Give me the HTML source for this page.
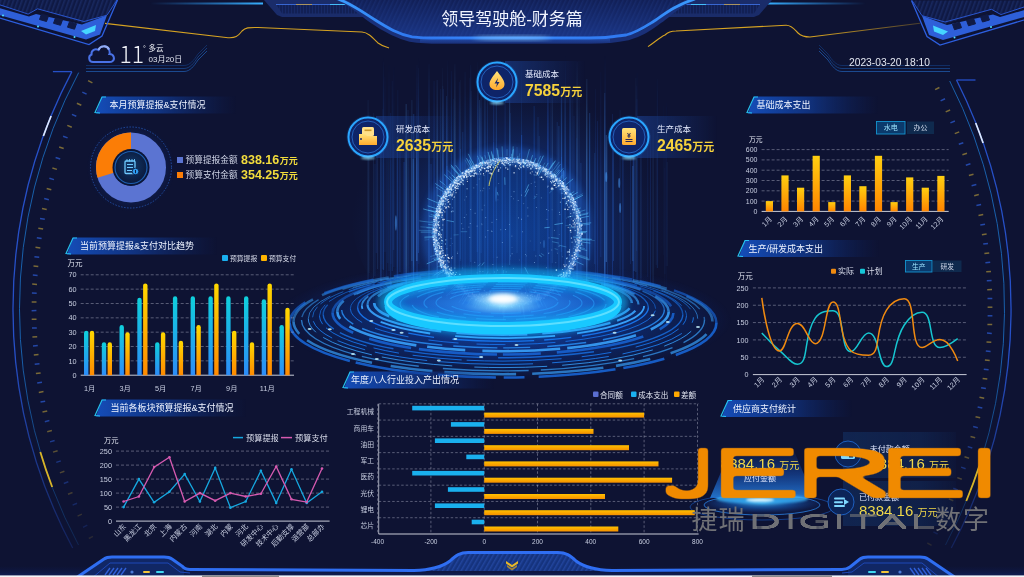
<!DOCTYPE html>
<html lang="zh-CN"><head><meta charset="utf-8"><title>领导驾驶舱-财务篇</title>
<style>
html,body{margin:0;padding:0;background:#0e1333;overflow:hidden;}
#s{position:relative;width:1024px;height:577px;background:#0e1333;overflow:hidden;font-family:'Liberation Sans','Noto Sans CJK SC',sans-serif;}
svg{position:absolute;left:0;top:0;display:block;}
</style></head><body><div id="s">
<svg width="1024" height="577" viewBox="0 0 1024 577">

<defs>
<linearGradient id="tbg" x1="0" x2="1" y1="0" y2="0">
  <stop offset="0" stop-color="#1550c0" stop-opacity="0.95"/>
  <stop offset="0.45" stop-color="#123e9a" stop-opacity="0.75"/>
  <stop offset="1" stop-color="#0e2a70" stop-opacity="0"/>
</linearGradient>
<linearGradient id="tln" x1="0" x2="1" y1="0" y2="0">
  <stop offset="0" stop-color="#2f8cff" stop-opacity="1"/>
  <stop offset="0.6" stop-color="#2a6ee0" stop-opacity="0.6"/>
  <stop offset="1" stop-color="#2a6ee0" stop-opacity="0"/>
</linearGradient>
<linearGradient id="tln2" x1="0" x2="1" y1="0" y2="0">
  <stop offset="0" stop-color="#2a9cff" stop-opacity="1"/>
  <stop offset="0.6" stop-color="#1a6ae0" stop-opacity="0.7"/>
  <stop offset="1" stop-color="#1a6ae0" stop-opacity="0"/>
</linearGradient>
<linearGradient id="gcyan" x1="0" x2="0" y1="0" y2="1">
  <stop offset="0" stop-color="#0fd0dc"/>
  <stop offset="1" stop-color="#2d8cf8"/>
</linearGradient>
<linearGradient id="gorange" x1="0" x2="0" y1="0" y2="1">
  <stop offset="0" stop-color="#ffd800"/>
  <stop offset="1" stop-color="#ff8a00"/>
</linearGradient>
<linearGradient id="gorange2" x1="0" x2="0" y1="0" y2="1">
  <stop offset="0" stop-color="#ffcf10"/>
  <stop offset="1" stop-color="#ff8400"/>
</linearGradient>
<linearGradient id="gorangeh" x1="0" x2="0" y1="0" y2="1">
  <stop offset="0" stop-color="#ffc000"/>
  <stop offset="1" stop-color="#f59000"/>
</linearGradient>
<linearGradient id="goldg" x1="0" x2="0" y1="0" y2="1">
  <stop offset="0" stop-color="#ffe27a"/>
  <stop offset="1" stop-color="#ffab2e"/>
</linearGradient>
<linearGradient id="hdrbg" x1="0" x2="0" y1="0" y2="1">
  <stop offset="0" stop-color="#111f56"/>
  <stop offset="1" stop-color="#1a3585"/>
</linearGradient>
<linearGradient id="hline" x1="0" x2="1" y1="0" y2="0">
  <stop offset="0" stop-color="#3a9cff"/>
  <stop offset="0.2" stop-color="#2f78f0"/>
  <stop offset="0.5" stop-color="#3a8cff"/>
  <stop offset="0.8" stop-color="#2f78f0"/>
  <stop offset="1" stop-color="#3a9cff"/>
</linearGradient>
<linearGradient id="ylR" gradientUnits="userSpaceOnUse" x1="648" x2="920" y1="0" y2="0">
  <stop offset="0" stop-color="#d6a322"/>
  <stop offset="0.6" stop-color="#d6a322"/>
  <stop offset="1" stop-color="#d6a322" stop-opacity="0.3"/>
</linearGradient>
<linearGradient id="hglow" x1="0" x2="0" y1="0" y2="1">
  <stop offset="0" stop-color="#2a6ae0" stop-opacity="0.45"/>
  <stop offset="1" stop-color="#2a6ae0" stop-opacity="0"/>
</linearGradient>
<linearGradient id="cone" x1="0" x2="0" y1="0" y2="1">
  <stop offset="0" stop-color="#1a5ad0" stop-opacity="0"/>
  <stop offset="0.5" stop-color="#1a62d8" stop-opacity="0.4"/>
  <stop offset="1" stop-color="#2a8cf0" stop-opacity="0.8"/>
</linearGradient>
<linearGradient id="arcfade1" gradientUnits="userSpaceOnUse" x1="0" x2="0" y1="60" y2="550">
  <stop offset="0" stop-color="#2650c8"/>
  <stop offset="0.6" stop-color="#2650c8"/>
  <stop offset="1" stop-color="#2650c8" stop-opacity="0.25"/>
</linearGradient>
<linearGradient id="arcfade2" gradientUnits="userSpaceOnUse" x1="0" x2="0" y1="60" y2="550">
  <stop offset="0" stop-color="#1a68b8"/>
  <stop offset="0.6" stop-color="#1a68b8"/>
  <stop offset="1" stop-color="#1a68b8" stop-opacity="0.25"/>
</linearGradient>
<linearGradient id="streakL" x1="0" x2="1">
  <stop offset="0" stop-color="#2a9cff" stop-opacity="0"/>
  <stop offset="1" stop-color="#38b0ff" stop-opacity="1"/>
</linearGradient>
<linearGradient id="streakR" x1="1" x2="0">
  <stop offset="0" stop-color="#2a9cff" stop-opacity="0"/>
  <stop offset="1" stop-color="#38b0ff" stop-opacity="1"/>
</linearGradient>
<linearGradient id="botglow" x1="0" x2="0" y1="0" y2="1">
  <stop offset="0" stop-color="#0e1a4a" stop-opacity="0"/>
  <stop offset="1" stop-color="#10205a" stop-opacity="1"/>
</linearGradient>
<pattern id="stripes" width="4" height="4" patternUnits="userSpaceOnUse" patternTransform="rotate(20)">
  <rect width="4" height="4" fill="#0f1944"/>
  <rect width="1.6" height="4" fill="#18285e"/>
</pattern>
<pattern id="vstripes" width="3" height="4" patternUnits="userSpaceOnUse">
  <rect width="3" height="4" fill="#122055"/>
  <rect width="1" height="4" fill="#172966"/>
</pattern>
<pattern id="vstripes2" width="4" height="4" patternUnits="userSpaceOnUse" patternTransform="rotate(25)">
  <rect width="1.5" height="4" fill="#2a4aa0"/>
</pattern>
<pattern id="dstripes" width="4" height="4" patternUnits="userSpaceOnUse" patternTransform="rotate(30)">
  <rect width="1.5" height="4" fill="#2a50b0"/>
</pattern>
<radialGradient id="streakglow" cx="0.5" cy="0.6" r="0.5">
  <stop offset="0" stop-color="#1652b8" stop-opacity="0.75"/>
  <stop offset="0.55" stop-color="#1442a0" stop-opacity="0.42"/>
  <stop offset="1" stop-color="#10285a" stop-opacity="0"/>
</radialGradient>
<radialGradient id="globefill" cx="0.5" cy="0.5" r="0.5">
  <stop offset="0" stop-color="#0c3c90" stop-opacity="0.45"/>
  <stop offset="0.85" stop-color="#0e3a88" stop-opacity="0.45"/>
  <stop offset="1" stop-color="#2a70d8" stop-opacity="0.6"/>
</radialGradient>
<radialGradient id="globeglow" cx="0.5" cy="0.5" r="0.5">
  <stop offset="0.85" stop-color="#2a70e0" stop-opacity="0"/>
  <stop offset="0.93" stop-color="#3a8af0" stop-opacity="0.5"/>
  <stop offset="1" stop-color="#2a70e0" stop-opacity="0"/>
</radialGradient>
<radialGradient id="ringglow" cx="0.5" cy="0.5" r="0.5">
  <stop offset="0" stop-color="#1450c0" stop-opacity="0.85"/>
  <stop offset="0.55" stop-color="#0f3a98" stop-opacity="0.55"/>
  <stop offset="0.85" stop-color="#0c2a70" stop-opacity="0.35"/>
  <stop offset="1" stop-color="#0e2060" stop-opacity="0"/>
</radialGradient>
<radialGradient id="innerdisc" cx="0.5" cy="0.6" r="0.55">
  <stop offset="0" stop-color="#90e0ff" stop-opacity="0.95"/>
  <stop offset="0.3" stop-color="#2a88f0" stop-opacity="0.85"/>
  <stop offset="1" stop-color="#1050c0" stop-opacity="0.8"/>
</radialGradient>
<radialGradient id="flare" cx="0.5" cy="0.5" r="0.5">
  <stop offset="0" stop-color="#ffffff" stop-opacity="1"/>
  <stop offset="0.3" stop-color="#c8f0ff" stop-opacity="0.8"/>
  <stop offset="1" stop-color="#60c8ff" stop-opacity="0"/>
</radialGradient>
<radialGradient id="kpiglow" cx="0.5" cy="0.5" r="0.5">
  <stop offset="0.8" stop-color="#2a90ff" stop-opacity="0.6"/>
  <stop offset="1" stop-color="#2a90ff" stop-opacity="0"/>
</radialGradient>
<linearGradient id="kpibg" x1="0" x2="1">
  <stop offset="0" stop-color="#1a3c8a" stop-opacity="0.65"/>
  <stop offset="1" stop-color="#1a3c8a" stop-opacity="0"/>
</linearGradient>
<radialGradient id="donutbg" cx="0.5" cy="0.5" r="0.5">
  <stop offset="0.7" stop-color="#0f1f52" stop-opacity="1"/>
  <stop offset="1" stop-color="#0e1a45" stop-opacity="0"/>
</radialGradient>
<radialGradient id="cenbg" cx="0.5" cy="0.45" r="0.5">
  <stop offset="0" stop-color="#123a6a"/>
  <stop offset="1" stop-color="#0b1c40"/>
</radialGradient>
<radialGradient id="pedglow" cx="0.5" cy="0.75" r="0.5">
  <stop offset="0" stop-color="#1a70e0" stop-opacity="0.7"/>
  <stop offset="0.6" stop-color="#1448a8" stop-opacity="0.35"/>
  <stop offset="1" stop-color="#0e2a70" stop-opacity="0"/>
</radialGradient>
<radialGradient id="pedbase" cx="0.5" cy="0.4" r="0.5">
  <stop offset="0" stop-color="#4ac0ff" stop-opacity="0.8"/>
  <stop offset="0.5" stop-color="#1a7ae8" stop-opacity="0.5"/>
  <stop offset="1" stop-color="#1a5ad0" stop-opacity="0.1"/>
</radialGradient>
<linearGradient id="supbox" x1="0" x2="1">
  <stop offset="0" stop-color="#143468" stop-opacity="0.55"/>
  <stop offset="0.7" stop-color="#143468" stop-opacity="0.4"/>
  <stop offset="1" stop-color="#143468" stop-opacity="0.1"/>
</linearGradient>
<filter id="thickJ" x="-10%" y="-30%" width="120%" height="160%" color-interpolation-filters="sRGB"><feMorphology operator="dilate" radius="2.5 3.3"/><feGaussianBlur stdDeviation="1.6"/><feComponentTransfer><feFuncA type="linear" slope="3" intercept="-1"/></feComponentTransfer></filter>
<filter id="thickD" x="-10%" y="-30%" width="120%" height="160%" color-interpolation-filters="sRGB"><feMorphology operator="dilate" radius="1.1 1.3"/><feGaussianBlur stdDeviation="0.5"/><feComponentTransfer><feFuncA type="linear" slope="2" intercept="-0.4"/></feComponentTransfer></filter>
<linearGradient id="bmg" gradientUnits="userSpaceOnUse" x1="260" x2="750" y1="0" y2="0">
  <stop offset="0" stop-color="#fff"/>
  <stop offset="0.3" stop-color="#fff" stop-opacity="0.85"/>
  <stop offset="0.42" stop-color="#fff" stop-opacity="0.25"/>
  <stop offset="0.5" stop-color="#fff" stop-opacity="0.12"/>
  <stop offset="0.58" stop-color="#fff" stop-opacity="0.25"/>
  <stop offset="0.7" stop-color="#fff" stop-opacity="0.85"/>
  <stop offset="1" stop-color="#fff"/>
</linearGradient>
<mask id="backmask" maskUnits="userSpaceOnUse" x="0" y="0" width="1024" height="577">
  <rect x="0" y="0" width="1024" height="577" fill="url(#bmg)"/>
  <rect x="0" y="300" width="1024" height="100" fill="#fff"/>
</mask>
<linearGradient id="smg" gradientUnits="userSpaceOnUse" x1="0" x2="0" y1="55" y2="300">
  <stop offset="0" stop-color="#fff" stop-opacity="0"/>
  <stop offset="0.45" stop-color="#fff" stop-opacity="0.9"/>
  <stop offset="1" stop-color="#fff" stop-opacity="1"/>
</linearGradient>
<mask id="streakmask" maskUnits="userSpaceOnUse" x="0" y="0" width="1024" height="577">
  <rect x="0" y="0" width="1024" height="577" fill="url(#smg)"/>
</mask>
<filter id="blur1" x="-50%" y="-50%" width="200%" height="200%"><feGaussianBlur stdDeviation="1"/></filter>
<filter id="blur2" x="-50%" y="-50%" width="200%" height="200%"><feGaussianBlur stdDeviation="2"/></filter>
<filter id="blur3" x="-50%" y="-50%" width="200%" height="200%"><feGaussianBlur stdDeviation="3"/></filter>
</defs>

<ellipse cx="510" cy="205" rx="160" ry="150" fill="url(#streakglow)"/>
<g mask="url(#streakmask)">
<line x1="465.1" y1="72" x2="465.1" y2="283" stroke="#2f7cf0" stroke-width="1.4" opacity="0.26"/>
<line x1="477.7" y1="62" x2="477.7" y2="275" stroke="#5aa8ff" stroke-width="1.1" opacity="0.26"/>
<line x1="389.0" y1="65" x2="389.0" y2="271" stroke="#3a8cff" stroke-width="0.5" opacity="0.29"/>
<line x1="557.2" y1="122" x2="557.2" y2="253" stroke="#3a8cff" stroke-width="0.5" opacity="0.47"/>
<line x1="382.0" y1="154" x2="382.0" y2="264" stroke="#2a6ae8" stroke-width="0.5" opacity="0.13"/>
<line x1="460.5" y1="149" x2="460.5" y2="259" stroke="#1e5fd0" stroke-width="0.7" opacity="0.47"/>
<line x1="397.2" y1="137" x2="397.2" y2="278" stroke="#2a6ae8" stroke-width="1.1" opacity="0.28"/>
<line x1="496.3" y1="91" x2="496.3" y2="279" stroke="#3a8cff" stroke-width="0.9" opacity="0.45"/>
<line x1="606.3" y1="135" x2="606.3" y2="262" stroke="#5aa8ff" stroke-width="1.4" opacity="0.34"/>
<line x1="630.5" y1="139" x2="630.5" y2="264" stroke="#2a6ae8" stroke-width="0.5" opacity="0.32"/>
<line x1="493.4" y1="142" x2="493.4" y2="258" stroke="#2f7cf0" stroke-width="0.5" opacity="0.47"/>
<line x1="597.4" y1="121" x2="597.4" y2="294" stroke="#2a6ae8" stroke-width="0.9" opacity="0.28"/>
<line x1="517.0" y1="147" x2="517.0" y2="253" stroke="#5aa8ff" stroke-width="0.9" opacity="0.29"/>
<line x1="577.1" y1="62" x2="577.1" y2="287" stroke="#5aa8ff" stroke-width="1.4" opacity="0.32"/>
<line x1="453.4" y1="99" x2="453.4" y2="283" stroke="#1e5fd0" stroke-width="1.1" opacity="0.23"/>
<line x1="418.4" y1="68" x2="418.4" y2="253" stroke="#3a8cff" stroke-width="0.7" opacity="0.41"/>
<line x1="487.4" y1="160" x2="487.4" y2="275" stroke="#2a6ae8" stroke-width="1.1" opacity="0.32"/>
<line x1="451.4" y1="71" x2="451.4" y2="272" stroke="#1e5fd0" stroke-width="1.1" opacity="0.43"/>
<line x1="572.8" y1="99" x2="572.8" y2="262" stroke="#3a8cff" stroke-width="0.7" opacity="0.25"/>
<line x1="565.6" y1="56" x2="565.6" y2="292" stroke="#2f7cf0" stroke-width="0.9" opacity="0.29"/>
<line x1="411.7" y1="116" x2="411.7" y2="280" stroke="#2a6ae8" stroke-width="0.7" opacity="0.25"/>
<line x1="653.1" y1="130" x2="653.1" y2="287" stroke="#5aa8ff" stroke-width="1.4" opacity="0.11"/>
<line x1="487.4" y1="100" x2="487.4" y2="274" stroke="#2f7cf0" stroke-width="0.7" opacity="0.42"/>
<line x1="663.4" y1="106" x2="663.4" y2="255" stroke="#2f7cf0" stroke-width="0.5" opacity="0.08"/>
<line x1="538.0" y1="117" x2="538.0" y2="297" stroke="#3a8cff" stroke-width="0.5" opacity="0.51"/>
<line x1="552.2" y1="72" x2="552.2" y2="263" stroke="#5aa8ff" stroke-width="0.9" opacity="0.38"/>
<line x1="404.9" y1="153" x2="404.9" y2="300" stroke="#1e5fd0" stroke-width="1.1" opacity="0.27"/>
<line x1="393.8" y1="67" x2="393.8" y2="267" stroke="#2a6ae8" stroke-width="0.7" opacity="0.19"/>
<line x1="374.9" y1="164" x2="374.9" y2="276" stroke="#2f7cf0" stroke-width="1.4" opacity="0.10"/>
<line x1="595.4" y1="89" x2="595.4" y2="282" stroke="#2a6ae8" stroke-width="0.9" opacity="0.21"/>
<line x1="478.0" y1="74" x2="478.0" y2="289" stroke="#1e5fd0" stroke-width="1.4" opacity="0.47"/>
<line x1="558.9" y1="126" x2="558.9" y2="289" stroke="#3a8cff" stroke-width="0.7" opacity="0.54"/>
<line x1="613.5" y1="140" x2="613.5" y2="261" stroke="#2f7cf0" stroke-width="0.9" opacity="0.29"/>
<line x1="664.9" y1="146" x2="664.9" y2="274" stroke="#1e5fd0" stroke-width="1.4" opacity="0.05"/>
<line x1="502.2" y1="163" x2="502.2" y2="299" stroke="#2f7cf0" stroke-width="0.9" opacity="0.68"/>
<line x1="434.1" y1="81" x2="434.1" y2="260" stroke="#2a6ae8" stroke-width="1.4" opacity="0.27"/>
<line x1="620.1" y1="110" x2="620.1" y2="283" stroke="#2f7cf0" stroke-width="0.5" opacity="0.34"/>
<line x1="640.9" y1="145" x2="640.9" y2="288" stroke="#5aa8ff" stroke-width="0.7" opacity="0.17"/>
<line x1="604.7" y1="93" x2="604.7" y2="290" stroke="#5aa8ff" stroke-width="1.1" opacity="0.46"/>
<line x1="488.4" y1="164" x2="488.4" y2="286" stroke="#2f7cf0" stroke-width="0.7" opacity="0.32"/>
<line x1="413.3" y1="159" x2="413.3" y2="290" stroke="#5aa8ff" stroke-width="1.4" opacity="0.21"/>
<line x1="565.2" y1="95" x2="565.2" y2="277" stroke="#2f7cf0" stroke-width="0.5" opacity="0.27"/>
<line x1="526.0" y1="162" x2="526.0" y2="272" stroke="#2f7cf0" stroke-width="0.7" opacity="0.64"/>
<line x1="443.6" y1="89" x2="443.6" y2="262" stroke="#2a6ae8" stroke-width="0.9" opacity="0.43"/>
<line x1="493.7" y1="70" x2="493.7" y2="296" stroke="#2a6ae8" stroke-width="1.1" opacity="0.41"/>
<line x1="612.5" y1="114" x2="612.5" y2="291" stroke="#2a6ae8" stroke-width="0.7" opacity="0.40"/>
<line x1="413.6" y1="114" x2="413.6" y2="294" stroke="#2f7cf0" stroke-width="1.4" opacity="0.39"/>
<line x1="600.8" y1="72" x2="600.8" y2="257" stroke="#2a6ae8" stroke-width="0.5" opacity="0.37"/>
<line x1="386.5" y1="133" x2="386.5" y2="277" stroke="#2a6ae8" stroke-width="0.5" opacity="0.21"/>
<line x1="385.0" y1="77" x2="385.0" y2="252" stroke="#2a6ae8" stroke-width="1.1" opacity="0.13"/>
<line x1="376.4" y1="158" x2="376.4" y2="253" stroke="#2a6ae8" stroke-width="1.4" opacity="0.14"/>
<line x1="521.6" y1="135" x2="521.6" y2="273" stroke="#2a6ae8" stroke-width="1.1" opacity="0.49"/>
<line x1="650.5" y1="135" x2="650.5" y2="294" stroke="#2a6ae8" stroke-width="0.9" opacity="0.19"/>
<line x1="635.8" y1="78" x2="635.8" y2="272" stroke="#5aa8ff" stroke-width="1.1" opacity="0.18"/>
<line x1="462.8" y1="132" x2="462.8" y2="271" stroke="#2f7cf0" stroke-width="0.9" opacity="0.32"/>
<line x1="637.1" y1="73" x2="637.1" y2="286" stroke="#1e5fd0" stroke-width="0.7" opacity="0.22"/>
<line x1="632.8" y1="166" x2="632.8" y2="261" stroke="#5aa8ff" stroke-width="1.1" opacity="0.30"/>
<line x1="416.8" y1="132" x2="416.8" y2="261" stroke="#5aa8ff" stroke-width="1.4" opacity="0.39"/>
<line x1="469.7" y1="78" x2="469.7" y2="266" stroke="#1e5fd0" stroke-width="0.5" opacity="0.54"/>
<line x1="534.2" y1="106" x2="534.2" y2="251" stroke="#1e5fd0" stroke-width="1.4" opacity="0.39"/>
<line x1="521.7" y1="62" x2="521.7" y2="299" stroke="#2f7cf0" stroke-width="0.5" opacity="0.60"/>
<line x1="447.7" y1="60" x2="447.7" y2="289" stroke="#5aa8ff" stroke-width="0.7" opacity="0.32"/>
<line x1="622.9" y1="133" x2="622.9" y2="297" stroke="#2a6ae8" stroke-width="1.4" opacity="0.23"/>
<line x1="539.2" y1="136" x2="539.2" y2="254" stroke="#5aa8ff" stroke-width="0.7" opacity="0.27"/>
<line x1="636.6" y1="86" x2="636.6" y2="251" stroke="#2f7cf0" stroke-width="0.9" opacity="0.12"/>
<line x1="550.5" y1="81" x2="550.5" y2="263" stroke="#1e5fd0" stroke-width="0.5" opacity="0.29"/>
<line x1="666.3" y1="103" x2="666.3" y2="296" stroke="#2a6ae8" stroke-width="0.5" opacity="0.08"/>
<line x1="580.9" y1="163" x2="580.9" y2="298" stroke="#3a8cff" stroke-width="0.7" opacity="0.30"/>
<line x1="647.7" y1="127" x2="647.7" y2="277" stroke="#2a6ae8" stroke-width="1.1" opacity="0.10"/>
<line x1="569.6" y1="86" x2="569.6" y2="290" stroke="#2f7cf0" stroke-width="0.5" opacity="0.61"/>
<line x1="373.5" y1="113" x2="373.5" y2="299" stroke="#5aa8ff" stroke-width="0.7" opacity="0.15"/>
<line x1="399.9" y1="149" x2="399.9" y2="272" stroke="#2a6ae8" stroke-width="1.1" opacity="0.26"/>
<line x1="460.3" y1="80" x2="460.3" y2="261" stroke="#5aa8ff" stroke-width="0.7" opacity="0.31"/>
<line x1="664.8" y1="168" x2="664.8" y2="292" stroke="#5aa8ff" stroke-width="0.9" opacity="0.04"/>
<line x1="417.0" y1="65" x2="417.0" y2="292" stroke="#2a6ae8" stroke-width="0.9" opacity="0.44"/>
<line x1="440.7" y1="89" x2="440.7" y2="273" stroke="#2f7cf0" stroke-width="1.1" opacity="0.26"/>
<line x1="447.0" y1="166" x2="447.0" y2="299" stroke="#2f7cf0" stroke-width="0.7" opacity="0.42"/>
<line x1="657.7" y1="91" x2="657.7" y2="268" stroke="#2f7cf0" stroke-width="1.1" opacity="0.05"/>
<line x1="510.4" y1="113" x2="510.4" y2="260" stroke="#2f7cf0" stroke-width="0.5" opacity="0.48"/>
<line x1="447.3" y1="65" x2="447.3" y2="270" stroke="#1e5fd0" stroke-width="0.5" opacity="0.23"/>
<line x1="459.3" y1="82" x2="459.3" y2="279" stroke="#2a6ae8" stroke-width="0.7" opacity="0.44"/>
<line x1="484.9" y1="93" x2="484.9" y2="299" stroke="#3a8cff" stroke-width="1.4" opacity="0.31"/>
<line x1="381.1" y1="151" x2="381.1" y2="295" stroke="#3a8cff" stroke-width="1.4" opacity="0.21"/>
<line x1="641.0" y1="142" x2="641.0" y2="278" stroke="#2a6ae8" stroke-width="0.5" opacity="0.23"/>
<line x1="607.4" y1="137" x2="607.4" y2="298" stroke="#2f7cf0" stroke-width="0.5" opacity="0.35"/>
<line x1="380.6" y1="128" x2="380.6" y2="298" stroke="#2a6ae8" stroke-width="1.1" opacity="0.16"/>
<line x1="383.2" y1="57" x2="383.2" y2="277" stroke="#2f7cf0" stroke-width="0.9" opacity="0.15"/>
<line x1="505.1" y1="63" x2="505.1" y2="297" stroke="#2a6ae8" stroke-width="0.5" opacity="0.65"/>
<line x1="387.8" y1="140" x2="387.8" y2="263" stroke="#3a8cff" stroke-width="0.9" opacity="0.13"/>
<line x1="586.8" y1="79" x2="586.8" y2="287" stroke="#5aa8ff" stroke-width="1.1" opacity="0.54"/>
<line x1="391.0" y1="160" x2="391.0" y2="264" stroke="#2f7cf0" stroke-width="0.7" opacity="0.13"/>
<line x1="547.9" y1="93" x2="547.9" y2="283" stroke="#2a6ae8" stroke-width="1.4" opacity="0.53"/>
<line x1="408.0" y1="110" x2="408.0" y2="274" stroke="#3a8cff" stroke-width="0.5" opacity="0.43"/>
<line x1="570.7" y1="88" x2="570.7" y2="276" stroke="#2f7cf0" stroke-width="1.1" opacity="0.40"/>
<line x1="666.0" y1="118" x2="666.0" y2="266" stroke="#2f7cf0" stroke-width="1.1" opacity="0.04"/>
<line x1="454.9" y1="64" x2="454.9" y2="275" stroke="#5aa8ff" stroke-width="0.9" opacity="0.62"/>
<line x1="431.0" y1="164" x2="431.0" y2="261" stroke="#2a6ae8" stroke-width="0.7" opacity="0.39"/>
<line x1="446.5" y1="96" x2="446.5" y2="280" stroke="#2f7cf0" stroke-width="0.9" opacity="0.46"/>
<line x1="579.0" y1="82" x2="579.0" y2="295" stroke="#3a8cff" stroke-width="0.5" opacity="0.39"/>
<line x1="369.1" y1="112" x2="369.1" y2="273" stroke="#5aa8ff" stroke-width="0.7" opacity="0.10"/>
<line x1="471.2" y1="91" x2="471.2" y2="292" stroke="#5aa8ff" stroke-width="0.9" opacity="0.24"/>
<line x1="404.0" y1="162" x2="404.0" y2="286" stroke="#1e5fd0" stroke-width="0.9" opacity="0.39"/>
<line x1="479.7" y1="100" x2="479.7" y2="300" stroke="#5aa8ff" stroke-width="0.9" opacity="0.50"/>
<line x1="594.7" y1="153" x2="594.7" y2="264" stroke="#3a8cff" stroke-width="0.9" opacity="0.20"/>
<line x1="442.8" y1="86" x2="442.8" y2="276" stroke="#5aa8ff" stroke-width="0.9" opacity="0.28"/>
<line x1="633.3" y1="148" x2="633.3" y2="282" stroke="#2a6ae8" stroke-width="1.4" opacity="0.29"/>
<line x1="429.0" y1="64" x2="429.0" y2="297" stroke="#3a8cff" stroke-width="1.4" opacity="0.33"/>
<line x1="561.3" y1="88" x2="561.3" y2="252" stroke="#3a8cff" stroke-width="0.7" opacity="0.60"/>
<line x1="509.7" y1="95" x2="509.7" y2="265" stroke="#5aa8ff" stroke-width="0.9" opacity="0.58"/>
<line x1="564.8" y1="90" x2="564.8" y2="278" stroke="#3a8cff" stroke-width="0.7" opacity="0.38"/>
<line x1="390.6" y1="113" x2="390.6" y2="291" stroke="#1e5fd0" stroke-width="1.1" opacity="0.24"/>
<line x1="666.9" y1="107" x2="666.9" y2="257" stroke="#3a8cff" stroke-width="0.5" opacity="0.05"/>
<line x1="470.6" y1="65" x2="470.6" y2="262" stroke="#3a8cff" stroke-width="1.4" opacity="0.35"/>
<line x1="634.2" y1="141" x2="634.2" y2="271" stroke="#3a8cff" stroke-width="1.4" opacity="0.19"/>
<line x1="481.1" y1="94" x2="481.1" y2="253" stroke="#3a8cff" stroke-width="0.9" opacity="0.36"/>
<line x1="574.0" y1="116" x2="574.0" y2="290" stroke="#1e5fd0" stroke-width="0.5" opacity="0.54"/>
<line x1="637.0" y1="99" x2="637.0" y2="282" stroke="#2f7cf0" stroke-width="0.9" opacity="0.18"/>
<line x1="406.2" y1="104" x2="406.2" y2="288" stroke="#5aa8ff" stroke-width="1.4" opacity="0.37"/>
<line x1="368.1" y1="100" x2="368.1" y2="296" stroke="#5aa8ff" stroke-width="1.1" opacity="0.16"/>
<line x1="442.5" y1="68" x2="442.5" y2="258" stroke="#5aa8ff" stroke-width="0.5" opacity="0.40"/>
<line x1="393.5" y1="144" x2="393.5" y2="250" stroke="#2f7cf0" stroke-width="1.4" opacity="0.15"/>
<line x1="561.7" y1="90" x2="561.7" y2="256" stroke="#2f7cf0" stroke-width="1.1" opacity="0.33"/>
<line x1="397.8" y1="90" x2="397.8" y2="297" stroke="#3a8cff" stroke-width="0.9" opacity="0.18"/>
<line x1="605.1" y1="55" x2="605.1" y2="277" stroke="#1e5fd0" stroke-width="0.9" opacity="0.47"/>
<line x1="561.4" y1="157" x2="561.4" y2="274" stroke="#2f7cf0" stroke-width="0.7" opacity="0.32"/>
<line x1="656.2" y1="136" x2="656.2" y2="265" stroke="#5aa8ff" stroke-width="1.1" opacity="0.06"/>
<line x1="392.3" y1="81" x2="392.3" y2="271" stroke="#2f7cf0" stroke-width="1.1" opacity="0.20"/>
<line x1="576.7" y1="138" x2="576.7" y2="268" stroke="#1e5fd0" stroke-width="0.5" opacity="0.36"/>
<line x1="589.7" y1="113" x2="589.7" y2="260" stroke="#3a8cff" stroke-width="0.9" opacity="0.53"/>
<line x1="437.2" y1="80" x2="437.2" y2="288" stroke="#5aa8ff" stroke-width="1.4" opacity="0.31"/>
<line x1="551.0" y1="158" x2="551.0" y2="274" stroke="#2a6ae8" stroke-width="0.5" opacity="0.62"/>
<line x1="411.9" y1="100" x2="411.9" y2="261" stroke="#5aa8ff" stroke-width="0.7" opacity="0.45"/>
<line x1="383.6" y1="62" x2="383.6" y2="270" stroke="#2f7cf0" stroke-width="0.9" opacity="0.27"/>
<line x1="667.3" y1="162" x2="667.3" y2="266" stroke="#5aa8ff" stroke-width="1.4" opacity="0.05"/>
<line x1="377.6" y1="131" x2="377.6" y2="269" stroke="#5aa8ff" stroke-width="0.9" opacity="0.15"/>
<line x1="418.8" y1="55" x2="418.8" y2="264" stroke="#2a6ae8" stroke-width="0.5" opacity="0.28"/>
<line x1="657.3" y1="79" x2="657.3" y2="268" stroke="#2f7cf0" stroke-width="1.1" opacity="0.13"/>
<line x1="382.8" y1="109" x2="382.8" y2="269" stroke="#1e5fd0" stroke-width="0.7" opacity="0.27"/>
<line x1="477.3" y1="158" x2="477.3" y2="252" stroke="#2f7cf0" stroke-width="1.1" opacity="0.42"/>
<line x1="480.7" y1="108" x2="480.7" y2="290" stroke="#2f7cf0" stroke-width="0.7" opacity="0.27"/>
</g>
<ellipse cx="606.2" cy="177" rx="1" ry="5.1" fill="#4aa0ff" opacity="0.5"/>
<ellipse cx="620.1" cy="208" rx="1" ry="5.0" fill="#4aa0ff" opacity="0.5"/>
<ellipse cx="563.4" cy="175" rx="1" ry="5.1" fill="#4aa0ff" opacity="0.5"/>
<ellipse cx="395.9" cy="223" rx="1" ry="7.7" fill="#4aa0ff" opacity="0.5"/>
<ellipse cx="544.0" cy="244" rx="1" ry="4.1" fill="#4aa0ff" opacity="0.5"/>
<ellipse cx="450.0" cy="192" rx="1" ry="7.8" fill="#4aa0ff" opacity="0.5"/>
<ellipse cx="619.2" cy="183" rx="1" ry="5.0" fill="#4aa0ff" opacity="0.5"/>
<ellipse cx="496.0" cy="194" rx="1" ry="7.7" fill="#4aa0ff" opacity="0.5"/>
<rect x="150" y="2.5" width="113" height="2" fill="url(#streakL)"/>
<rect x="766" y="2.5" width="100" height="2" fill="url(#streakR)"/>
<polygon points="264.0,0.0 362.0,0.0 372.0,17.0 282.0,17.0 277.0,15.0" fill="#1a2c6a"/>
<polygon points="276.0,4.0 358.0,4.0 364.0,13.5 282.0,13.5" fill="url(#vstripes)"/>
<polyline points="276.0,4.5 358.0,4.5" stroke="#3d6ee0" stroke-width="0.9"/>
<polyline points="296.0,4.5 312.0,4.5" stroke="#b89a52" stroke-width="0.9"/>
<polyline points="330.0,4.5 345.0,4.5" stroke="#45c8ff" stroke-width="0.9"/>
<polygon points="772.0,0.0 674.0,0.0 664.0,17.0 754.0,17.0 759.0,15.0" fill="#1a2c6a"/>
<polygon points="760.0,4.0 678.0,4.0 672.0,13.5 754.0,13.5" fill="url(#vstripes)"/>
<polyline points="760.0,4.5 678.0,4.5" stroke="#3d6ee0" stroke-width="0.9"/>
<polyline points="740.0,4.5 724.0,4.5" stroke="#b89a52" stroke-width="0.9"/>
<polyline points="706.0,4.5 691.0,4.5" stroke="#45c8ff" stroke-width="0.9"/>
<path d="M330,-1 C348,3 362,12 374,20 C387,28.5 397,33.5 411,36 C420,37 428,37 440,37 L590,37 C604,37 614,36 626,34 C639,31 647,25.5 657,19 C669,11 680,3 700,-1 Z" fill="url(#hdrbg)"/>
<path d="M330,-1 C348,3 362,12 374,20 C387,28.5 397,33.5 411,36 C420,37 428,37 440,37 L590,37 C604,37 614,36 626,34 C639,31 647,25.5 657,19 C669,11 680,3 700,-1 Z" fill="url(#vstripes2)" opacity="0.2"/>
<path d="M333,-3 C350,2 359,12 371,20.5 C384,29.5 395,36 410,39.5 C420,41 428,41.5 440,41.5 L590,41.5 C604,41.5 616,40.5 628,38 C642,34.5 650,28 660,21 C672,12.5 682,2 698,-3" fill="none" stroke="#1a3078" stroke-width="4.5"/>
<path d="M338,-1 C352,4 364,13 376,20.5 C388,28 398,34 412,36.8 C420,37.8 428,38 440,38 L590,38 C604,38 614,37 626,35 C638,32 646,26 655,20.5 C666,13 676,5 695,-1" fill="none" stroke="url(#hline)" stroke-width="2.8"/>
<rect x="420" y="38.5" width="190" height="5" fill="url(#hglow)"/>
<ellipse cx="512" cy="38" rx="40" ry="1.6" fill="#8fd0ff" opacity="0.8" filter="url(#blur2)"/>
<path d="M105,23.4 L226,37.5 C236,38.5 238,36 242,31 C246,27 250,27.5 258,27.5 L362,32 C368,32.5 372,37 378,43 C382,46 386,47 389,48" fill="none" stroke="#d6a322" stroke-width="1.1"/>
<path d="M648,46.6 C655,42 660,37 665,35 C668,32 671,31 676,31 L786,25.2 C792,25 795,30 798,33 C801,36 804,37 810,37 L920,23.2" fill="none" stroke="url(#ylR)" stroke-width="1.1"/>
<polygon points="0.0,0.0 117.0,0.0 107.0,15.2 84.0,23.4 37.5,8.8 28.1,14.1 0.0,4.9" fill="url(#stripes)"/>
<polyline points="0.0,4.9 28.1,14.1 37.5,8.8 84.0,21.5 107.0,15.2 117.0,0.0" fill="none" stroke="#2a55cc" stroke-width="1"/>
<polyline points="117.5,0.0 102.0,36.0 89.0,44.5 0.0,18.0" fill="none" stroke="#2d5fe0" stroke-width="1.3"/>
<polygon points="0.0,8.2 29.0,16.4 36.0,14.0 82.0,24.6 107.0,15.2 100.0,34.5 86.0,39.5 0.0,15.2" fill="#2e5fd9"/>
<polygon points="41.5,14.0 48.5,16.0 46.5,21.5 39.5,19.5" fill="#101a45" stroke="#101a45" stroke-width="1" stroke-linejoin="round"/>
<polygon points="55.5,17.8 62.5,19.8 60.5,25.3 53.5,23.3" fill="#101a45" stroke="#101a45" stroke-width="1" stroke-linejoin="round"/>
<polygon points="69.5,21.7 76.5,23.7 74.5,29.2 67.5,27.2" fill="#101a45" stroke="#101a45" stroke-width="1" stroke-linejoin="round"/>
<polygon points="81.0,31.0 96.0,25.0 95.0,31.0 86.0,34.5" fill="#46d6ff"/>
<circle cx="3" cy="15.5" r="1" fill="#4ee0ff"/>
<circle cx="38" cy="26.5" r="1" fill="#4ee0ff"/>
<circle cx="74.5" cy="37" r="1" fill="#4ee0ff"/>
<polygon points="1029.0,0.5 912.0,0.5 922.0,15.7 945.0,23.9 991.5,9.3 1000.9,14.6 1029.0,5.4" fill="url(#stripes)"/>
<polyline points="1029.0,5.4 1000.9,14.6 991.5,9.3 945.0,22.0 922.0,15.7 912.0,0.5" fill="none" stroke="#2a55cc" stroke-width="1"/>
<polyline points="911.5,0.5 927.0,36.5 940.0,45.0 1029.0,18.5" fill="none" stroke="#2d5fe0" stroke-width="1.3"/>
<polygon points="1029.0,8.7 1000.0,16.9 993.0,14.5 947.0,25.1 922.0,15.7 929.0,35.0 943.0,40.0 1029.0,15.7" fill="#2e5fd9"/>
<polygon points="987.5,14.5 980.5,16.5 982.5,22.0 989.5,20.0" fill="#101a45" stroke="#101a45" stroke-width="1" stroke-linejoin="round"/>
<polygon points="973.5,18.3 966.5,20.3 968.5,25.8 975.5,23.8" fill="#101a45" stroke="#101a45" stroke-width="1" stroke-linejoin="round"/>
<polygon points="959.5,22.2 952.5,24.2 954.5,29.7 961.5,27.7" fill="#101a45" stroke="#101a45" stroke-width="1" stroke-linejoin="round"/>
<polygon points="948.0,31.5 933.0,25.5 934.0,31.5 943.0,35.0" fill="#46d6ff"/>
<circle cx="1026" cy="16.0" r="1" fill="#4ee0ff"/>
<circle cx="991" cy="27.0" r="1" fill="#4ee0ff"/>
<circle cx="954.5" cy="37.5" r="1" fill="#4ee0ff"/>
<path d="M86,65.5 L184,65.5 C190,65.5 194,60 198,54 L207,45" fill="none" stroke="#12306a" stroke-width="0.9"/>
<path d="M86,68.5 L184,68.5 C190,68.5 194,63 198,57 L207,48" fill="none" stroke="#173f80" stroke-width="0.9"/>
<path d="M86,71.5 L184,71.5 C190,71.5 194,66 198,60 L207,51" fill="none" stroke="#1d4f9a" stroke-width="0.9"/>
<path d="M950,65.5 L842,65.5 C836,65.5 832,60 828,54 L819,45" fill="none" stroke="#12306a" stroke-width="0.9"/>
<path d="M950,68.5 L842,68.5 C836,68.5 832,63 828,57 L819,48" fill="none" stroke="#173f80" stroke-width="0.9"/>
<path d="M950,71.5 L842,71.5 C836,71.5 832,66 828,60 L819,51" fill="none" stroke="#1d4f9a" stroke-width="0.9"/>
<path d="M71.9,71.6 A508,508 0 0 0 72.7,548" fill="none" stroke="url(#arcfade1)" stroke-width="1.3"/>
<path d="M78.7,72.6 A501.5,501.5 0 0 0 78.5,545" fill="none" stroke="url(#arcfade2)" stroke-width="0.9"/>
<line x1="71.9" y1="71.6" x2="52.9" y2="71.6" stroke="#2650c8" stroke-width="1.3"/>
<path d="M51.1,116 A508,508 0 0 0 43.4,136" fill="none" stroke="#dce8ff" stroke-width="1.7"/>
<line x1="92.4" y1="82.9" x2="88.1" y2="80.7" stroke="#7a6a38" stroke-width="1.5" opacity="1.00"/>
<line x1="86.6" y1="94.2" x2="82.3" y2="92.1" stroke="#2448a8" stroke-width="1.5" opacity="1.00"/>
<line x1="81.3" y1="105.3" x2="76.9" y2="103.3" stroke="#7a6a38" stroke-width="1.5" opacity="1.00"/>
<line x1="76.3" y1="116.3" x2="71.9" y2="114.4" stroke="#2448a8" stroke-width="1.5" opacity="1.00"/>
<line x1="71.8" y1="127.2" x2="67.3" y2="125.4" stroke="#7a6a38" stroke-width="1.5" opacity="1.00"/>
<line x1="67.6" y1="137.9" x2="63.1" y2="136.2" stroke="#2448a8" stroke-width="1.5" opacity="1.00"/>
<line x1="63.7" y1="148.5" x2="59.2" y2="147.0" stroke="#7a6a38" stroke-width="1.5" opacity="1.00"/>
<line x1="60.2" y1="159.0" x2="55.6" y2="157.5" stroke="#2448a8" stroke-width="1.5" opacity="1.00"/>
<line x1="56.9" y1="169.4" x2="52.4" y2="168.0" stroke="#7a6a38" stroke-width="1.5" opacity="1.00"/>
<line x1="54.0" y1="179.6" x2="49.4" y2="178.3" stroke="#2448a8" stroke-width="1.5" opacity="1.00"/>
<line x1="51.3" y1="189.7" x2="46.7" y2="188.5" stroke="#7a6a38" stroke-width="1.5" opacity="1.00"/>
<line x1="48.9" y1="199.7" x2="44.2" y2="198.6" stroke="#2448a8" stroke-width="1.5" opacity="1.00"/>
<line x1="46.7" y1="209.6" x2="42.0" y2="208.6" stroke="#7a6a38" stroke-width="1.5" opacity="1.00"/>
<line x1="44.8" y1="219.3" x2="40.0" y2="218.5" stroke="#2448a8" stroke-width="1.5" opacity="1.00"/>
<line x1="43.1" y1="229.0" x2="38.3" y2="228.2" stroke="#7a6a38" stroke-width="1.5" opacity="1.00"/>
<line x1="41.6" y1="238.5" x2="36.8" y2="237.8" stroke="#2448a8" stroke-width="1.5" opacity="1.00"/>
<line x1="40.3" y1="247.9" x2="35.5" y2="247.3" stroke="#7a6a38" stroke-width="1.5" opacity="1.00"/>
<line x1="39.2" y1="257.2" x2="34.4" y2="256.7" stroke="#2448a8" stroke-width="1.5" opacity="1.00"/>
<line x1="38.3" y1="266.4" x2="33.5" y2="265.9" stroke="#7a6a38" stroke-width="1.5" opacity="1.00"/>
<line x1="37.6" y1="275.4" x2="32.8" y2="275.1" stroke="#2448a8" stroke-width="1.5" opacity="1.00"/>
<line x1="37.0" y1="284.4" x2="32.2" y2="284.1" stroke="#7a6a38" stroke-width="1.5" opacity="1.00"/>
<line x1="36.7" y1="293.2" x2="31.9" y2="293.1" stroke="#2448a8" stroke-width="1.5" opacity="1.00"/>
<line x1="36.5" y1="302.0" x2="31.7" y2="301.9" stroke="#7a6a38" stroke-width="1.5" opacity="1.00"/>
<line x1="36.4" y1="310.6" x2="31.6" y2="310.7" stroke="#2448a8" stroke-width="1.5" opacity="1.00"/>
<line x1="36.5" y1="319.2" x2="31.7" y2="319.3" stroke="#7a6a38" stroke-width="1.5" opacity="1.00"/>
<line x1="36.8" y1="327.9" x2="32.0" y2="328.1" stroke="#2448a8" stroke-width="1.5" opacity="1.00"/>
<line x1="37.2" y1="336.7" x2="32.4" y2="337.0" stroke="#7a6a38" stroke-width="1.5" opacity="1.00"/>
<line x1="37.8" y1="345.6" x2="33.0" y2="345.9" stroke="#2448a8" stroke-width="1.5" opacity="1.00"/>
<line x1="38.5" y1="354.6" x2="33.8" y2="355.0" stroke="#7a6a38" stroke-width="1.5" opacity="1.00"/>
<line x1="39.5" y1="363.7" x2="34.7" y2="364.2" stroke="#2448a8" stroke-width="1.5" opacity="1.00"/>
<line x1="40.6" y1="372.9" x2="35.9" y2="373.5" stroke="#7a6a38" stroke-width="1.5" opacity="1.00"/>
<line x1="42.0" y1="382.2" x2="37.2" y2="382.9" stroke="#2448a8" stroke-width="1.5" opacity="1.00"/>
<line x1="43.5" y1="391.6" x2="38.8" y2="392.5" stroke="#7a6a38" stroke-width="1.5" opacity="1.00"/>
<line x1="45.2" y1="401.2" x2="40.5" y2="402.1" stroke="#2448a8" stroke-width="1.5" opacity="0.99"/>
<line x1="47.2" y1="410.9" x2="42.5" y2="411.9" stroke="#7a6a38" stroke-width="1.5" opacity="0.94"/>
<line x1="49.4" y1="420.6" x2="44.8" y2="421.7" stroke="#2448a8" stroke-width="1.5" opacity="0.88"/>
<line x1="51.9" y1="430.5" x2="47.2" y2="431.7" stroke="#7a6a38" stroke-width="1.5" opacity="0.83"/>
<line x1="54.6" y1="440.5" x2="50.0" y2="441.9" stroke="#2448a8" stroke-width="1.5" opacity="0.77"/>
<line x1="57.6" y1="450.7" x2="53.0" y2="452.1" stroke="#7a6a38" stroke-width="1.5" opacity="0.71"/>
<line x1="60.8" y1="460.9" x2="56.3" y2="462.4" stroke="#2448a8" stroke-width="1.5" opacity="0.66"/>
<line x1="64.4" y1="471.3" x2="59.9" y2="472.9" stroke="#7a6a38" stroke-width="1.5" opacity="0.60"/>
<line x1="68.3" y1="481.8" x2="63.8" y2="483.5" stroke="#2448a8" stroke-width="1.5" opacity="0.54"/>
<line x1="72.5" y1="492.5" x2="68.0" y2="494.3" stroke="#7a6a38" stroke-width="1.5" opacity="0.48"/>
<line x1="77.0" y1="503.2" x2="72.6" y2="505.1" stroke="#2448a8" stroke-width="1.5" opacity="0.42"/>
<line x1="81.9" y1="514.1" x2="77.6" y2="516.1" stroke="#7a6a38" stroke-width="1.5" opacity="0.36"/>
<line x1="87.3" y1="525.1" x2="83.0" y2="527.3" stroke="#2448a8" stroke-width="1.5" opacity="0.30"/>
<line x1="93.0" y1="536.3" x2="88.8" y2="538.5" stroke="#7a6a38" stroke-width="1.5" opacity="0.25"/>
<path d="M40.3,452 A501.5,501.5 0 0 0 52.2,487" fill="none" stroke="#d8b428" stroke-width="1.8"/>
<path d="M956.5,80 A508,508 0 0 1 951.3,548" fill="none" stroke="url(#arcfade1)" stroke-width="1.3"/>
<path d="M949.7,81 A501.5,501.5 0 0 1 945.5,545" fill="none" stroke="url(#arcfade2)" stroke-width="0.9"/>
<line x1="956.5" y1="80" x2="975.5" y2="80" stroke="#2650c8" stroke-width="1.3"/>
<path d="M975.7,123 A508,508 0 0 1 983.1,143" fill="none" stroke="#dce8ff" stroke-width="1.7"/>
<line x1="935.1" y1="89.7" x2="939.4" y2="87.5" stroke="#7a6a38" stroke-width="1.5" opacity="1.00"/>
<line x1="940.6" y1="100.9" x2="945.0" y2="98.8" stroke="#2448a8" stroke-width="1.5" opacity="1.00"/>
<line x1="945.7" y1="111.9" x2="950.1" y2="110.0" stroke="#7a6a38" stroke-width="1.5" opacity="1.00"/>
<line x1="950.4" y1="122.9" x2="954.9" y2="121.0" stroke="#2448a8" stroke-width="1.5" opacity="1.00"/>
<line x1="954.8" y1="133.6" x2="959.2" y2="131.9" stroke="#7a6a38" stroke-width="1.5" opacity="1.00"/>
<line x1="958.8" y1="144.3" x2="963.3" y2="142.7" stroke="#2448a8" stroke-width="1.5" opacity="1.00"/>
<line x1="962.4" y1="154.8" x2="967.0" y2="153.3" stroke="#7a6a38" stroke-width="1.5" opacity="1.00"/>
<line x1="965.8" y1="165.2" x2="970.4" y2="163.8" stroke="#2448a8" stroke-width="1.5" opacity="1.00"/>
<line x1="968.9" y1="175.5" x2="973.5" y2="174.2" stroke="#7a6a38" stroke-width="1.5" opacity="1.00"/>
<line x1="971.6" y1="185.7" x2="976.3" y2="184.5" stroke="#2448a8" stroke-width="1.5" opacity="1.00"/>
<line x1="974.2" y1="195.7" x2="978.8" y2="194.6" stroke="#7a6a38" stroke-width="1.5" opacity="1.00"/>
<line x1="976.4" y1="205.6" x2="981.1" y2="204.6" stroke="#2448a8" stroke-width="1.5" opacity="1.00"/>
<line x1="978.5" y1="215.4" x2="983.2" y2="214.5" stroke="#7a6a38" stroke-width="1.5" opacity="1.00"/>
<line x1="980.3" y1="225.1" x2="985.0" y2="224.3" stroke="#2448a8" stroke-width="1.5" opacity="1.00"/>
<line x1="981.9" y1="234.7" x2="986.6" y2="234.0" stroke="#7a6a38" stroke-width="1.5" opacity="1.00"/>
<line x1="983.2" y1="244.1" x2="988.0" y2="243.5" stroke="#2448a8" stroke-width="1.5" opacity="1.00"/>
<line x1="984.4" y1="253.5" x2="989.2" y2="252.9" stroke="#7a6a38" stroke-width="1.5" opacity="1.00"/>
<line x1="985.4" y1="262.7" x2="990.2" y2="262.2" stroke="#2448a8" stroke-width="1.5" opacity="1.00"/>
<line x1="986.2" y1="271.8" x2="991.0" y2="271.4" stroke="#7a6a38" stroke-width="1.5" opacity="1.00"/>
<line x1="986.8" y1="280.8" x2="991.6" y2="280.5" stroke="#2448a8" stroke-width="1.5" opacity="1.00"/>
<line x1="987.2" y1="289.7" x2="992.0" y2="289.5" stroke="#7a6a38" stroke-width="1.5" opacity="1.00"/>
<line x1="987.5" y1="298.5" x2="992.3" y2="298.4" stroke="#2448a8" stroke-width="1.5" opacity="1.00"/>
<line x1="987.6" y1="307.2" x2="992.4" y2="307.2" stroke="#7a6a38" stroke-width="1.5" opacity="1.00"/>
<line x1="987.6" y1="315.8" x2="992.4" y2="315.8" stroke="#2448a8" stroke-width="1.5" opacity="1.00"/>
<line x1="987.4" y1="324.4" x2="992.2" y2="324.6" stroke="#7a6a38" stroke-width="1.5" opacity="1.00"/>
<line x1="987.0" y1="333.1" x2="991.8" y2="333.4" stroke="#2448a8" stroke-width="1.5" opacity="1.00"/>
<line x1="986.5" y1="342.0" x2="991.3" y2="342.3" stroke="#7a6a38" stroke-width="1.5" opacity="1.00"/>
<line x1="985.8" y1="350.9" x2="990.6" y2="351.4" stroke="#2448a8" stroke-width="1.5" opacity="1.00"/>
<line x1="984.9" y1="360.0" x2="989.7" y2="360.5" stroke="#7a6a38" stroke-width="1.5" opacity="1.00"/>
<line x1="983.8" y1="369.2" x2="988.6" y2="369.8" stroke="#2448a8" stroke-width="1.5" opacity="1.00"/>
<line x1="982.6" y1="378.5" x2="987.3" y2="379.1" stroke="#7a6a38" stroke-width="1.5" opacity="1.00"/>
<line x1="981.1" y1="387.8" x2="985.9" y2="388.6" stroke="#2448a8" stroke-width="1.5" opacity="1.00"/>
<line x1="979.5" y1="397.3" x2="984.2" y2="398.2" stroke="#7a6a38" stroke-width="1.5" opacity="1.00"/>
<line x1="977.6" y1="407.0" x2="982.3" y2="407.9" stroke="#2448a8" stroke-width="1.5" opacity="0.96"/>
<line x1="975.5" y1="416.7" x2="980.2" y2="417.8" stroke="#7a6a38" stroke-width="1.5" opacity="0.90"/>
<line x1="973.1" y1="426.5" x2="977.8" y2="427.7" stroke="#2448a8" stroke-width="1.5" opacity="0.85"/>
<line x1="970.5" y1="436.5" x2="975.2" y2="437.8" stroke="#7a6a38" stroke-width="1.5" opacity="0.79"/>
<line x1="967.7" y1="446.6" x2="972.3" y2="448.0" stroke="#2448a8" stroke-width="1.5" opacity="0.74"/>
<line x1="964.5" y1="456.8" x2="969.1" y2="458.3" stroke="#7a6a38" stroke-width="1.5" opacity="0.68"/>
<line x1="961.1" y1="467.1" x2="965.6" y2="468.7" stroke="#2448a8" stroke-width="1.5" opacity="0.62"/>
<line x1="957.3" y1="477.6" x2="961.8" y2="479.3" stroke="#7a6a38" stroke-width="1.5" opacity="0.56"/>
<line x1="953.3" y1="488.2" x2="957.7" y2="490.0" stroke="#2448a8" stroke-width="1.5" opacity="0.51"/>
<line x1="948.8" y1="498.9" x2="953.3" y2="500.8" stroke="#7a6a38" stroke-width="1.5" opacity="0.45"/>
<line x1="944.1" y1="509.7" x2="948.4" y2="511.7" stroke="#2448a8" stroke-width="1.5" opacity="0.38"/>
<line x1="938.9" y1="520.7" x2="943.2" y2="522.8" stroke="#7a6a38" stroke-width="1.5" opacity="0.32"/>
<line x1="933.4" y1="531.8" x2="937.6" y2="534.0" stroke="#2448a8" stroke-width="1.5" opacity="0.26"/>
<line x1="927.3" y1="543.0" x2="931.6" y2="545.3" stroke="#7a6a38" stroke-width="1.5" opacity="0.25"/>
<path d="M979.3,466 A501.5,501.5 0 0 1 966.3,501" fill="none" stroke="#d8b428" stroke-width="1.8"/>
<ellipse cx="503" cy="320" rx="228" ry="60" fill="url(#ringglow)" mask="url(#backmask)"/>
<g mask="url(#backmask)">
<path d="M374.2,303.0 A128.8,28.5 0 0 1 631.8,303.0" fill="none" stroke="#3aa4ff" stroke-width="2.6" opacity="0.65" stroke-dasharray="88,8,84,14,69,8,56,7,63,24" stroke-dashoffset="186"/>
<path d="M367.5,304.4 A135.5,30.4 0 0 1 638.5,304.4" fill="none" stroke="#3aa4ff" stroke-width="2.2" opacity="0.68" stroke-dasharray="69,7,21,16,25,8,39,5,57,14,87,15,71,15" stroke-dashoffset="204"/>
<path d="M361.9,305.9 A141.1,32.2 0 0 1 644.1,305.9" fill="none" stroke="#3aa4ff" stroke-width="1.8" opacity="0.73" stroke-dasharray="100,22,77,11,38,10,26,21,52,23,51,25" stroke-dashoffset="272"/>
<path d="M357.6,307.3 A145.4,34.1 0 0 1 648.4,307.3" fill="none" stroke="#1a80ff" stroke-width="1.4" opacity="0.62" stroke-dasharray="98,13,26,18,82,10,27,11,97,21" stroke-dashoffset="39"/>
<path d="M350.4,308.7 A152.6,35.9 0 0 1 655.6,308.7" fill="none" stroke="#1a80ff" stroke-width="1.0" opacity="0.54" stroke-dasharray="84,8,65,14,35,20,30,18,29,13,37,10,98,22" stroke-dashoffset="106"/>
<path d="M341.7,310.1 A161.3,37.8 0 0 1 664.3,310.1" fill="none" stroke="#2a94ff" stroke-width="1.4" opacity="0.59" stroke-dasharray="88,18,28,26,37,10,82,11,44,6,27,17,39,17" stroke-dashoffset="137"/>
<path d="M337.3,311.6 A165.7,39.6 0 0 1 668.7,311.6" fill="none" stroke="#3aa4ff" stroke-width="2.6" opacity="0.66" stroke-dasharray="31,12,70,11,38,17,78,7,70,16,75,13,59,6" stroke-dashoffset="18"/>
<path d="M332.6,313.0 A170.4,41.5 0 0 1 673.4,313.0" fill="none" stroke="#1a70ea" stroke-width="2.6" opacity="0.55" stroke-dasharray="76,10,86,17,43,8,78,6,38,16,88,18" stroke-dashoffset="109"/>
<path d="M323.2,314.4 A179.8,43.4 0 0 1 682.8,314.4" fill="none" stroke="#1a80ff" stroke-width="1.4" opacity="0.51" stroke-dasharray="53,9,24,10,62,25,27,7,56,11,79,15,96,17,94,14" stroke-dashoffset="147"/>
<path d="M319.5,315.9 A183.5,45.2 0 0 1 686.5,315.9" fill="none" stroke="#1a80ff" stroke-width="1.0" opacity="0.59" stroke-dasharray="26,5,45,7,26,14,49,5,95,20,30,25,47,6,58,6,89,25" stroke-dashoffset="13"/>
<path d="M312.6,317.3 A190.4,47.1 0 0 1 693.4,317.3" fill="none" stroke="#2088ff" stroke-width="1.0" opacity="0.59" stroke-dasharray="50,4,26,6,29,10,53,11,95,19,57,14,63,15,61,11" stroke-dashoffset="38"/>
<path d="M308.3,318.7 A194.7,48.9 0 0 1 697.7,318.7" fill="none" stroke="#3aa4ff" stroke-width="1.0" opacity="0.60" stroke-dasharray="73,15,92,12,31,17,61,21,47,24,60,9,52,10,71,22" stroke-dashoffset="336"/>
<path d="M301.5,320.1 A201.5,50.8 0 0 1 704.5,320.1" fill="none" stroke="#3aa4ff" stroke-width="1.4" opacity="0.50" stroke-dasharray="94,9,31,12,92,5,25,26,86,6,58,24,86,12" stroke-dashoffset="240"/>
<path d="M293.5,321.6 A209.5,52.6 0 0 1 712.5,321.6" fill="none" stroke="#3aa4ff" stroke-width="2.6" opacity="0.51" stroke-dasharray="86,10,69,19,42,12,72,16,71,13,35,21,41,21,84,26" stroke-dashoffset="55"/>
<path d="M289.6,323.0 A213.4,54.5 0 0 1 716.4,323.0" fill="none" stroke="#1a70ea" stroke-width="2.6" opacity="0.59" stroke-dasharray="75,8,58,8,21,14,77,8,42,12,76,15,69,21,51,21,92,6" stroke-dashoffset="456"/>
</g>
<circle cx="507" cy="232" r="75" fill="url(#globefill)"/>
<circle cx="507" cy="232" r="72" fill="none" stroke="#6ab8ff" stroke-width="6" opacity="0.25" filter="url(#blur2)"/>
<circle cx="507" cy="232" r="72" fill="none" stroke="#d8ecff" stroke-width="3" opacity="0.22"/>
<rect x="455.1" y="179.7" width="1.2" height="1.2" fill="#a8dcff" opacity="0.56"/>
<rect x="438.5" y="209.4" width="1" height="1" fill="#a8dcff" opacity="0.80"/>
<rect x="514.7" y="299.1" width="1" height="1" fill="#a8dcff" opacity="0.97"/>
<rect x="475.1" y="172.8" width="1.2" height="1.2" fill="#ffffff" opacity="0.69"/>
<rect x="436.3" y="244.2" width="1.4" height="1.4" fill="#a8dcff" opacity="0.95"/>
<rect x="498.3" y="169.0" width="1" height="1" fill="#ffffff" opacity="0.71"/>
<rect x="438.0" y="234.2" width="1.4" height="1.4" fill="#cfeaff" opacity="0.85"/>
<rect x="435.6" y="228.7" width="1" height="1" fill="#cfeaff" opacity="0.81"/>
<rect x="473.8" y="170.5" width="1" height="1" fill="#ffffff" opacity="0.96"/>
<rect x="462.4" y="182.7" width="1" height="1" fill="#ffffff" opacity="0.67"/>
<rect x="436.2" y="240.0" width="1" height="1" fill="#e8f4ff" opacity="0.58"/>
<rect x="554.7" y="183.0" width="1.2" height="1.2" fill="#cfeaff" opacity="0.87"/>
<rect x="481.7" y="296.2" width="1.2" height="1.2" fill="#a8dcff" opacity="0.64"/>
<rect x="451.8" y="186.0" width="1.2" height="1.2" fill="#cfeaff" opacity="0.57"/>
<rect x="463.2" y="284.8" width="1" height="1" fill="#a8dcff" opacity="0.94"/>
<rect x="457.9" y="185.8" width="1" height="1" fill="#a8dcff" opacity="0.78"/>
<rect x="572.8" y="204.2" width="1.2" height="1.2" fill="#a8dcff" opacity="0.70"/>
<rect x="460.8" y="181.5" width="1.2" height="1.2" fill="#cfeaff" opacity="0.86"/>
<rect x="501.6" y="159.8" width="1.2" height="1.2" fill="#ffffff" opacity="0.58"/>
<rect x="506.5" y="300.5" width="1.2" height="1.2" fill="#cfeaff" opacity="0.71"/>
<rect x="547.7" y="171.2" width="1" height="1" fill="#ffffff" opacity="0.90"/>
<rect x="579.7" y="218.8" width="1" height="1" fill="#cfeaff" opacity="0.84"/>
<rect x="466.0" y="175.9" width="1.4" height="1.4" fill="#e8f4ff" opacity="0.85"/>
<rect x="441.2" y="198.5" width="1.2" height="1.2" fill="#ffffff" opacity="0.70"/>
<rect x="448.0" y="194.9" width="1.2" height="1.2" fill="#a8dcff" opacity="0.76"/>
<rect x="443.8" y="266.8" width="1" height="1" fill="#e8f4ff" opacity="0.96"/>
<rect x="472.2" y="174.9" width="1" height="1" fill="#cfeaff" opacity="0.68"/>
<rect x="550.0" y="181.1" width="1" height="1" fill="#ffffff" opacity="0.66"/>
<rect x="447.9" y="201.0" width="1.4" height="1.4" fill="#ffffff" opacity="0.68"/>
<rect x="531.7" y="171.3" width="1" height="1" fill="#ffffff" opacity="0.65"/>
<rect x="535.6" y="174.6" width="1" height="1" fill="#a8dcff" opacity="0.83"/>
<rect x="510.1" y="157.1" width="1" height="1" fill="#cfeaff" opacity="0.57"/>
<rect x="573.6" y="251.9" width="1.2" height="1.2" fill="#a8dcff" opacity="0.87"/>
<rect x="547.4" y="293.1" width="1.2" height="1.2" fill="#a8dcff" opacity="0.72"/>
<rect x="459.9" y="288.3" width="1" height="1" fill="#a8dcff" opacity="0.80"/>
<rect x="442.3" y="203.2" width="1" height="1" fill="#a8dcff" opacity="0.76"/>
<rect x="456.4" y="182.7" width="1.4" height="1.4" fill="#a8dcff" opacity="0.87"/>
<rect x="436.2" y="249.8" width="1.4" height="1.4" fill="#ffffff" opacity="0.79"/>
<rect x="518.9" y="305.2" width="1" height="1" fill="#cfeaff" opacity="0.99"/>
<rect x="434.7" y="248.6" width="1" height="1" fill="#a8dcff" opacity="0.92"/>
<rect x="499.6" y="159.5" width="1" height="1" fill="#e8f4ff" opacity="0.55"/>
<rect x="518.3" y="158.8" width="1.4" height="1.4" fill="#ffffff" opacity="0.59"/>
<rect x="535.2" y="291.1" width="1.2" height="1.2" fill="#a8dcff" opacity="0.93"/>
<rect x="442.3" y="196.9" width="1" height="1" fill="#e8f4ff" opacity="0.57"/>
<rect x="441.2" y="208.6" width="1" height="1" fill="#e8f4ff" opacity="0.94"/>
<rect x="510.5" y="303.2" width="1.2" height="1.2" fill="#a8dcff" opacity="0.66"/>
<rect x="459.0" y="284.7" width="1.4" height="1.4" fill="#e8f4ff" opacity="0.59"/>
<rect x="478.5" y="165.6" width="1" height="1" fill="#e8f4ff" opacity="0.73"/>
<rect x="447.2" y="254.4" width="1" height="1" fill="#cfeaff" opacity="0.63"/>
<rect x="435.2" y="214.5" width="1.2" height="1.2" fill="#a8dcff" opacity="0.85"/>
<rect x="511.6" y="296.9" width="1.4" height="1.4" fill="#e8f4ff" opacity="0.86"/>
<rect x="442.3" y="196.2" width="1.4" height="1.4" fill="#ffffff" opacity="0.84"/>
<rect x="558.3" y="184.9" width="1" height="1" fill="#e8f4ff" opacity="0.96"/>
<rect x="577.3" y="213.3" width="1" height="1" fill="#e8f4ff" opacity="0.67"/>
<rect x="565.2" y="189.6" width="1" height="1" fill="#cfeaff" opacity="0.94"/>
<rect x="440.8" y="266.6" width="1" height="1" fill="#cfeaff" opacity="0.93"/>
<rect x="461.7" y="289.1" width="1" height="1" fill="#ffffff" opacity="0.85"/>
<rect x="471.6" y="292.0" width="1.4" height="1.4" fill="#a8dcff" opacity="0.81"/>
<rect x="558.3" y="283.6" width="1.4" height="1.4" fill="#ffffff" opacity="0.95"/>
<rect x="557.7" y="275.3" width="1.2" height="1.2" fill="#cfeaff" opacity="0.97"/>
<rect x="510.1" y="164.2" width="1" height="1" fill="#cfeaff" opacity="0.85"/>
<rect x="508.8" y="164.3" width="1.2" height="1.2" fill="#a8dcff" opacity="0.60"/>
<rect x="575.1" y="258.7" width="1" height="1" fill="#e8f4ff" opacity="0.88"/>
<rect x="536.9" y="294.6" width="1.2" height="1.2" fill="#e8f4ff" opacity="0.97"/>
<rect x="463.9" y="176.4" width="1" height="1" fill="#cfeaff" opacity="0.74"/>
<rect x="435.8" y="251.4" width="1.2" height="1.2" fill="#a8dcff" opacity="0.87"/>
<rect x="565.4" y="274.3" width="1" height="1" fill="#e8f4ff" opacity="0.57"/>
<rect x="433.7" y="241.9" width="1.4" height="1.4" fill="#a8dcff" opacity="0.94"/>
<rect x="441.9" y="214.6" width="1" height="1" fill="#ffffff" opacity="0.71"/>
<rect x="496.5" y="159.2" width="1.4" height="1.4" fill="#a8dcff" opacity="0.64"/>
<rect x="537.1" y="163.4" width="1" height="1" fill="#e8f4ff" opacity="0.73"/>
<rect x="444.9" y="203.6" width="1" height="1" fill="#cfeaff" opacity="0.66"/>
<rect x="566.4" y="186.3" width="1" height="1" fill="#e8f4ff" opacity="0.56"/>
<rect x="565.4" y="278.8" width="1" height="1" fill="#e8f4ff" opacity="0.83"/>
<rect x="521.3" y="162.1" width="1" height="1" fill="#a8dcff" opacity="0.92"/>
<rect x="447.7" y="205.9" width="1" height="1" fill="#ffffff" opacity="0.91"/>
<rect x="460.9" y="287.7" width="1.2" height="1.2" fill="#ffffff" opacity="0.59"/>
<rect x="476.1" y="294.5" width="1" height="1" fill="#ffffff" opacity="0.94"/>
<rect x="502.5" y="162.7" width="1" height="1" fill="#ffffff" opacity="0.91"/>
<rect x="438.0" y="260.8" width="1" height="1" fill="#ffffff" opacity="0.57"/>
<rect x="488.0" y="165.4" width="1.4" height="1.4" fill="#ffffff" opacity="0.76"/>
<rect x="480.0" y="162.1" width="1.2" height="1.2" fill="#ffffff" opacity="0.75"/>
<rect x="459.6" y="284.5" width="1" height="1" fill="#ffffff" opacity="0.65"/>
<rect x="503.2" y="302.4" width="1" height="1" fill="#e8f4ff" opacity="0.93"/>
<rect x="525.4" y="302.2" width="1" height="1" fill="#ffffff" opacity="0.56"/>
<rect x="441.0" y="256.8" width="1.4" height="1.4" fill="#a8dcff" opacity="0.93"/>
<rect x="479.2" y="293.2" width="1" height="1" fill="#a8dcff" opacity="0.57"/>
<rect x="510.8" y="304.4" width="1" height="1" fill="#ffffff" opacity="0.60"/>
<rect x="532.8" y="163.8" width="1.2" height="1.2" fill="#a8dcff" opacity="0.99"/>
<rect x="433.3" y="237.3" width="1" height="1" fill="#cfeaff" opacity="1.00"/>
<rect x="576.9" y="258.0" width="1" height="1" fill="#ffffff" opacity="0.59"/>
<rect x="578.1" y="245.7" width="1" height="1" fill="#cfeaff" opacity="0.57"/>
<rect x="462.7" y="183.9" width="1.2" height="1.2" fill="#a8dcff" opacity="0.74"/>
<rect x="441.2" y="216.6" width="1.2" height="1.2" fill="#a8dcff" opacity="0.73"/>
<rect x="570.5" y="198.9" width="1.2" height="1.2" fill="#a8dcff" opacity="0.90"/>
<rect x="498.3" y="302.5" width="1.4" height="1.4" fill="#a8dcff" opacity="0.87"/>
<rect x="468.6" y="171.0" width="1.4" height="1.4" fill="#ffffff" opacity="0.58"/>
<rect x="461.8" y="172.5" width="1.2" height="1.2" fill="#ffffff" opacity="0.90"/>
<rect x="438.9" y="200.5" width="1" height="1" fill="#e8f4ff" opacity="0.59"/>
<rect x="483.0" y="173.3" width="1" height="1" fill="#ffffff" opacity="0.99"/>
<rect x="489.9" y="303.3" width="1.2" height="1.2" fill="#a8dcff" opacity="0.93"/>
<rect x="524.3" y="162.3" width="1" height="1" fill="#ffffff" opacity="0.59"/>
<rect x="554.0" y="174.4" width="1" height="1" fill="#cfeaff" opacity="0.97"/>
<rect x="471.0" y="168.0" width="1.4" height="1.4" fill="#cfeaff" opacity="0.90"/>
<rect x="534.8" y="167.6" width="1.2" height="1.2" fill="#a8dcff" opacity="0.79"/>
<rect x="497.2" y="161.8" width="1.4" height="1.4" fill="#cfeaff" opacity="0.58"/>
<rect x="522.5" y="160.8" width="1.2" height="1.2" fill="#e8f4ff" opacity="0.78"/>
<rect x="544.6" y="171.1" width="1" height="1" fill="#cfeaff" opacity="0.66"/>
<rect x="506.8" y="158.4" width="1.4" height="1.4" fill="#a8dcff" opacity="0.65"/>
<rect x="458.1" y="285.5" width="1.4" height="1.4" fill="#a8dcff" opacity="0.95"/>
<rect x="488.2" y="301.6" width="1" height="1" fill="#cfeaff" opacity="0.88"/>
<rect x="459.7" y="175.4" width="1.4" height="1.4" fill="#cfeaff" opacity="0.89"/>
<rect x="442.9" y="261.0" width="1.4" height="1.4" fill="#ffffff" opacity="0.68"/>
<rect x="486.2" y="296.9" width="1.4" height="1.4" fill="#e8f4ff" opacity="0.58"/>
<rect x="551.1" y="188.5" width="1.4" height="1.4" fill="#cfeaff" opacity="0.62"/>
<rect x="489.1" y="304.8" width="1.2" height="1.2" fill="#cfeaff" opacity="0.72"/>
<rect x="505.9" y="162.5" width="1" height="1" fill="#e8f4ff" opacity="0.83"/>
<rect x="543.6" y="294.5" width="1.2" height="1.2" fill="#a8dcff" opacity="0.64"/>
<rect x="578.3" y="222.7" width="1.2" height="1.2" fill="#ffffff" opacity="0.63"/>
<rect x="451.0" y="257.3" width="1.4" height="1.4" fill="#ffffff" opacity="0.57"/>
<rect x="478.7" y="301.3" width="1" height="1" fill="#ffffff" opacity="0.67"/>
<rect x="447.4" y="260.3" width="1" height="1" fill="#e8f4ff" opacity="0.85"/>
<rect x="504.1" y="159.9" width="1.2" height="1.2" fill="#e8f4ff" opacity="0.70"/>
<rect x="577.3" y="239.4" width="1.4" height="1.4" fill="#ffffff" opacity="0.77"/>
<rect x="439.3" y="246.0" width="1.2" height="1.2" fill="#a8dcff" opacity="0.82"/>
<rect x="442.3" y="224.5" width="1" height="1" fill="#e8f4ff" opacity="0.63"/>
<rect x="547.7" y="292.1" width="1.2" height="1.2" fill="#a8dcff" opacity="0.93"/>
<rect x="439.5" y="210.2" width="1.4" height="1.4" fill="#ffffff" opacity="0.96"/>
<rect x="470.5" y="166.9" width="1" height="1" fill="#a8dcff" opacity="0.78"/>
<rect x="452.1" y="273.7" width="1.2" height="1.2" fill="#ffffff" opacity="0.65"/>
<rect x="477.5" y="297.5" width="1.4" height="1.4" fill="#ffffff" opacity="0.66"/>
<rect x="516.2" y="303.9" width="1" height="1" fill="#ffffff" opacity="0.59"/>
<rect x="456.2" y="177.1" width="1.4" height="1.4" fill="#ffffff" opacity="0.98"/>
<rect x="498.8" y="306.1" width="1" height="1" fill="#ffffff" opacity="0.67"/>
<rect x="473.5" y="166.7" width="1.2" height="1.2" fill="#e8f4ff" opacity="0.89"/>
<rect x="551.4" y="187.5" width="1.4" height="1.4" fill="#ffffff" opacity="0.72"/>
<rect x="493.0" y="303.7" width="1" height="1" fill="#ffffff" opacity="0.71"/>
<rect x="579.9" y="235.4" width="1" height="1" fill="#a8dcff" opacity="0.61"/>
<rect x="566.6" y="257.5" width="1" height="1" fill="#a8dcff" opacity="0.93"/>
<rect x="502.2" y="160.2" width="1.4" height="1.4" fill="#a8dcff" opacity="0.93"/>
<rect x="439.0" y="247.6" width="1.2" height="1.2" fill="#e8f4ff" opacity="0.92"/>
<rect x="535.2" y="291.3" width="1" height="1" fill="#e8f4ff" opacity="0.67"/>
<rect x="445.3" y="271.5" width="1.2" height="1.2" fill="#a8dcff" opacity="0.94"/>
<rect x="434.7" y="220.4" width="1.2" height="1.2" fill="#a8dcff" opacity="0.59"/>
<rect x="456.3" y="283.7" width="1.2" height="1.2" fill="#cfeaff" opacity="0.71"/>
<rect x="490.7" y="301.2" width="1" height="1" fill="#cfeaff" opacity="0.78"/>
<rect x="580.9" y="225.7" width="1" height="1" fill="#ffffff" opacity="0.75"/>
<rect x="447.5" y="265.9" width="1.4" height="1.4" fill="#a8dcff" opacity="0.66"/>
<rect x="524.6" y="302.7" width="1.4" height="1.4" fill="#ffffff" opacity="0.78"/>
<rect x="461.4" y="286.1" width="1.4" height="1.4" fill="#a8dcff" opacity="0.78"/>
<rect x="458.9" y="281.6" width="1" height="1" fill="#e8f4ff" opacity="0.62"/>
<rect x="461.1" y="280.3" width="1" height="1" fill="#ffffff" opacity="0.61"/>
<rect x="474.9" y="299.5" width="1.2" height="1.2" fill="#a8dcff" opacity="0.96"/>
<rect x="565.0" y="196.7" width="1" height="1" fill="#a8dcff" opacity="0.95"/>
<rect x="564.1" y="265.7" width="1.4" height="1.4" fill="#ffffff" opacity="0.71"/>
<rect x="543.3" y="168.2" width="1.2" height="1.2" fill="#a8dcff" opacity="0.78"/>
<rect x="441.3" y="259.8" width="1" height="1" fill="#ffffff" opacity="0.99"/>
<rect x="437.3" y="258.7" width="1.4" height="1.4" fill="#a8dcff" opacity="0.55"/>
<rect x="466.6" y="188.3" width="1" height="1" fill="#a8dcff" opacity="0.85"/>
<rect x="561.9" y="183.1" width="1" height="1" fill="#ffffff" opacity="0.84"/>
<rect x="444.2" y="200.5" width="1.4" height="1.4" fill="#a8dcff" opacity="0.65"/>
<rect x="492.4" y="298.1" width="1.2" height="1.2" fill="#cfeaff" opacity="0.64"/>
<rect x="567.0" y="188.3" width="1.2" height="1.2" fill="#cfeaff" opacity="0.79"/>
<rect x="514.8" y="165.8" width="1.4" height="1.4" fill="#ffffff" opacity="0.64"/>
<rect x="550.7" y="177.7" width="1" height="1" fill="#e8f4ff" opacity="0.77"/>
<rect x="447.9" y="276.6" width="1.2" height="1.2" fill="#ffffff" opacity="0.63"/>
<rect x="439.3" y="232.5" width="1.2" height="1.2" fill="#a8dcff" opacity="0.58"/>
<rect x="454.4" y="275.9" width="1" height="1" fill="#cfeaff" opacity="0.66"/>
<rect x="481.7" y="162.8" width="1" height="1" fill="#e8f4ff" opacity="0.75"/>
<rect x="434.5" y="239.8" width="1" height="1" fill="#cfeaff" opacity="0.91"/>
<rect x="449.8" y="191.7" width="1" height="1" fill="#ffffff" opacity="0.75"/>
<rect x="523.3" y="162.6" width="1.4" height="1.4" fill="#a8dcff" opacity="0.67"/>
<rect x="572.4" y="226.3" width="1.2" height="1.2" fill="#a8dcff" opacity="0.63"/>
<rect x="547.5" y="185.7" width="1" height="1" fill="#cfeaff" opacity="0.69"/>
<rect x="437.0" y="256.4" width="1" height="1" fill="#e8f4ff" opacity="0.81"/>
<rect x="486.7" y="166.7" width="1.2" height="1.2" fill="#cfeaff" opacity="0.86"/>
<rect x="506.1" y="157.2" width="1.4" height="1.4" fill="#cfeaff" opacity="0.88"/>
<rect x="433.4" y="241.9" width="1.4" height="1.4" fill="#e8f4ff" opacity="0.66"/>
<rect x="490.1" y="160.3" width="1.4" height="1.4" fill="#a8dcff" opacity="0.77"/>
<rect x="531.0" y="300.3" width="1" height="1" fill="#ffffff" opacity="0.81"/>
<rect x="448.9" y="186.0" width="1.4" height="1.4" fill="#ffffff" opacity="0.60"/>
<rect x="555.9" y="179.0" width="1.4" height="1.4" fill="#ffffff" opacity="0.73"/>
<rect x="495.4" y="301.4" width="1.2" height="1.2" fill="#a8dcff" opacity="0.98"/>
<rect x="448.4" y="257.8" width="1.2" height="1.2" fill="#e8f4ff" opacity="0.98"/>
<rect x="442.4" y="200.9" width="1.2" height="1.2" fill="#cfeaff" opacity="0.99"/>
<rect x="568.3" y="189.2" width="1" height="1" fill="#ffffff" opacity="0.87"/>
<rect x="552.8" y="288.7" width="1.2" height="1.2" fill="#e8f4ff" opacity="0.77"/>
<rect x="563.7" y="190.8" width="1.2" height="1.2" fill="#a8dcff" opacity="0.81"/>
<rect x="486.5" y="302.1" width="1" height="1" fill="#e8f4ff" opacity="0.96"/>
<rect x="526.2" y="302.1" width="1" height="1" fill="#cfeaff" opacity="0.83"/>
<rect x="557.3" y="278.0" width="1.4" height="1.4" fill="#ffffff" opacity="0.98"/>
<rect x="440.1" y="264.6" width="1.2" height="1.2" fill="#e8f4ff" opacity="0.92"/>
<rect x="562.8" y="182.4" width="1.4" height="1.4" fill="#a8dcff" opacity="0.90"/>
<rect x="436.5" y="207.7" width="1" height="1" fill="#e8f4ff" opacity="0.75"/>
<rect x="572.9" y="263.0" width="1.2" height="1.2" fill="#cfeaff" opacity="0.70"/>
<rect x="451.1" y="279.2" width="1.4" height="1.4" fill="#e8f4ff" opacity="0.70"/>
<rect x="440.2" y="252.6" width="1" height="1" fill="#e8f4ff" opacity="0.71"/>
<rect x="445.3" y="268.0" width="1.2" height="1.2" fill="#e8f4ff" opacity="0.80"/>
<rect x="566.6" y="273.4" width="1" height="1" fill="#e8f4ff" opacity="0.81"/>
<rect x="435.8" y="218.2" width="1.2" height="1.2" fill="#e8f4ff" opacity="0.62"/>
<rect x="570.4" y="231.8" width="1" height="1" fill="#cfeaff" opacity="0.71"/>
<rect x="515.9" y="161.3" width="1" height="1" fill="#ffffff" opacity="0.56"/>
<rect x="489.6" y="166.7" width="1.4" height="1.4" fill="#cfeaff" opacity="0.85"/>
<rect x="440.1" y="235.6" width="1" height="1" fill="#cfeaff" opacity="0.91"/>
<rect x="446.0" y="273.0" width="1.4" height="1.4" fill="#e8f4ff" opacity="0.66"/>
<rect x="435.4" y="217.9" width="1" height="1" fill="#e8f4ff" opacity="0.78"/>
<rect x="576.9" y="214.9" width="1.4" height="1.4" fill="#cfeaff" opacity="0.77"/>
<rect x="565.7" y="202.6" width="1.4" height="1.4" fill="#a8dcff" opacity="0.87"/>
<rect x="434.7" y="248.0" width="1.4" height="1.4" fill="#cfeaff" opacity="0.88"/>
<rect x="506.0" y="157.7" width="1.4" height="1.4" fill="#cfeaff" opacity="0.59"/>
<rect x="576.0" y="212.8" width="1" height="1" fill="#e8f4ff" opacity="0.58"/>
<rect x="449.9" y="184.1" width="1" height="1" fill="#ffffff" opacity="0.63"/>
<rect x="566.9" y="195.9" width="1.4" height="1.4" fill="#a8dcff" opacity="0.81"/>
<rect x="537.9" y="165.4" width="1.2" height="1.2" fill="#a8dcff" opacity="0.92"/>
<rect x="564.9" y="192.2" width="1.4" height="1.4" fill="#ffffff" opacity="0.95"/>
<rect x="497.1" y="161.5" width="1.4" height="1.4" fill="#a8dcff" opacity="0.89"/>
<rect x="456.7" y="280.2" width="1" height="1" fill="#e8f4ff" opacity="0.73"/>
<rect x="529.3" y="163.8" width="1" height="1" fill="#ffffff" opacity="0.90"/>
<rect x="555.7" y="269.4" width="1.4" height="1.4" fill="#e8f4ff" opacity="0.96"/>
<rect x="443.2" y="265.9" width="1.2" height="1.2" fill="#ffffff" opacity="0.75"/>
<rect x="439.3" y="210.1" width="1.2" height="1.2" fill="#ffffff" opacity="0.65"/>
<rect x="529.9" y="300.8" width="1.2" height="1.2" fill="#e8f4ff" opacity="0.73"/>
<rect x="516.2" y="302.7" width="1.4" height="1.4" fill="#e8f4ff" opacity="0.65"/>
<rect x="537.2" y="163.5" width="1.2" height="1.2" fill="#cfeaff" opacity="0.81"/>
<rect x="527.7" y="301.2" width="1" height="1" fill="#e8f4ff" opacity="0.99"/>
<rect x="435.1" y="253.2" width="1.4" height="1.4" fill="#e8f4ff" opacity="0.81"/>
<rect x="567.8" y="199.8" width="1.4" height="1.4" fill="#ffffff" opacity="0.85"/>
<rect x="564.3" y="189.5" width="1" height="1" fill="#cfeaff" opacity="0.82"/>
<rect x="450.7" y="186.7" width="1.2" height="1.2" fill="#cfeaff" opacity="0.63"/>
<rect x="446.7" y="187.8" width="1.4" height="1.4" fill="#ffffff" opacity="0.82"/>
<rect x="564.1" y="185.8" width="1.4" height="1.4" fill="#a8dcff" opacity="0.56"/>
<rect x="494.2" y="304.0" width="1" height="1" fill="#cfeaff" opacity="0.76"/>
<rect x="573.1" y="202.9" width="1" height="1" fill="#a8dcff" opacity="0.80"/>
<rect x="540.5" y="297.9" width="1.2" height="1.2" fill="#e8f4ff" opacity="0.79"/>
<rect x="437.0" y="254.0" width="1.4" height="1.4" fill="#a8dcff" opacity="0.91"/>
<rect x="569.5" y="272.3" width="1" height="1" fill="#cfeaff" opacity="0.92"/>
<rect x="469.5" y="171.0" width="1.2" height="1.2" fill="#e8f4ff" opacity="0.57"/>
<rect x="486.1" y="160.6" width="1" height="1" fill="#cfeaff" opacity="0.83"/>
<rect x="553.4" y="175.8" width="1" height="1" fill="#a8dcff" opacity="0.89"/>
<rect x="486.5" y="167.0" width="1.4" height="1.4" fill="#a8dcff" opacity="0.78"/>
<rect x="494.0" y="296.8" width="1.4" height="1.4" fill="#cfeaff" opacity="0.62"/>
<rect x="532.9" y="162.2" width="1" height="1" fill="#cfeaff" opacity="0.68"/>
<rect x="488.7" y="293.5" width="1.4" height="1.4" fill="#cfeaff" opacity="0.97"/>
<rect x="449.3" y="271.4" width="1" height="1" fill="#cfeaff" opacity="0.60"/>
<rect x="447.6" y="188.4" width="1.2" height="1.2" fill="#a8dcff" opacity="0.98"/>
<rect x="456.1" y="185.6" width="1.2" height="1.2" fill="#e8f4ff" opacity="0.92"/>
<rect x="535.5" y="163.8" width="1.2" height="1.2" fill="#e8f4ff" opacity="0.93"/>
<rect x="577.1" y="232.2" width="1.4" height="1.4" fill="#e8f4ff" opacity="0.64"/>
<rect x="474.6" y="168.3" width="1" height="1" fill="#ffffff" opacity="0.78"/>
<rect x="474.4" y="295.9" width="1.2" height="1.2" fill="#cfeaff" opacity="0.82"/>
<rect x="536.8" y="293.9" width="1.2" height="1.2" fill="#a8dcff" opacity="0.99"/>
<rect x="511.3" y="305.3" width="1.2" height="1.2" fill="#ffffff" opacity="0.57"/>
<rect x="538.7" y="166.7" width="1" height="1" fill="#cfeaff" opacity="0.63"/>
<rect x="437.9" y="242.3" width="1" height="1" fill="#ffffff" opacity="0.79"/>
<rect x="475.8" y="166.8" width="1.4" height="1.4" fill="#cfeaff" opacity="0.71"/>
<rect x="487.8" y="170.4" width="1.2" height="1.2" fill="#ffffff" opacity="0.97"/>
<rect x="445.0" y="266.6" width="1.4" height="1.4" fill="#ffffff" opacity="0.55"/>
<rect x="504.5" y="165.2" width="1" height="1" fill="#a8dcff" opacity="0.86"/>
<rect x="535.8" y="297.0" width="1.2" height="1.2" fill="#e8f4ff" opacity="0.56"/>
<rect x="578.1" y="217.8" width="1.2" height="1.2" fill="#a8dcff" opacity="0.98"/>
<rect x="481.4" y="162.2" width="1" height="1" fill="#e8f4ff" opacity="0.88"/>
<rect x="435.2" y="238.5" width="1.4" height="1.4" fill="#a8dcff" opacity="0.81"/>
<rect x="450.1" y="277.8" width="1.2" height="1.2" fill="#cfeaff" opacity="0.89"/>
<rect x="484.8" y="164.9" width="1" height="1" fill="#cfeaff" opacity="0.62"/>
<rect x="563.2" y="182.6" width="1" height="1" fill="#a8dcff" opacity="0.88"/>
<rect x="465.9" y="174.1" width="1.4" height="1.4" fill="#cfeaff" opacity="0.66"/>
<rect x="439.0" y="211.5" width="1.2" height="1.2" fill="#e8f4ff" opacity="0.88"/>
<rect x="569.5" y="193.5" width="1.2" height="1.2" fill="#a8dcff" opacity="1.00"/>
<rect x="438.0" y="221.7" width="1" height="1" fill="#ffffff" opacity="0.89"/>
<rect x="535.1" y="171.6" width="1" height="1" fill="#a8dcff" opacity="0.80"/>
<rect x="439.1" y="205.8" width="1.2" height="1.2" fill="#cfeaff" opacity="0.73"/>
<rect x="458.4" y="176.2" width="1" height="1" fill="#a8dcff" opacity="0.94"/>
<rect x="574.5" y="264.3" width="1.2" height="1.2" fill="#e8f4ff" opacity="0.79"/>
<rect x="569.0" y="251.7" width="1" height="1" fill="#e8f4ff" opacity="0.81"/>
<rect x="454.8" y="180.0" width="1" height="1" fill="#ffffff" opacity="0.79"/>
<rect x="449.4" y="276.9" width="1.2" height="1.2" fill="#ffffff" opacity="0.56"/>
<rect x="526.6" y="303.2" width="1.2" height="1.2" fill="#ffffff" opacity="0.57"/>
<rect x="474.6" y="170.0" width="1" height="1" fill="#e8f4ff" opacity="0.63"/>
<rect x="481.0" y="167.2" width="1.4" height="1.4" fill="#e8f4ff" opacity="0.61"/>
<rect x="464.4" y="287.4" width="1.4" height="1.4" fill="#ffffff" opacity="0.63"/>
<rect x="540.9" y="176.6" width="1.4" height="1.4" fill="#e8f4ff" opacity="0.94"/>
<rect x="574.8" y="203.5" width="1" height="1" fill="#a8dcff" opacity="0.66"/>
<rect x="445.8" y="271.8" width="1" height="1" fill="#e8f4ff" opacity="0.74"/>
<rect x="534.3" y="164.3" width="1.4" height="1.4" fill="#cfeaff" opacity="0.96"/>
<rect x="568.1" y="195.7" width="1.2" height="1.2" fill="#ffffff" opacity="0.58"/>
<rect x="453.5" y="196.9" width="1" height="1" fill="#cfeaff" opacity="0.58"/>
<rect x="576.4" y="244.0" width="1" height="1" fill="#a8dcff" opacity="0.87"/>
<rect x="550.5" y="175.2" width="1.2" height="1.2" fill="#e8f4ff" opacity="0.66"/>
<rect x="547.4" y="291.6" width="1.4" height="1.4" fill="#e8f4ff" opacity="0.86"/>
<rect x="473.8" y="170.2" width="1" height="1" fill="#cfeaff" opacity="0.83"/>
<rect x="447.7" y="199.0" width="1" height="1" fill="#e8f4ff" opacity="0.91"/>
<rect x="485.7" y="161.8" width="1" height="1" fill="#ffffff" opacity="0.97"/>
<rect x="444.7" y="191.5" width="1.4" height="1.4" fill="#cfeaff" opacity="0.75"/>
<rect x="434.7" y="216.6" width="1" height="1" fill="#cfeaff" opacity="0.82"/>
<rect x="449.5" y="184.3" width="1" height="1" fill="#a8dcff" opacity="0.65"/>
<rect x="553.7" y="180.6" width="1.4" height="1.4" fill="#e8f4ff" opacity="0.87"/>
<rect x="484.7" y="303.1" width="1" height="1" fill="#ffffff" opacity="0.90"/>
<rect x="449.8" y="194.6" width="1.4" height="1.4" fill="#a8dcff" opacity="0.57"/>
<rect x="522.3" y="161.8" width="1.4" height="1.4" fill="#a8dcff" opacity="0.55"/>
<rect x="563.6" y="275.9" width="1.2" height="1.2" fill="#cfeaff" opacity="0.72"/>
<rect x="459.1" y="183.7" width="1.4" height="1.4" fill="#cfeaff" opacity="0.84"/>
<rect x="573.6" y="206.6" width="1.4" height="1.4" fill="#a8dcff" opacity="0.76"/>
<rect x="485.8" y="294.0" width="1.4" height="1.4" fill="#e8f4ff" opacity="0.73"/>
<rect x="510.4" y="162.0" width="1" height="1" fill="#ffffff" opacity="0.58"/>
<rect x="554.3" y="173.9" width="1" height="1" fill="#a8dcff" opacity="0.80"/>
<rect x="573.7" y="209.0" width="1.4" height="1.4" fill="#e8f4ff" opacity="0.76"/>
<rect x="538.2" y="167.9" width="1" height="1" fill="#ffffff" opacity="0.70"/>
<rect x="438.4" y="257.9" width="1.4" height="1.4" fill="#e8f4ff" opacity="0.94"/>
<rect x="438.8" y="207.7" width="1.4" height="1.4" fill="#ffffff" opacity="0.78"/>
<rect x="511.1" y="305.7" width="1" height="1" fill="#e8f4ff" opacity="0.84"/>
<rect x="580.2" y="220.6" width="1" height="1" fill="#e8f4ff" opacity="0.87"/>
<rect x="526.6" y="159.7" width="1" height="1" fill="#ffffff" opacity="0.73"/>
<rect x="568.8" y="251.1" width="1" height="1" fill="#a8dcff" opacity="0.69"/>
<rect x="552.4" y="176.2" width="1.4" height="1.4" fill="#cfeaff" opacity="0.64"/>
<rect x="437.1" y="242.5" width="1.2" height="1.2" fill="#ffffff" opacity="0.85"/>
<rect x="581.5" y="233.4" width="1" height="1" fill="#e8f4ff" opacity="0.82"/>
<rect x="451.4" y="194.1" width="1.4" height="1.4" fill="#ffffff" opacity="0.74"/>
<rect x="436.0" y="225.2" width="1.2" height="1.2" fill="#cfeaff" opacity="0.67"/>
<rect x="523.2" y="166.5" width="1.2" height="1.2" fill="#e8f4ff" opacity="0.78"/>
<rect x="472.5" y="295.7" width="1" height="1" fill="#a8dcff" opacity="0.98"/>
<rect x="578.7" y="236.8" width="1.2" height="1.2" fill="#e8f4ff" opacity="0.98"/>
<rect x="541.1" y="297.0" width="1.4" height="1.4" fill="#a8dcff" opacity="0.55"/>
<rect x="511.2" y="300.2" width="1.2" height="1.2" fill="#cfeaff" opacity="0.78"/>
<rect x="447.3" y="192.3" width="1.4" height="1.4" fill="#ffffff" opacity="0.84"/>
<rect x="440.8" y="247.8" width="1.2" height="1.2" fill="#ffffff" opacity="0.71"/>
<rect x="447.5" y="256.8" width="1" height="1" fill="#ffffff" opacity="0.72"/>
<rect x="440.8" y="197.3" width="1.4" height="1.4" fill="#cfeaff" opacity="0.68"/>
<rect x="440.6" y="236.7" width="1.4" height="1.4" fill="#cfeaff" opacity="0.68"/>
<rect x="494.7" y="303.5" width="1" height="1" fill="#a8dcff" opacity="0.94"/>
<rect x="450.9" y="210.9" width="1.4" height="1.4" fill="#a8dcff" opacity="0.56"/>
<rect x="456.2" y="281.7" width="1.4" height="1.4" fill="#ffffff" opacity="0.87"/>
<rect x="433.5" y="231.0" width="1.2" height="1.2" fill="#e8f4ff" opacity="0.71"/>
<rect x="435.5" y="231.0" width="1" height="1" fill="#cfeaff" opacity="0.67"/>
<rect x="576.5" y="235.0" width="1" height="1" fill="#a8dcff" opacity="0.84"/>
<rect x="522.6" y="165.4" width="1.4" height="1.4" fill="#e8f4ff" opacity="0.99"/>
<rect x="467.5" y="175.7" width="1.2" height="1.2" fill="#cfeaff" opacity="0.64"/>
<rect x="549.2" y="172.9" width="1" height="1" fill="#cfeaff" opacity="0.64"/>
<rect x="570.9" y="193.8" width="1" height="1" fill="#a8dcff" opacity="0.95"/>
<rect x="567.9" y="266.2" width="1.4" height="1.4" fill="#a8dcff" opacity="0.85"/>
<rect x="574.6" y="253.9" width="1" height="1" fill="#cfeaff" opacity="0.76"/>
<rect x="516.3" y="158.8" width="1.4" height="1.4" fill="#cfeaff" opacity="0.93"/>
<rect x="512.4" y="298.8" width="1" height="1" fill="#e8f4ff" opacity="0.97"/>
<rect x="437.9" y="251.3" width="1" height="1" fill="#a8dcff" opacity="0.61"/>
<rect x="444.7" y="266.0" width="1" height="1" fill="#cfeaff" opacity="0.77"/>
<rect x="566.5" y="186.4" width="1" height="1" fill="#ffffff" opacity="0.98"/>
<rect x="489.4" y="161.8" width="1.2" height="1.2" fill="#a8dcff" opacity="0.96"/>
<rect x="580.1" y="247.5" width="1" height="1" fill="#cfeaff" opacity="0.82"/>
<rect x="475.6" y="164.7" width="1.4" height="1.4" fill="#ffffff" opacity="0.94"/>
<rect x="468.4" y="174.0" width="1.2" height="1.2" fill="#cfeaff" opacity="0.55"/>
<rect x="555.3" y="178.2" width="1.4" height="1.4" fill="#e8f4ff" opacity="0.71"/>
<rect x="536.3" y="163.2" width="1" height="1" fill="#cfeaff" opacity="0.81"/>
<rect x="575.9" y="205.1" width="1" height="1" fill="#a8dcff" opacity="0.89"/>
<rect x="579.1" y="212.1" width="1.4" height="1.4" fill="#a8dcff" opacity="0.86"/>
<rect x="464.2" y="173.1" width="1" height="1" fill="#a8dcff" opacity="0.97"/>
<rect x="504.6" y="160.0" width="1.4" height="1.4" fill="#e8f4ff" opacity="0.72"/>
<rect x="433.2" y="244.0" width="1.2" height="1.2" fill="#ffffff" opacity="0.93"/>
<rect x="477.6" y="295.7" width="1.2" height="1.2" fill="#e8f4ff" opacity="0.88"/>
<rect x="446.2" y="196.1" width="1" height="1" fill="#a8dcff" opacity="0.75"/>
<rect x="454.8" y="283.8" width="1.4" height="1.4" fill="#a8dcff" opacity="0.89"/>
<rect x="483.7" y="161.6" width="1" height="1" fill="#ffffff" opacity="0.80"/>
<rect x="432.4" y="236.6" width="1.4" height="1.4" fill="#ffffff" opacity="0.80"/>
<rect x="530.2" y="167.7" width="1.4" height="1.4" fill="#cfeaff" opacity="0.79"/>
<rect x="578.2" y="210.6" width="1.2" height="1.2" fill="#a8dcff" opacity="0.84"/>
<rect x="571.9" y="195.1" width="1.2" height="1.2" fill="#e8f4ff" opacity="0.86"/>
<rect x="435.6" y="220.8" width="1" height="1" fill="#a8dcff" opacity="0.67"/>
<rect x="539.6" y="176.7" width="1" height="1" fill="#cfeaff" opacity="0.72"/>
<rect x="488.4" y="163.7" width="1" height="1" fill="#e8f4ff" opacity="0.86"/>
<rect x="456.4" y="188.1" width="1" height="1" fill="#ffffff" opacity="0.80"/>
<rect x="491.5" y="301.2" width="1.4" height="1.4" fill="#ffffff" opacity="0.94"/>
<rect x="546.3" y="172.2" width="1" height="1" fill="#ffffff" opacity="0.73"/>
<rect x="451.2" y="280.8" width="1.2" height="1.2" fill="#e8f4ff" opacity="0.76"/>
<rect x="471.0" y="170.8" width="1.4" height="1.4" fill="#cfeaff" opacity="0.88"/>
<rect x="487.3" y="166.2" width="1.2" height="1.2" fill="#ffffff" opacity="0.76"/>
<rect x="570.2" y="213.1" width="1" height="1" fill="#cfeaff" opacity="0.59"/>
<rect x="481.5" y="162.8" width="1" height="1" fill="#cfeaff" opacity="0.78"/>
<rect x="442.1" y="218.8" width="1.2" height="1.2" fill="#ffffff" opacity="0.63"/>
<rect x="527.7" y="298.2" width="1.4" height="1.4" fill="#a8dcff" opacity="0.75"/>
<rect x="485.7" y="303.6" width="1.2" height="1.2" fill="#e8f4ff" opacity="0.77"/>
<rect x="449.7" y="188.5" width="1" height="1" fill="#e8f4ff" opacity="0.83"/>
<rect x="479.5" y="300.1" width="1.4" height="1.4" fill="#e8f4ff" opacity="0.69"/>
<rect x="482.9" y="301.0" width="1.2" height="1.2" fill="#ffffff" opacity="0.80"/>
<rect x="473.8" y="173.0" width="1" height="1" fill="#e8f4ff" opacity="0.63"/>
<rect x="461.3" y="284.5" width="1.4" height="1.4" fill="#e8f4ff" opacity="0.97"/>
<rect x="579.6" y="250.3" width="1.2" height="1.2" fill="#a8dcff" opacity="0.99"/>
<rect x="439.1" y="201.2" width="1.4" height="1.4" fill="#a8dcff" opacity="0.84"/>
<rect x="515.1" y="165.1" width="1" height="1" fill="#e8f4ff" opacity="0.93"/>
<rect x="449.6" y="188.5" width="1.2" height="1.2" fill="#a8dcff" opacity="0.79"/>
<rect x="484.0" y="167.8" width="1.4" height="1.4" fill="#e8f4ff" opacity="0.99"/>
<rect x="573.2" y="201.2" width="1.2" height="1.2" fill="#cfeaff" opacity="0.73"/>
<rect x="488.7" y="298.2" width="1.4" height="1.4" fill="#cfeaff" opacity="0.64"/>
<rect x="452.5" y="272.0" width="1.2" height="1.2" fill="#e8f4ff" opacity="0.89"/>
<rect x="494.9" y="160.8" width="1.4" height="1.4" fill="#ffffff" opacity="0.64"/>
<rect x="564.4" y="188.0" width="1.2" height="1.2" fill="#cfeaff" opacity="0.75"/>
<rect x="478.1" y="166.7" width="1" height="1" fill="#ffffff" opacity="0.63"/>
<rect x="459.4" y="283.2" width="1.2" height="1.2" fill="#a8dcff" opacity="0.75"/>
<rect x="507.3" y="161.2" width="1" height="1" fill="#ffffff" opacity="0.79"/>
<rect x="452.4" y="193.4" width="1" height="1" fill="#ffffff" opacity="0.57"/>
<rect x="488.0" y="299.1" width="1.2" height="1.2" fill="#cfeaff" opacity="0.63"/>
<rect x="492.7" y="166.5" width="1.4" height="1.4" fill="#ffffff" opacity="0.68"/>
<rect x="578.9" y="224.6" width="1" height="1" fill="#e8f4ff" opacity="0.94"/>
<rect x="540.9" y="287.5" width="1" height="1" fill="#ffffff" opacity="0.89"/>
<rect x="576.2" y="215.2" width="1" height="1" fill="#e8f4ff" opacity="0.99"/>
<rect x="526.3" y="159.6" width="1" height="1" fill="#e8f4ff" opacity="0.79"/>
<rect x="481.8" y="161.9" width="1.2" height="1.2" fill="#e8f4ff" opacity="0.84"/>
<rect x="475.5" y="164.6" width="1.2" height="1.2" fill="#e8f4ff" opacity="0.58"/>
<rect x="444.5" y="197.8" width="1" height="1" fill="#a8dcff" opacity="0.59"/>
<rect x="471.9" y="169.8" width="1" height="1" fill="#cfeaff" opacity="0.55"/>
<rect x="579.1" y="232.9" width="1.4" height="1.4" fill="#e8f4ff" opacity="0.69"/>
<rect x="491.6" y="304.2" width="1" height="1" fill="#e8f4ff" opacity="0.61"/>
<rect x="573.4" y="212.3" width="1" height="1" fill="#a8dcff" opacity="0.97"/>
<rect x="494.7" y="162.7" width="1.2" height="1.2" fill="#ffffff" opacity="0.61"/>
<rect x="481.7" y="161.6" width="1" height="1" fill="#ffffff" opacity="0.85"/>
<rect x="574.3" y="222.7" width="1" height="1" fill="#ffffff" opacity="0.82"/>
<rect x="470.9" y="175.1" width="1.4" height="1.4" fill="#e8f4ff" opacity="0.57"/>
<rect x="463.4" y="177.3" width="1" height="1" fill="#cfeaff" opacity="0.88"/>
<rect x="474.5" y="167.9" width="1.4" height="1.4" fill="#cfeaff" opacity="0.76"/>
<rect x="438.3" y="201.8" width="1.4" height="1.4" fill="#a8dcff" opacity="0.76"/>
<rect x="442.1" y="204.2" width="1.2" height="1.2" fill="#e8f4ff" opacity="0.56"/>
<rect x="437.8" y="208.1" width="1" height="1" fill="#e8f4ff" opacity="0.62"/>
<rect x="489.9" y="301.3" width="1" height="1" fill="#a8dcff" opacity="0.56"/>
<rect x="471.1" y="168.0" width="1" height="1" fill="#e8f4ff" opacity="0.66"/>
<rect x="465.7" y="171.3" width="1" height="1" fill="#ffffff" opacity="0.82"/>
<rect x="481.2" y="298.7" width="1" height="1" fill="#cfeaff" opacity="0.78"/>
<rect x="447.9" y="277.5" width="1.4" height="1.4" fill="#e8f4ff" opacity="0.60"/>
<rect x="544.5" y="168.4" width="1.4" height="1.4" fill="#ffffff" opacity="0.60"/>
<rect x="435.2" y="242.8" width="1" height="1" fill="#a8dcff" opacity="0.77"/>
<rect x="496.8" y="166.5" width="1" height="1" fill="#e8f4ff" opacity="0.94"/>
<rect x="470.2" y="295.6" width="1" height="1" fill="#ffffff" opacity="0.92"/>
<rect x="550.2" y="287.6" width="1.4" height="1.4" fill="#ffffff" opacity="0.80"/>
<rect x="473.4" y="165.5" width="1" height="1" fill="#ffffff" opacity="0.64"/>
<rect x="444.9" y="265.3" width="1" height="1" fill="#cfeaff" opacity="0.66"/>
<rect x="450.6" y="267.4" width="1.2" height="1.2" fill="#e8f4ff" opacity="0.60"/>
<rect x="563.5" y="184.7" width="1.2" height="1.2" fill="#ffffff" opacity="0.56"/>
<rect x="476.7" y="166.5" width="1" height="1" fill="#e8f4ff" opacity="0.63"/>
<rect x="505.7" y="160.0" width="1.2" height="1.2" fill="#ffffff" opacity="0.86"/>
<rect x="439.8" y="200.8" width="1.4" height="1.4" fill="#a8dcff" opacity="0.67"/>
<rect x="569.4" y="271.2" width="1.4" height="1.4" fill="#a8dcff" opacity="0.84"/>
<rect x="526.2" y="297.1" width="1.2" height="1.2" fill="#ffffff" opacity="0.84"/>
<rect x="538.4" y="168.4" width="1.4" height="1.4" fill="#a8dcff" opacity="0.95"/>
<rect x="458.5" y="284.1" width="1" height="1" fill="#cfeaff" opacity="0.72"/>
<rect x="458.1" y="286.6" width="1.2" height="1.2" fill="#e8f4ff" opacity="0.71"/>
<rect x="574.4" y="224.1" width="1.4" height="1.4" fill="#ffffff" opacity="0.57"/>
<rect x="463.7" y="291.1" width="1.4" height="1.4" fill="#a8dcff" opacity="0.68"/>
<rect x="504.2" y="164.6" width="1" height="1" fill="#cfeaff" opacity="0.63"/>
<rect x="569.6" y="193.6" width="1.4" height="1.4" fill="#a8dcff" opacity="0.87"/>
<rect x="483.8" y="290.1" width="1" height="1" fill="#e8f4ff" opacity="0.81"/>
<rect x="440.3" y="250.7" width="1" height="1" fill="#cfeaff" opacity="0.64"/>
<rect x="568.2" y="189.9" width="1" height="1" fill="#a8dcff" opacity="0.63"/>
<rect x="566.0" y="191.7" width="1" height="1" fill="#cfeaff" opacity="0.67"/>
<rect x="580.5" y="235.4" width="1" height="1" fill="#e8f4ff" opacity="0.97"/>
<rect x="457.7" y="188.2" width="1" height="1" fill="#a8dcff" opacity="0.87"/>
<rect x="494.2" y="304.7" width="1" height="1" fill="#e8f4ff" opacity="0.80"/>
<rect x="440.3" y="265.2" width="1" height="1" fill="#ffffff" opacity="0.97"/>
<rect x="445.3" y="207.4" width="1.2" height="1.2" fill="#ffffff" opacity="0.99"/>
<rect x="455.0" y="189.7" width="1" height="1" fill="#cfeaff" opacity="0.88"/>
<rect x="481.1" y="166.6" width="1.2" height="1.2" fill="#cfeaff" opacity="0.96"/>
<rect x="524.3" y="297.1" width="1" height="1" fill="#e8f4ff" opacity="0.76"/>
<rect x="486.4" y="170.3" width="1.2" height="1.2" fill="#e8f4ff" opacity="0.61"/>
<rect x="465.1" y="174.4" width="1.4" height="1.4" fill="#ffffff" opacity="0.97"/>
<rect x="506.0" y="306.8" width="1" height="1" fill="#a8dcff" opacity="0.93"/>
<rect x="563.2" y="276.5" width="1.4" height="1.4" fill="#cfeaff" opacity="0.67"/>
<rect x="539.7" y="165.4" width="1" height="1" fill="#cfeaff" opacity="0.56"/>
<rect x="552.3" y="174.0" width="1.4" height="1.4" fill="#cfeaff" opacity="0.58"/>
<rect x="442.8" y="202.6" width="1" height="1" fill="#cfeaff" opacity="0.75"/>
<rect x="581.1" y="243.5" width="1" height="1" fill="#a8dcff" opacity="0.68"/>
<rect x="536.6" y="295.5" width="1.2" height="1.2" fill="#e8f4ff" opacity="0.89"/>
<rect x="441.9" y="212.1" width="1" height="1" fill="#a8dcff" opacity="0.60"/>
<rect x="566.0" y="272.3" width="1.4" height="1.4" fill="#ffffff" opacity="0.76"/>
<rect x="577.1" y="231.3" width="1.2" height="1.2" fill="#ffffff" opacity="0.58"/>
<rect x="577.0" y="250.2" width="1" height="1" fill="#cfeaff" opacity="0.73"/>
<rect x="472.2" y="166.4" width="1" height="1" fill="#ffffff" opacity="0.63"/>
<rect x="579.2" y="237.1" width="1.2" height="1.2" fill="#e8f4ff" opacity="0.83"/>
<rect x="447.5" y="201.8" width="1" height="1" fill="#e8f4ff" opacity="0.71"/>
<rect x="445.3" y="239.4" width="1" height="1" fill="#a8dcff" opacity="0.87"/>
<rect x="524.7" y="162.9" width="1.2" height="1.2" fill="#ffffff" opacity="0.91"/>
<rect x="495.3" y="303.9" width="1" height="1" fill="#cfeaff" opacity="0.77"/>
<rect x="544.0" y="168.6" width="1.2" height="1.2" fill="#e8f4ff" opacity="0.80"/>
<rect x="458.5" y="280.1" width="1.2" height="1.2" fill="#a8dcff" opacity="0.95"/>
<rect x="450.8" y="269.6" width="1.4" height="1.4" fill="#ffffff" opacity="0.73"/>
<rect x="461.7" y="172.6" width="1" height="1" fill="#ffffff" opacity="0.62"/>
<rect x="434.8" y="235.6" width="1" height="1" fill="#cfeaff" opacity="0.81"/>
<rect x="438.7" y="242.9" width="1" height="1" fill="#cfeaff" opacity="0.67"/>
<rect x="505.0" y="299.2" width="1.2" height="1.2" fill="#cfeaff" opacity="0.82"/>
<rect x="468.4" y="170.4" width="1" height="1" fill="#a8dcff" opacity="0.71"/>
<rect x="575.2" y="252.7" width="1" height="1" fill="#ffffff" opacity="0.69"/>
<rect x="543.8" y="168.8" width="1.4" height="1.4" fill="#a8dcff" opacity="0.88"/>
<rect x="558.2" y="184.9" width="1.2" height="1.2" fill="#e8f4ff" opacity="0.66"/>
<rect x="555.3" y="175.2" width="1" height="1" fill="#e8f4ff" opacity="0.70"/>
<rect x="478.7" y="294.1" width="1" height="1" fill="#cfeaff" opacity="0.95"/>
<rect x="562.9" y="272.2" width="1.4" height="1.4" fill="#ffffff" opacity="0.98"/>
<rect x="448.2" y="276.0" width="1.4" height="1.4" fill="#e8f4ff" opacity="0.82"/>
<rect x="576.2" y="217.9" width="1.2" height="1.2" fill="#e8f4ff" opacity="0.79"/>
<rect x="489.8" y="164.3" width="1" height="1" fill="#ffffff" opacity="0.69"/>
<rect x="578.7" y="223.4" width="1" height="1" fill="#e8f4ff" opacity="0.80"/>
<rect x="451.2" y="189.7" width="1.2" height="1.2" fill="#a8dcff" opacity="0.71"/>
<rect x="436.0" y="250.2" width="1.4" height="1.4" fill="#a8dcff" opacity="0.72"/>
<rect x="475.5" y="165.1" width="1" height="1" fill="#ffffff" opacity="0.80"/>
<rect x="467.5" y="295.4" width="1.4" height="1.4" fill="#ffffff" opacity="0.79"/>
<rect x="502.8" y="297.9" width="1" height="1" fill="#ffffff" opacity="0.88"/>
<rect x="559.4" y="284.7" width="1.2" height="1.2" fill="#a8dcff" opacity="0.91"/>
<rect x="438.2" y="205.0" width="1.4" height="1.4" fill="#a8dcff" opacity="0.74"/>
<rect x="551.7" y="289.7" width="1" height="1" fill="#e8f4ff" opacity="0.76"/>
<rect x="520.0" y="300.7" width="1.2" height="1.2" fill="#ffffff" opacity="0.64"/>
<rect x="481.8" y="161.8" width="1.2" height="1.2" fill="#a8dcff" opacity="0.95"/>
<rect x="561.1" y="181.0" width="1.4" height="1.4" fill="#a8dcff" opacity="0.76"/>
<rect x="461.0" y="177.7" width="1.2" height="1.2" fill="#cfeaff" opacity="0.88"/>
<rect x="543.3" y="297.4" width="1.4" height="1.4" fill="#ffffff" opacity="0.84"/>
<rect x="563.4" y="280.9" width="1" height="1" fill="#e8f4ff" opacity="0.56"/>
<rect x="485.8" y="170.2" width="1.4" height="1.4" fill="#ffffff" opacity="0.73"/>
<rect x="568.6" y="195.8" width="1" height="1" fill="#cfeaff" opacity="0.96"/>
<rect x="544.9" y="172.7" width="1.2" height="1.2" fill="#a8dcff" opacity="0.94"/>
<rect x="437.0" y="211.9" width="1.2" height="1.2" fill="#e8f4ff" opacity="0.69"/>
<rect x="509.3" y="159.2" width="1.2" height="1.2" fill="#ffffff" opacity="0.94"/>
<rect x="433.4" y="244.8" width="1" height="1" fill="#a8dcff" opacity="0.98"/>
<rect x="524.0" y="161.9" width="1" height="1" fill="#ffffff" opacity="0.71"/>
<rect x="500.8" y="160.7" width="1" height="1" fill="#ffffff" opacity="0.99"/>
<rect x="544.6" y="295.3" width="1.2" height="1.2" fill="#cfeaff" opacity="0.68"/>
<rect x="444.7" y="195.6" width="1" height="1" fill="#e8f4ff" opacity="0.99"/>
<rect x="441.2" y="265.0" width="1" height="1" fill="#cfeaff" opacity="0.86"/>
<rect x="441.0" y="197.2" width="1.2" height="1.2" fill="#e8f4ff" opacity="0.56"/>
<rect x="437.2" y="210.5" width="1.2" height="1.2" fill="#cfeaff" opacity="0.81"/>
<rect x="497.2" y="159.7" width="1.2" height="1.2" fill="#e8f4ff" opacity="0.64"/>
<rect x="487.7" y="302.2" width="1.4" height="1.4" fill="#a8dcff" opacity="0.74"/>
<rect x="449.7" y="269.6" width="1.2" height="1.2" fill="#cfeaff" opacity="0.90"/>
<rect x="437.1" y="223.3" width="1.2" height="1.2" fill="#e8f4ff" opacity="0.59"/>
<rect x="529.7" y="164.5" width="1" height="1" fill="#cfeaff" opacity="0.90"/>
<rect x="445.3" y="272.7" width="1" height="1" fill="#cfeaff" opacity="0.69"/>
<rect x="453.9" y="181.8" width="1" height="1" fill="#ffffff" opacity="0.80"/>
<rect x="434.5" y="216.1" width="1.4" height="1.4" fill="#ffffff" opacity="0.78"/>
<rect x="577.3" y="228.1" width="1.2" height="1.2" fill="#ffffff" opacity="0.59"/>
<rect x="490.1" y="172.5" width="1.2" height="1.2" fill="#ffffff" opacity="0.77"/>
<rect x="453.1" y="182.1" width="1" height="1" fill="#a8dcff" opacity="0.55"/>
<rect x="459.7" y="181.4" width="1.4" height="1.4" fill="#ffffff" opacity="0.64"/>
<rect x="547.2" y="174.3" width="1.2" height="1.2" fill="#cfeaff" opacity="0.58"/>
<rect x="525.9" y="302.1" width="1.4" height="1.4" fill="#e8f4ff" opacity="0.56"/>
<rect x="453.8" y="282.5" width="1" height="1" fill="#ffffff" opacity="0.91"/>
<rect x="555.8" y="180.2" width="1.2" height="1.2" fill="#ffffff" opacity="0.84"/>
<rect x="452.8" y="272.7" width="1" height="1" fill="#a8dcff" opacity="0.73"/>
<rect x="434.6" y="248.3" width="1" height="1" fill="#a8dcff" opacity="0.57"/>
<rect x="519.0" y="162.4" width="1.4" height="1.4" fill="#e8f4ff" opacity="0.92"/>
<rect x="477.3" y="166.7" width="1.2" height="1.2" fill="#a8dcff" opacity="0.98"/>
<rect x="432.6" y="231.5" width="1.2" height="1.2" fill="#e8f4ff" opacity="0.83"/>
<rect x="475.3" y="171.9" width="1" height="1" fill="#a8dcff" opacity="0.99"/>
<rect x="573.2" y="202.7" width="1.2" height="1.2" fill="#ffffff" opacity="0.95"/>
<rect x="516.5" y="301.9" width="1.2" height="1.2" fill="#cfeaff" opacity="0.80"/>
<rect x="441.2" y="202.2" width="1" height="1" fill="#e8f4ff" opacity="0.74"/>
<rect x="504.4" y="304.4" width="1" height="1" fill="#e8f4ff" opacity="0.87"/>
<rect x="545.3" y="170.7" width="1.2" height="1.2" fill="#cfeaff" opacity="1.00"/>
<rect x="435.6" y="210.7" width="1.4" height="1.4" fill="#ffffff" opacity="0.99"/>
<rect x="462.9" y="288.3" width="1.4" height="1.4" fill="#e8f4ff" opacity="0.76"/>
<rect x="577.2" y="208.5" width="1" height="1" fill="#ffffff" opacity="0.97"/>
<rect x="436.5" y="221.4" width="1.2" height="1.2" fill="#a8dcff" opacity="0.80"/>
<rect x="436.4" y="209.5" width="1.4" height="1.4" fill="#cfeaff" opacity="0.94"/>
<rect x="475.9" y="173.5" width="1" height="1" fill="#ffffff" opacity="0.80"/>
<rect x="523.6" y="302.7" width="1.2" height="1.2" fill="#a8dcff" opacity="0.93"/>
<rect x="459.3" y="273.8" width="1.2" height="1.2" fill="#a8dcff" opacity="1.00"/>
<rect x="448.1" y="272.9" width="1.2" height="1.2" fill="#ffffff" opacity="0.74"/>
<rect x="439.1" y="250.5" width="1.4" height="1.4" fill="#cfeaff" opacity="0.80"/>
<rect x="528.4" y="162.2" width="1.2" height="1.2" fill="#ffffff" opacity="0.96"/>
<rect x="436.3" y="229.8" width="1.4" height="1.4" fill="#e8f4ff" opacity="0.92"/>
<rect x="435.0" y="222.8" width="1" height="1" fill="#cfeaff" opacity="0.77"/>
<rect x="560.2" y="280.3" width="1.4" height="1.4" fill="#e8f4ff" opacity="0.81"/>
<rect x="439.6" y="259.3" width="1" height="1" fill="#ffffff" opacity="0.78"/>
<rect x="562.7" y="183.9" width="1.2" height="1.2" fill="#cfeaff" opacity="0.85"/>
<rect x="435.6" y="214.2" width="1.2" height="1.2" fill="#a8dcff" opacity="0.64"/>
<rect x="459.3" y="176.3" width="1" height="1" fill="#ffffff" opacity="0.62"/>
<rect x="433.1" y="228.6" width="1" height="1" fill="#a8dcff" opacity="0.74"/>
<rect x="497.6" y="163.7" width="1.2" height="1.2" fill="#ffffff" opacity="0.70"/>
<rect x="433.7" y="234.4" width="1.4" height="1.4" fill="#a8dcff" opacity="0.82"/>
<rect x="434.1" y="226.5" width="1" height="1" fill="#cfeaff" opacity="0.66"/>
<rect x="570.1" y="198.8" width="1" height="1" fill="#e8f4ff" opacity="0.61"/>
<rect x="522.9" y="300.8" width="1.2" height="1.2" fill="#e8f4ff" opacity="0.77"/>
<rect x="442.1" y="200.4" width="1" height="1" fill="#cfeaff" opacity="0.78"/>
<rect x="523.5" y="159.5" width="1" height="1" fill="#e8f4ff" opacity="0.65"/>
<rect x="526.4" y="164.7" width="1.2" height="1.2" fill="#cfeaff" opacity="0.84"/>
<rect x="446.9" y="190.5" width="1.2" height="1.2" fill="#a8dcff" opacity="0.92"/>
<rect x="470.0" y="170.4" width="1.2" height="1.2" fill="#cfeaff" opacity="0.92"/>
<rect x="535.1" y="300.4" width="1.2" height="1.2" fill="#a8dcff" opacity="0.59"/>
<rect x="544.6" y="294.3" width="1.2" height="1.2" fill="#e8f4ff" opacity="0.85"/>
<rect x="441.0" y="200.4" width="1.2" height="1.2" fill="#e8f4ff" opacity="0.81"/>
<rect x="441.0" y="267.0" width="1" height="1" fill="#ffffff" opacity="0.73"/>
<rect x="546.9" y="295.1" width="1" height="1" fill="#a8dcff" opacity="0.68"/>
<rect x="574.6" y="229.9" width="1.2" height="1.2" fill="#a8dcff" opacity="0.65"/>
<rect x="440.3" y="253.6" width="1" height="1" fill="#ffffff" opacity="0.94"/>
<rect x="466.0" y="293.8" width="1" height="1" fill="#ffffff" opacity="0.92"/>
<rect x="503.5" y="299.7" width="1.4" height="1.4" fill="#ffffff" opacity="0.71"/>
<rect x="574.5" y="246.2" width="1" height="1" fill="#a8dcff" opacity="0.71"/>
<rect x="486.3" y="292.3" width="1" height="1" fill="#a8dcff" opacity="0.87"/>
<rect x="444.8" y="193.8" width="1" height="1" fill="#a8dcff" opacity="0.60"/>
<rect x="446.8" y="188.7" width="1.4" height="1.4" fill="#ffffff" opacity="0.90"/>
<rect x="563.8" y="274.3" width="1" height="1" fill="#cfeaff" opacity="0.57"/>
<rect x="567.2" y="208.9" width="1.2" height="1.2" fill="#e8f4ff" opacity="0.93"/>
<rect x="535.9" y="165.5" width="1" height="1" fill="#ffffff" opacity="0.71"/>
<rect x="506.2" y="157.7" width="1.4" height="1.4" fill="#e8f4ff" opacity="0.98"/>
<rect x="555.2" y="285.5" width="1.4" height="1.4" fill="#e8f4ff" opacity="0.72"/>
<rect x="576.5" y="205.7" width="1" height="1" fill="#e8f4ff" opacity="0.80"/>
<rect x="433.7" y="220.6" width="1" height="1" fill="#ffffff" opacity="0.70"/>
<rect x="514.2" y="299.2" width="1" height="1" fill="#cfeaff" opacity="0.80"/>
<rect x="453.9" y="284.5" width="1.4" height="1.4" fill="#ffffff" opacity="0.95"/>
<rect x="455.2" y="276.5" width="1.2" height="1.2" fill="#cfeaff" opacity="0.75"/>
<rect x="439.1" y="237.7" width="1" height="1" fill="#e8f4ff" opacity="0.95"/>
<rect x="453.0" y="191.4" width="1" height="1" fill="#ffffff" opacity="0.72"/>
<rect x="488.1" y="168.0" width="1" height="1" fill="#cfeaff" opacity="0.68"/>
<rect x="489.8" y="303.2" width="1.2" height="1.2" fill="#ffffff" opacity="0.71"/>
<rect x="441.9" y="204.6" width="1" height="1" fill="#cfeaff" opacity="0.84"/>
<rect x="550.7" y="188.2" width="1.2" height="1.2" fill="#cfeaff" opacity="0.66"/>
<rect x="501.9" y="304.0" width="1.4" height="1.4" fill="#cfeaff" opacity="0.86"/>
<rect x="481.9" y="295.8" width="1.4" height="1.4" fill="#e8f4ff" opacity="0.90"/>
<rect x="482.5" y="295.6" width="1" height="1" fill="#e8f4ff" opacity="0.65"/>
<rect x="479.6" y="294.5" width="1" height="1" fill="#a8dcff" opacity="0.66"/>
<rect x="559.2" y="283.4" width="1" height="1" fill="#a8dcff" opacity="0.78"/>
<rect x="561.5" y="276.1" width="1.4" height="1.4" fill="#cfeaff" opacity="0.66"/>
<rect x="503.8" y="302.6" width="1.2" height="1.2" fill="#a8dcff" opacity="0.74"/>
<rect x="493.1" y="304.8" width="1.4" height="1.4" fill="#cfeaff" opacity="0.97"/>
<rect x="503.2" y="164.0" width="1.2" height="1.2" fill="#cfeaff" opacity="0.87"/>
<rect x="514.1" y="304.0" width="1" height="1" fill="#e8f4ff" opacity="0.55"/>
<rect x="565.6" y="193.4" width="1" height="1" fill="#ffffff" opacity="0.78"/>
<rect x="552.1" y="188.2" width="1.4" height="1.4" fill="#cfeaff" opacity="0.64"/>
<rect x="570.8" y="237.5" width="1.2" height="1.2" fill="#cfeaff" opacity="0.75"/>
<rect x="462.4" y="175.1" width="1" height="1" fill="#e8f4ff" opacity="0.91"/>
<rect x="569.4" y="224.1" width="1" height="1" fill="#a8dcff" opacity="0.95"/>
<rect x="484.8" y="162.9" width="1" height="1" fill="#e8f4ff" opacity="0.90"/>
<rect x="433.3" y="219.0" width="1.2" height="1.2" fill="#e8f4ff" opacity="0.93"/>
<rect x="511.6" y="160.2" width="1.2" height="1.2" fill="#ffffff" opacity="0.64"/>
<rect x="552.9" y="175.5" width="1" height="1" fill="#ffffff" opacity="0.89"/>
<rect x="444.0" y="265.5" width="1" height="1" fill="#cfeaff" opacity="0.85"/>
<rect x="563.4" y="264.3" width="1" height="1" fill="#ffffff" opacity="0.67"/>
<rect x="523.0" y="159.7" width="1" height="1" fill="#e8f4ff" opacity="0.82"/>
<rect x="536.6" y="172.0" width="1.4" height="1.4" fill="#e8f4ff" opacity="0.73"/>
<rect x="513.1" y="159.2" width="1.2" height="1.2" fill="#ffffff" opacity="0.70"/>
<rect x="449.7" y="191.6" width="1" height="1" fill="#a8dcff" opacity="0.94"/>
<rect x="520.1" y="164.0" width="1" height="1" fill="#e8f4ff" opacity="0.85"/>
<rect x="568.4" y="272.8" width="1.2" height="1.2" fill="#a8dcff" opacity="0.86"/>
<rect x="460.7" y="288.1" width="1.4" height="1.4" fill="#ffffff" opacity="0.91"/>
<rect x="434.7" y="232.3" width="1.4" height="1.4" fill="#a8dcff" opacity="0.58"/>
<rect x="456.4" y="187.8" width="1.2" height="1.2" fill="#e8f4ff" opacity="0.88"/>
<rect x="489.9" y="159.2" width="1.4" height="1.4" fill="#e8f4ff" opacity="0.74"/>
<rect x="547.0" y="172.6" width="1.4" height="1.4" fill="#a8dcff" opacity="0.80"/>
<rect x="511.0" y="306.4" width="1" height="1" fill="#cfeaff" opacity="0.78"/>
<rect x="435.1" y="224.1" width="1.2" height="1.2" fill="#ffffff" opacity="0.88"/>
<rect x="442.5" y="203.8" width="1.2" height="1.2" fill="#a8dcff" opacity="0.59"/>
<rect x="467.8" y="286.8" width="1" height="1" fill="#a8dcff" opacity="0.98"/>
<rect x="443.0" y="196.2" width="1.4" height="1.4" fill="#e8f4ff" opacity="0.74"/>
<rect x="440.4" y="198.5" width="1" height="1" fill="#ffffff" opacity="0.69"/>
<rect x="465.5" y="170.9" width="1.4" height="1.4" fill="#ffffff" opacity="0.95"/>
<rect x="432.6" y="235.5" width="1" height="1" fill="#e8f4ff" opacity="0.86"/>
<rect x="546.5" y="172.6" width="1" height="1" fill="#e8f4ff" opacity="0.62"/>
<rect x="489.6" y="165.9" width="1.2" height="1.2" fill="#cfeaff" opacity="0.59"/>
<rect x="437.0" y="254.0" width="1.2" height="1.2" fill="#e8f4ff" opacity="0.69"/>
<rect x="571.7" y="202.0" width="1.2" height="1.2" fill="#ffffff" opacity="0.81"/>
<rect x="554.9" y="175.7" width="1.4" height="1.4" fill="#cfeaff" opacity="0.89"/>
<rect x="576.7" y="226.1" width="1.4" height="1.4" fill="#e8f4ff" opacity="0.64"/>
<rect x="473.4" y="294.9" width="1.4" height="1.4" fill="#cfeaff" opacity="0.57"/>
<rect x="435.7" y="246.2" width="1" height="1" fill="#e8f4ff" opacity="0.67"/>
<rect x="559.3" y="274.5" width="1" height="1" fill="#a8dcff" opacity="0.90"/>
<rect x="569.8" y="216.0" width="1" height="1" fill="#ffffff" opacity="0.90"/>
<rect x="538.4" y="296.8" width="1.2" height="1.2" fill="#cfeaff" opacity="1.00"/>
<rect x="538.2" y="294.3" width="1" height="1" fill="#e8f4ff" opacity="0.95"/>
<rect x="489.6" y="291.2" width="1.4" height="1.4" fill="#a8dcff" opacity="0.69"/>
<rect x="473.3" y="294.8" width="1" height="1" fill="#e8f4ff" opacity="0.57"/>
<rect x="556.9" y="177.9" width="1.2" height="1.2" fill="#a8dcff" opacity="0.67"/>
<rect x="530.0" y="295.2" width="1" height="1" fill="#ffffff" opacity="0.65"/>
<rect x="437.1" y="206.0" width="1" height="1" fill="#e8f4ff" opacity="0.91"/>
<rect x="498.5" y="159.8" width="1" height="1" fill="#e8f4ff" opacity="0.92"/>
<rect x="463.7" y="176.9" width="1" height="1" fill="#e8f4ff" opacity="0.68"/>
<rect x="465.0" y="170.9" width="1.2" height="1.2" fill="#cfeaff" opacity="0.82"/>
<rect x="480.2" y="300.5" width="1" height="1" fill="#a8dcff" opacity="0.79"/>
<rect x="574.1" y="204.4" width="1.4" height="1.4" fill="#cfeaff" opacity="0.99"/>
<rect x="566.0" y="187.4" width="1" height="1" fill="#e8f4ff" opacity="0.89"/>
<rect x="552.0" y="180.3" width="1.2" height="1.2" fill="#e8f4ff" opacity="0.76"/>
<rect x="528.5" y="289.5" width="1" height="1" fill="#e8f4ff" opacity="0.57"/>
<rect x="475.5" y="298.8" width="1.4" height="1.4" fill="#e8f4ff" opacity="0.97"/>
<rect x="547.2" y="176.1" width="1.2" height="1.2" fill="#e8f4ff" opacity="0.56"/>
<rect x="459.5" y="176.5" width="1" height="1" fill="#ffffff" opacity="0.93"/>
<rect x="442.5" y="252.6" width="1" height="1" fill="#ffffff" opacity="0.93"/>
<rect x="473.2" y="175.3" width="1.4" height="1.4" fill="#cfeaff" opacity="0.93"/>
<rect x="581.5" y="233.1" width="1.4" height="1.4" fill="#e8f4ff" opacity="0.87"/>
<rect x="483.0" y="298.1" width="1" height="1" fill="#ffffff" opacity="0.61"/>
<rect x="490.9" y="165.0" width="1" height="1" fill="#ffffff" opacity="0.58"/>
<rect x="494.5" y="167.7" width="1" height="1" fill="#cfeaff" opacity="0.56"/>
<rect x="445.8" y="194.2" width="1.2" height="1.2" fill="#a8dcff" opacity="0.76"/>
<rect x="507.0" y="168.5" width="1.4" height="1.4" fill="#cfeaff" opacity="0.70"/>
<rect x="438.4" y="215.4" width="1" height="1" fill="#a8dcff" opacity="0.67"/>
<rect x="579.4" y="244.9" width="1.2" height="1.2" fill="#a8dcff" opacity="0.65"/>
<rect x="454.1" y="179.0" width="1" height="1" fill="#a8dcff" opacity="0.95"/>
<rect x="453.2" y="283.2" width="1.2" height="1.2" fill="#e8f4ff" opacity="0.70"/>
<rect x="581.3" y="224.2" width="1.4" height="1.4" fill="#a8dcff" opacity="0.78"/>
<rect x="555.6" y="186.8" width="1" height="1" fill="#e8f4ff" opacity="0.82"/>
<rect x="549.6" y="289.6" width="1.4" height="1.4" fill="#e8f4ff" opacity="0.85"/>
<rect x="559.6" y="274.6" width="1.2" height="1.2" fill="#a8dcff" opacity="0.80"/>
<rect x="506.6" y="299.4" width="1.4" height="1.4" fill="#a8dcff" opacity="0.58"/>
<rect x="493.1" y="160.1" width="1" height="1" fill="#ffffff" opacity="0.99"/>
<rect x="438.3" y="244.5" width="1.4" height="1.4" fill="#cfeaff" opacity="0.83"/>
<rect x="438.8" y="245.9" width="1" height="1" fill="#e8f4ff" opacity="0.58"/>
<rect x="433.5" y="235.7" width="1.4" height="1.4" fill="#a8dcff" opacity="0.66"/>
<rect x="439.0" y="214.8" width="1" height="1" fill="#a8dcff" opacity="0.75"/>
<rect x="491.6" y="302.5" width="1" height="1" fill="#e8f4ff" opacity="0.75"/>
<rect x="436.4" y="226.9" width="1" height="1" fill="#a8dcff" opacity="0.76"/>
<rect x="437.8" y="217.4" width="1.4" height="1.4" fill="#a8dcff" opacity="0.98"/>
<rect x="560.2" y="276.7" width="1.2" height="1.2" fill="#e8f4ff" opacity="0.62"/>
<rect x="552.3" y="289.7" width="1.2" height="1.2" fill="#cfeaff" opacity="0.59"/>
<rect x="492.4" y="303.3" width="1" height="1" fill="#cfeaff" opacity="0.76"/>
<rect x="516.8" y="291.1" width="1.4" height="1.4" fill="#a8dcff" opacity="0.86"/>
<rect x="459.1" y="179.4" width="1" height="1" fill="#a8dcff" opacity="0.92"/>
<rect x="442.4" y="259.9" width="1" height="1" fill="#ffffff" opacity="0.97"/>
<rect x="444.9" y="192.5" width="1" height="1" fill="#ffffff" opacity="0.71"/>
<rect x="468.3" y="172.1" width="1.2" height="1.2" fill="#cfeaff" opacity="0.99"/>
<rect x="462.5" y="172.1" width="1" height="1" fill="#ffffff" opacity="0.80"/>
<rect x="472.3" y="169.6" width="1.4" height="1.4" fill="#e8f4ff" opacity="0.60"/>
<rect x="562.4" y="197.9" width="1" height="1" fill="#e8f4ff" opacity="0.91"/>
<rect x="573.4" y="264.7" width="1" height="1" fill="#ffffff" opacity="0.99"/>
<rect x="542.8" y="166.7" width="1.4" height="1.4" fill="#e8f4ff" opacity="0.72"/>
<rect x="456.7" y="284.3" width="1" height="1" fill="#ffffff" opacity="0.80"/>
<rect x="463.5" y="176.1" width="1.4" height="1.4" fill="#e8f4ff" opacity="0.78"/>
<rect x="455.8" y="272.0" width="1" height="1" fill="#a8dcff" opacity="0.60"/>
<rect x="444.4" y="273.1" width="1" height="1" fill="#a8dcff" opacity="0.71"/>
<rect x="473.5" y="294.1" width="1" height="1" fill="#ffffff" opacity="0.66"/>
<rect x="551.1" y="288.8" width="1" height="1" fill="#e8f4ff" opacity="0.94"/>
<rect x="444.9" y="269.6" width="1.4" height="1.4" fill="#a8dcff" opacity="0.68"/>
<rect x="557.6" y="180.6" width="1" height="1" fill="#a8dcff" opacity="0.83"/>
<rect x="440.5" y="201.5" width="1" height="1" fill="#a8dcff" opacity="0.93"/>
<rect x="493.5" y="163.6" width="1" height="1" fill="#a8dcff" opacity="0.91"/>
<rect x="434.5" y="224.7" width="1.2" height="1.2" fill="#cfeaff" opacity="0.81"/>
<rect x="439.0" y="258.0" width="1" height="1" fill="#e8f4ff" opacity="0.64"/>
<rect x="577.6" y="242.1" width="1" height="1" fill="#a8dcff" opacity="0.60"/>
<rect x="553.1" y="184.6" width="1" height="1" fill="#cfeaff" opacity="0.79"/>
<rect x="495.7" y="158.3" width="1.2" height="1.2" fill="#cfeaff" opacity="0.72"/>
<rect x="512.1" y="306.7" width="1" height="1" fill="#e8f4ff" opacity="0.72"/>
<rect x="501.7" y="162.1" width="1" height="1" fill="#ffffff" opacity="0.88"/>
<rect x="440.3" y="203.9" width="1.2" height="1.2" fill="#a8dcff" opacity="0.75"/>
<rect x="480.0" y="163.0" width="1.2" height="1.2" fill="#e8f4ff" opacity="0.92"/>
<rect x="577.6" y="230.2" width="1" height="1" fill="#ffffff" opacity="0.84"/>
<rect x="479.8" y="173.3" width="1.4" height="1.4" fill="#cfeaff" opacity="0.56"/>
<rect x="477.8" y="164.7" width="1" height="1" fill="#cfeaff" opacity="0.90"/>
<rect x="479.9" y="169.2" width="1.4" height="1.4" fill="#a8dcff" opacity="0.97"/>
<rect x="436.1" y="208.4" width="1" height="1" fill="#ffffff" opacity="1.00"/>
<rect x="469.1" y="173.2" width="1.2" height="1.2" fill="#cfeaff" opacity="0.81"/>
<rect x="478.8" y="162.8" width="1.4" height="1.4" fill="#cfeaff" opacity="0.79"/>
<rect x="520.4" y="303.2" width="1.2" height="1.2" fill="#e8f4ff" opacity="0.92"/>
<rect x="447.8" y="188.7" width="1.2" height="1.2" fill="#cfeaff" opacity="0.90"/>
<rect x="575.8" y="256.0" width="1" height="1" fill="#ffffff" opacity="0.88"/>
<rect x="441.0" y="203.4" width="1" height="1" fill="#ffffff" opacity="0.78"/>
<rect x="448.8" y="268.4" width="1.4" height="1.4" fill="#ffffff" opacity="0.80"/>
<rect x="439.0" y="227.2" width="1.2" height="1.2" fill="#e8f4ff" opacity="0.72"/>
<rect x="441.3" y="243.0" width="1" height="1" fill="#a8dcff" opacity="0.61"/>
<rect x="488.4" y="295.7" width="1" height="1" fill="#ffffff" opacity="0.87"/>
<rect x="459.3" y="176.0" width="1.2" height="1.2" fill="#e8f4ff" opacity="0.95"/>
<rect x="502.3" y="163.1" width="1" height="1" fill="#ffffff" opacity="0.88"/>
<rect x="499.9" y="167.2" width="1.2" height="1.2" fill="#a8dcff" opacity="0.66"/>
<rect x="440.0" y="205.9" width="1" height="1" fill="#a8dcff" opacity="0.76"/>
<rect x="519.1" y="165.2" width="1.2" height="1.2" fill="#e8f4ff" opacity="0.80"/>
<rect x="433.1" y="228.9" width="1.4" height="1.4" fill="#a8dcff" opacity="0.78"/>
<rect x="456.1" y="284.9" width="1" height="1" fill="#e8f4ff" opacity="0.63"/>
<rect x="466.6" y="178.6" width="1" height="1" fill="#cfeaff" opacity="0.68"/>
<rect x="534.9" y="165.7" width="1" height="1" fill="#ffffff" opacity="0.72"/>
<rect x="457.5" y="288.2" width="1.2" height="1.2" fill="#e8f4ff" opacity="0.81"/>
<rect x="569.3" y="273.0" width="1.4" height="1.4" fill="#e8f4ff" opacity="0.73"/>
<rect x="441.6" y="240.0" width="1.2" height="1.2" fill="#a8dcff" opacity="0.90"/>
<rect x="545.6" y="169.1" width="1.4" height="1.4" fill="#e8f4ff" opacity="0.77"/>
<rect x="472.2" y="293.3" width="1" height="1" fill="#e8f4ff" opacity="0.79"/>
<rect x="489.2" y="297.9" width="1.2" height="1.2" fill="#cfeaff" opacity="0.96"/>
<rect x="441.5" y="255.9" width="1.2" height="1.2" fill="#ffffff" opacity="0.81"/>
<rect x="564.7" y="197.7" width="1" height="1" fill="#ffffff" opacity="0.80"/>
<rect x="577.8" y="215.8" width="1.2" height="1.2" fill="#a8dcff" opacity="0.90"/>
<rect x="509.6" y="164.6" width="1" height="1" fill="#e8f4ff" opacity="0.63"/>
<rect x="461.7" y="280.9" width="1.4" height="1.4" fill="#ffffff" opacity="0.77"/>
<rect x="452.8" y="184.2" width="1" height="1" fill="#cfeaff" opacity="0.99"/>
<rect x="452.5" y="188.8" width="1.2" height="1.2" fill="#a8dcff" opacity="0.57"/>
<rect x="572.0" y="208.8" width="1.4" height="1.4" fill="#e8f4ff" opacity="0.69"/>
<rect x="454.5" y="279.4" width="1.2" height="1.2" fill="#a8dcff" opacity="0.75"/>
<rect x="436.1" y="250.1" width="1.4" height="1.4" fill="#ffffff" opacity="0.79"/>
<rect x="531.8" y="164.9" width="1" height="1" fill="#ffffff" opacity="0.72"/>
<rect x="449.1" y="185.7" width="1" height="1" fill="#cfeaff" opacity="0.91"/>
<rect x="471.2" y="170.3" width="1.4" height="1.4" fill="#ffffff" opacity="0.86"/>
<rect x="442.7" y="200.2" width="1.2" height="1.2" fill="#ffffff" opacity="0.84"/>
<rect x="509.9" y="298.5" width="1.2" height="1.2" fill="#e8f4ff" opacity="1.00"/>
<rect x="570.2" y="262.7" width="1.4" height="1.4" fill="#cfeaff" opacity="0.63"/>
<rect x="435.8" y="232.4" width="1" height="1" fill="#ffffff" opacity="0.72"/>
<rect x="578.0" y="239.9" width="1.2" height="1.2" fill="#cfeaff" opacity="0.68"/>
<rect x="512.0" y="161.8" width="1" height="1" fill="#a8dcff" opacity="0.96"/>
<rect x="440.8" y="246.0" width="1" height="1" fill="#cfeaff" opacity="0.89"/>
<rect x="447.8" y="257.1" width="1.2" height="1.2" fill="#ffffff" opacity="0.91"/>
<rect x="440.8" y="266.1" width="1" height="1" fill="#a8dcff" opacity="0.94"/>
<rect x="559.9" y="179.9" width="1" height="1" fill="#a8dcff" opacity="0.70"/>
<rect x="534.1" y="295.5" width="1.2" height="1.2" fill="#e8f4ff" opacity="0.84"/>
<rect x="561.9" y="181.4" width="1" height="1" fill="#ffffff" opacity="0.95"/>
<rect x="501.0" y="305.5" width="1" height="1" fill="#ffffff" opacity="1.00"/>
<rect x="527.1" y="160.2" width="1.4" height="1.4" fill="#cfeaff" opacity="0.94"/>
<rect x="530.0" y="160.8" width="1.4" height="1.4" fill="#e8f4ff" opacity="0.76"/>
<rect x="552.9" y="283.4" width="1" height="1" fill="#cfeaff" opacity="0.80"/>
<rect x="487.1" y="166.8" width="1.4" height="1.4" fill="#cfeaff" opacity="0.90"/>
<rect x="446.5" y="199.3" width="1.4" height="1.4" fill="#cfeaff" opacity="0.67"/>
<rect x="575.3" y="250.2" width="1.4" height="1.4" fill="#ffffff" opacity="0.76"/>
<rect x="445.8" y="192.4" width="1.2" height="1.2" fill="#cfeaff" opacity="0.89"/>
<rect x="509.2" y="161.8" width="1" height="1" fill="#cfeaff" opacity="0.92"/>
<rect x="561.3" y="188.5" width="1" height="1" fill="#ffffff" opacity="0.67"/>
<rect x="435.8" y="239.5" width="1.4" height="1.4" fill="#e8f4ff" opacity="0.69"/>
<rect x="576.7" y="247.2" width="1.2" height="1.2" fill="#ffffff" opacity="0.87"/>
<rect x="439.7" y="204.1" width="1" height="1" fill="#cfeaff" opacity="0.91"/>
<rect x="473.5" y="291.2" width="1.2" height="1.2" fill="#cfeaff" opacity="0.58"/>
<rect x="534.7" y="162.9" width="1" height="1" fill="#cfeaff" opacity="0.59"/>
<rect x="482.6" y="302.1" width="1" height="1" fill="#a8dcff" opacity="0.90"/>
<rect x="479.6" y="164.8" width="1" height="1" fill="#e8f4ff" opacity="0.97"/>
<rect x="435.8" y="254.1" width="1.2" height="1.2" fill="#ffffff" opacity="0.57"/>
<rect x="561.5" y="185.4" width="1.4" height="1.4" fill="#ffffff" opacity="0.95"/>
<rect x="460.8" y="178.3" width="1.2" height="1.2" fill="#a8dcff" opacity="0.99"/>
<rect x="517.4" y="159.8" width="1.4" height="1.4" fill="#ffffff" opacity="0.83"/>
<rect x="436.7" y="240.1" width="1.2" height="1.2" fill="#a8dcff" opacity="0.93"/>
<rect x="448.7" y="192.0" width="1" height="1" fill="#cfeaff" opacity="0.64"/>
<rect x="445.9" y="193.2" width="1.2" height="1.2" fill="#a8dcff" opacity="0.97"/>
<rect x="518.9" y="168.7" width="1" height="1" fill="#a8dcff" opacity="0.70"/>
<rect x="476.8" y="165.1" width="1" height="1" fill="#e8f4ff" opacity="0.87"/>
<rect x="545.0" y="169.3" width="1.2" height="1.2" fill="#e8f4ff" opacity="0.84"/>
<rect x="508.7" y="158.9" width="1.2" height="1.2" fill="#a8dcff" opacity="0.97"/>
<rect x="517.0" y="160.3" width="1" height="1" fill="#e8f4ff" opacity="0.83"/>
<rect x="566.9" y="204.5" width="1" height="1" fill="#e8f4ff" opacity="0.66"/>
<rect x="538.7" y="293.5" width="1.2" height="1.2" fill="#ffffff" opacity="0.81"/>
<rect x="569.7" y="201.2" width="1.4" height="1.4" fill="#cfeaff" opacity="0.66"/>
<rect x="524.9" y="292.3" width="1.2" height="1.2" fill="#a8dcff" opacity="0.92"/>
<rect x="437.7" y="223.9" width="1" height="1" fill="#ffffff" opacity="0.71"/>
<rect x="477.6" y="300.3" width="1" height="1" fill="#a8dcff" opacity="0.83"/>
<rect x="516.2" y="301.6" width="1" height="1" fill="#cfeaff" opacity="0.60"/>
<rect x="434.6" y="229.5" width="1" height="1" fill="#ffffff" opacity="0.77"/>
<rect x="559.4" y="180.0" width="1" height="1" fill="#cfeaff" opacity="0.60"/>
<rect x="459.3" y="282.1" width="1.2" height="1.2" fill="#e8f4ff" opacity="0.79"/>
<rect x="466.9" y="180.9" width="1" height="1" fill="#ffffff" opacity="0.79"/>
<rect x="463.8" y="287.9" width="1" height="1" fill="#e8f4ff" opacity="0.88"/>
<rect x="470.0" y="170.6" width="1.2" height="1.2" fill="#ffffff" opacity="0.85"/>
<rect x="471.3" y="171.4" width="1" height="1" fill="#a8dcff" opacity="0.93"/>
<rect x="490.6" y="163.5" width="1.4" height="1.4" fill="#a8dcff" opacity="0.94"/>
<rect x="457.1" y="176.4" width="1" height="1" fill="#a8dcff" opacity="0.99"/>
<rect x="474.3" y="167.1" width="1" height="1" fill="#a8dcff" opacity="0.69"/>
<rect x="438.7" y="234.2" width="1.2" height="1.2" fill="#cfeaff" opacity="0.94"/>
<rect x="533.0" y="162.2" width="1.4" height="1.4" fill="#ffffff" opacity="0.87"/>
<rect x="553.0" y="177.1" width="1" height="1" fill="#cfeaff" opacity="0.63"/>
<rect x="450.6" y="183.4" width="1" height="1" fill="#cfeaff" opacity="0.89"/>
<rect x="553.3" y="286.2" width="1.2" height="1.2" fill="#cfeaff" opacity="0.65"/>
<rect x="552.0" y="277.3" width="1.2" height="1.2" fill="#cfeaff" opacity="0.87"/>
<rect x="448.2" y="273.3" width="1.2" height="1.2" fill="#e8f4ff" opacity="0.65"/>
<rect x="446.5" y="267.2" width="1" height="1" fill="#ffffff" opacity="0.63"/>
<rect x="570.6" y="205.3" width="1.2" height="1.2" fill="#e8f4ff" opacity="0.99"/>
<rect x="559.3" y="180.1" width="1" height="1" fill="#cfeaff" opacity="0.67"/>
<rect x="565.1" y="275.3" width="1.4" height="1.4" fill="#ffffff" opacity="0.67"/>
<rect x="432.6" y="235.5" width="1" height="1" fill="#a8dcff" opacity="0.58"/>
<rect x="576.7" y="216.9" width="1.2" height="1.2" fill="#ffffff" opacity="0.67"/>
<rect x="521.5" y="159.3" width="1" height="1" fill="#a8dcff" opacity="0.73"/>
<rect x="434.9" y="242.3" width="1" height="1" fill="#a8dcff" opacity="0.72"/>
<rect x="524.5" y="163.3" width="1" height="1" fill="#ffffff" opacity="0.74"/>
<rect x="551.2" y="175.8" width="1" height="1" fill="#cfeaff" opacity="0.85"/>
<rect x="474.4" y="167.1" width="1" height="1" fill="#e8f4ff" opacity="0.66"/>
<rect x="490.4" y="168.9" width="1.4" height="1.4" fill="#a8dcff" opacity="0.84"/>
<rect x="563.3" y="188.5" width="1.2" height="1.2" fill="#e8f4ff" opacity="0.87"/>
<rect x="448.5" y="190.9" width="1.2" height="1.2" fill="#a8dcff" opacity="0.59"/>
<rect x="539.5" y="166.8" width="1" height="1" fill="#a8dcff" opacity="0.73"/>
<rect x="438.7" y="260.7" width="1" height="1" fill="#cfeaff" opacity="0.90"/>
<rect x="454.0" y="283.2" width="1" height="1" fill="#cfeaff" opacity="0.85"/>
<rect x="487.6" y="298.8" width="1" height="1" fill="#a8dcff" opacity="0.95"/>
<rect x="513.4" y="161.6" width="1" height="1" fill="#cfeaff" opacity="0.70"/>
<rect x="491.9" y="162.7" width="1" height="1" fill="#a8dcff" opacity="0.65"/>
<rect x="482.1" y="165.0" width="1" height="1" fill="#cfeaff" opacity="0.66"/>
<rect x="572.4" y="265.5" width="1.2" height="1.2" fill="#a8dcff" opacity="0.57"/>
<rect x="575.5" y="201.8" width="1" height="1" fill="#ffffff" opacity="0.59"/>
<rect x="551.4" y="177.3" width="1.2" height="1.2" fill="#a8dcff" opacity="0.79"/>
<rect x="523.5" y="304.1" width="1.2" height="1.2" fill="#e8f4ff" opacity="0.83"/>
<rect x="557.4" y="182.8" width="1.2" height="1.2" fill="#a8dcff" opacity="0.83"/>
<rect x="436.8" y="215.9" width="1" height="1" fill="#ffffff" opacity="0.59"/>
<rect x="468.5" y="295.7" width="1.4" height="1.4" fill="#a8dcff" opacity="0.90"/>
<rect x="542.5" y="178.8" width="1.4" height="1.4" fill="#cfeaff" opacity="0.70"/>
<rect x="449.2" y="276.0" width="1.4" height="1.4" fill="#e8f4ff" opacity="0.71"/>
<rect x="560.9" y="276.2" width="1.4" height="1.4" fill="#cfeaff" opacity="0.89"/>
<rect x="438.0" y="233.0" width="1" height="1" fill="#e8f4ff" opacity="0.91"/>
<rect x="444.3" y="211.4" width="1" height="1" fill="#e8f4ff" opacity="0.78"/>
<rect x="557.4" y="185.9" width="1.2" height="1.2" fill="#a8dcff" opacity="0.57"/>
<rect x="531.6" y="294.3" width="1" height="1" fill="#ffffff" opacity="0.71"/>
<rect x="577.6" y="220.4" width="1" height="1" fill="#e8f4ff" opacity="0.73"/>
<rect x="435.5" y="240.1" width="1.4" height="1.4" fill="#e8f4ff" opacity="0.85"/>
<rect x="547.4" y="171.6" width="1" height="1" fill="#ffffff" opacity="0.65"/>
<rect x="433.9" y="248.6" width="1.4" height="1.4" fill="#a8dcff" opacity="0.56"/>
<rect x="439.6" y="259.7" width="1.2" height="1.2" fill="#a8dcff" opacity="0.57"/>
<rect x="471.3" y="297.8" width="1.2" height="1.2" fill="#e8f4ff" opacity="0.62"/>
<rect x="579.3" y="223.0" width="1" height="1" fill="#a8dcff" opacity="0.63"/>
<rect x="462.5" y="180.1" width="1.2" height="1.2" fill="#a8dcff" opacity="0.96"/>
<rect x="433.2" y="223.3" width="1" height="1" fill="#e8f4ff" opacity="0.59"/>
<rect x="580.8" y="220.7" width="1" height="1" fill="#ffffff" opacity="0.93"/>
<rect x="575.1" y="220.4" width="1" height="1" fill="#a8dcff" opacity="0.67"/>
<rect x="481.2" y="294.3" width="1.2" height="1.2" fill="#ffffff" opacity="0.68"/>
<rect x="573.9" y="254.0" width="1.4" height="1.4" fill="#ffffff" opacity="0.80"/>
<rect x="454.0" y="196.4" width="1" height="1" fill="#ffffff" opacity="0.57"/>
<rect x="451.3" y="195.3" width="1.2" height="1.2" fill="#e8f4ff" opacity="0.86"/>
<rect x="562.7" y="185.7" width="1.4" height="1.4" fill="#e8f4ff" opacity="0.84"/>
<rect x="477.5" y="173.6" width="1" height="1" fill="#e8f4ff" opacity="0.64"/>
<rect x="441.4" y="262.0" width="1.2" height="1.2" fill="#ffffff" opacity="0.71"/>
<rect x="471.9" y="292.6" width="1.2" height="1.2" fill="#e8f4ff" opacity="0.81"/>
<rect x="571.7" y="258.0" width="1.4" height="1.4" fill="#a8dcff" opacity="0.90"/>
<rect x="439.4" y="233.6" width="1.2" height="1.2" fill="#a8dcff" opacity="0.64"/>
<rect x="434.6" y="243.5" width="1.2" height="1.2" fill="#a8dcff" opacity="0.68"/>
<rect x="505.3" y="161.8" width="1" height="1" fill="#a8dcff" opacity="0.71"/>
<rect x="438.7" y="231.1" width="1.2" height="1.2" fill="#a8dcff" opacity="0.75"/>
<rect x="573.1" y="198.3" width="1" height="1" fill="#ffffff" opacity="0.92"/>
<rect x="439.7" y="259.2" width="1.4" height="1.4" fill="#e8f4ff" opacity="0.78"/>
<rect x="450.0" y="184.3" width="1" height="1" fill="#e8f4ff" opacity="0.77"/>
<rect x="580.4" y="228.2" width="1.4" height="1.4" fill="#cfeaff" opacity="0.70"/>
<rect x="538.1" y="297.9" width="1.2" height="1.2" fill="#e8f4ff" opacity="0.91"/>
<rect x="581.0" y="224.5" width="1.4" height="1.4" fill="#cfeaff" opacity="0.90"/>
<rect x="441.4" y="250.5" width="1.2" height="1.2" fill="#ffffff" opacity="0.57"/>
<rect x="488.1" y="161.7" width="1" height="1" fill="#e8f4ff" opacity="0.58"/>
<rect x="437.5" y="224.2" width="1.2" height="1.2" fill="#e8f4ff" opacity="0.99"/>
<rect x="438.8" y="227.6" width="1" height="1" fill="#e8f4ff" opacity="0.61"/>
<rect x="442.7" y="262.3" width="1.4" height="1.4" fill="#ffffff" opacity="0.93"/>
<rect x="464.7" y="172.8" width="1.4" height="1.4" fill="#e8f4ff" opacity="0.85"/>
<rect x="561.7" y="281.7" width="1.4" height="1.4" fill="#a8dcff" opacity="0.93"/>
<rect x="486.8" y="163.1" width="1.4" height="1.4" fill="#ffffff" opacity="0.64"/>
<rect x="578.1" y="245.5" width="1" height="1" fill="#ffffff" opacity="0.70"/>
<rect x="439.1" y="254.2" width="1" height="1" fill="#a8dcff" opacity="0.69"/>
<rect x="440.1" y="260.3" width="1.4" height="1.4" fill="#e8f4ff" opacity="0.81"/>
<rect x="563.6" y="189.1" width="1" height="1" fill="#e8f4ff" opacity="0.62"/>
<rect x="473.6" y="172.6" width="1.4" height="1.4" fill="#cfeaff" opacity="0.74"/>
<rect x="542.0" y="167.8" width="1" height="1" fill="#e8f4ff" opacity="0.56"/>
<rect x="499.4" y="159.1" width="1.4" height="1.4" fill="#cfeaff" opacity="0.63"/>
<rect x="438.1" y="224.8" width="1.4" height="1.4" fill="#cfeaff" opacity="0.66"/>
<rect x="439.1" y="254.1" width="1" height="1" fill="#a8dcff" opacity="0.93"/>
<rect x="522.2" y="160.4" width="1" height="1" fill="#e8f4ff" opacity="0.65"/>
<rect x="491.7" y="305.4" width="1" height="1" fill="#cfeaff" opacity="0.64"/>
<rect x="438.2" y="213.7" width="1" height="1" fill="#ffffff" opacity="0.95"/>
<rect x="502.0" y="159.5" width="1" height="1" fill="#a8dcff" opacity="0.60"/>
<rect x="552.6" y="175.0" width="1" height="1" fill="#a8dcff" opacity="0.67"/>
<rect x="474.3" y="167.5" width="1" height="1" fill="#cfeaff" opacity="0.72"/>
<rect x="433.3" y="225.2" width="1.2" height="1.2" fill="#ffffff" opacity="0.62"/>
<rect x="438.1" y="238.6" width="1" height="1" fill="#a8dcff" opacity="0.74"/>
<rect x="555.0" y="176.2" width="1.4" height="1.4" fill="#ffffff" opacity="0.55"/>
<rect x="488.3" y="299.9" width="1" height="1" fill="#cfeaff" opacity="0.68"/>
<rect x="546.3" y="294.8" width="1.4" height="1.4" fill="#cfeaff" opacity="0.84"/>
<rect x="441.6" y="266.6" width="1" height="1" fill="#a8dcff" opacity="0.77"/>
<rect x="472.4" y="289.2" width="1" height="1" fill="#ffffff" opacity="0.83"/>
<rect x="549.2" y="176.6" width="1" height="1" fill="#cfeaff" opacity="0.63"/>
<rect x="516.8" y="300.5" width="1.4" height="1.4" fill="#ffffff" opacity="0.87"/>
<rect x="562.1" y="187.9" width="1.2" height="1.2" fill="#cfeaff" opacity="0.62"/>
<rect x="494.5" y="160.7" width="1" height="1" fill="#e8f4ff" opacity="0.85"/>
<rect x="568.9" y="254.3" width="1" height="1" fill="#e8f4ff" opacity="0.59"/>
<rect x="580.0" y="214.7" width="1" height="1" fill="#e8f4ff" opacity="0.80"/>
<rect x="453.5" y="185.5" width="1" height="1" fill="#cfeaff" opacity="0.64"/>
<rect x="454.3" y="267.6" width="1" height="1" fill="#a8dcff" opacity="0.66"/>
<rect x="574.7" y="201.6" width="1" height="1" fill="#cfeaff" opacity="0.57"/>
<rect x="521.2" y="304.1" width="1" height="1" fill="#a8dcff" opacity="0.57"/>
<rect x="579.1" y="226.3" width="1.4" height="1.4" fill="#e8f4ff" opacity="0.97"/>
<rect x="576.2" y="250.4" width="1.2" height="1.2" fill="#e8f4ff" opacity="0.69"/>
<rect x="578.9" y="240.3" width="1.4" height="1.4" fill="#cfeaff" opacity="0.68"/>
<rect x="568.2" y="275.2" width="1.4" height="1.4" fill="#cfeaff" opacity="0.87"/>
<rect x="552.1" y="175.4" width="1" height="1" fill="#a8dcff" opacity="0.85"/>
<rect x="440.6" y="210.8" width="1" height="1" fill="#a8dcff" opacity="0.58"/>
<rect x="522.9" y="300.5" width="1.2" height="1.2" fill="#e8f4ff" opacity="0.61"/>
<rect x="550.4" y="283.0" width="1.4" height="1.4" fill="#e8f4ff" opacity="0.71"/>
<rect x="481.5" y="163.6" width="1" height="1" fill="#ffffff" opacity="0.86"/>
<rect x="455.0" y="186.9" width="1" height="1" fill="#cfeaff" opacity="0.81"/>
<rect x="503.5" y="158.1" width="1.2" height="1.2" fill="#e8f4ff" opacity="0.62"/>
<rect x="439.1" y="246.7" width="1" height="1" fill="#ffffff" opacity="0.76"/>
<rect x="565.1" y="187.3" width="1" height="1" fill="#ffffff" opacity="0.55"/>
<rect x="547.3" y="168.9" width="1" height="1" fill="#ffffff" opacity="0.71"/>
<rect x="563.8" y="198.0" width="1" height="1" fill="#ffffff" opacity="0.68"/>
<rect x="528.8" y="299.2" width="1" height="1" fill="#e8f4ff" opacity="0.93"/>
<rect x="484.1" y="299.9" width="1.4" height="1.4" fill="#a8dcff" opacity="0.64"/>
<rect x="435.5" y="213.6" width="1" height="1" fill="#cfeaff" opacity="0.64"/>
<rect x="515.8" y="303.7" width="1.4" height="1.4" fill="#ffffff" opacity="0.70"/>
<rect x="559.7" y="188.6" width="1.2" height="1.2" fill="#a8dcff" opacity="0.64"/>
<rect x="468.5" y="294.9" width="1" height="1" fill="#cfeaff" opacity="0.63"/>
<rect x="530.3" y="168.5" width="1.2" height="1.2" fill="#a8dcff" opacity="0.66"/>
<rect x="473.1" y="168.0" width="1.4" height="1.4" fill="#cfeaff" opacity="0.77"/>
<rect x="439.3" y="200.0" width="1" height="1" fill="#cfeaff" opacity="0.75"/>
<rect x="530.9" y="161.8" width="1.4" height="1.4" fill="#cfeaff" opacity="0.86"/>
<rect x="439.1" y="207.5" width="1.4" height="1.4" fill="#cfeaff" opacity="0.73"/>
<rect x="456.5" y="180.8" width="1" height="1" fill="#a8dcff" opacity="0.99"/>
<rect x="454.9" y="274.0" width="1" height="1" fill="#ffffff" opacity="0.93"/>
<rect x="537.5" y="171.5" width="1.2" height="1.2" fill="#ffffff" opacity="0.56"/>
<rect x="448.4" y="206.6" width="1" height="1" fill="#e8f4ff" opacity="0.91"/>
<rect x="562.8" y="274.8" width="1.2" height="1.2" fill="#ffffff" opacity="0.77"/>
<rect x="467.9" y="293.3" width="1" height="1" fill="#ffffff" opacity="0.77"/>
<rect x="572.7" y="223.5" width="1" height="1" fill="#e8f4ff" opacity="0.83"/>
<rect x="566.7" y="192.2" width="1" height="1" fill="#cfeaff" opacity="0.82"/>
<rect x="457.3" y="186.6" width="1" height="1" fill="#a8dcff" opacity="0.57"/>
<rect x="562.4" y="182.4" width="1.4" height="1.4" fill="#ffffff" opacity="0.94"/>
<rect x="450.6" y="188.3" width="1.4" height="1.4" fill="#ffffff" opacity="0.85"/>
<rect x="578.1" y="241.2" width="1.2" height="1.2" fill="#a8dcff" opacity="0.69"/>
<rect x="473.9" y="174.2" width="1" height="1" fill="#a8dcff" opacity="0.73"/>
<rect x="448.1" y="191.7" width="1" height="1" fill="#e8f4ff" opacity="0.94"/>
<rect x="441.5" y="249.4" width="1.4" height="1.4" fill="#e8f4ff" opacity="0.56"/>
<rect x="465.0" y="171.1" width="1" height="1" fill="#cfeaff" opacity="0.75"/>
<rect x="573.8" y="208.9" width="1.4" height="1.4" fill="#a8dcff" opacity="0.64"/>
<rect x="520.3" y="162.9" width="1.4" height="1.4" fill="#ffffff" opacity="0.58"/>
<rect x="530.4" y="301.2" width="1.4" height="1.4" fill="#e8f4ff" opacity="0.90"/>
<rect x="504.0" y="162.0" width="1.4" height="1.4" fill="#cfeaff" opacity="0.72"/>
<rect x="537.8" y="170.3" width="1.4" height="1.4" fill="#a8dcff" opacity="0.78"/>
<rect x="440.6" y="263.5" width="1" height="1" fill="#a8dcff" opacity="0.72"/>
<rect x="445.5" y="193.0" width="1" height="1" fill="#a8dcff" opacity="0.91"/>
<rect x="565.9" y="273.1" width="1.2" height="1.2" fill="#e8f4ff" opacity="0.58"/>
<rect x="445.9" y="188.8" width="1" height="1" fill="#e8f4ff" opacity="0.90"/>
<rect x="448.5" y="261.5" width="1" height="1" fill="#ffffff" opacity="0.75"/>
<rect x="492.0" y="302.1" width="1" height="1" fill="#cfeaff" opacity="0.99"/>
<rect x="563.7" y="186.1" width="1.2" height="1.2" fill="#e8f4ff" opacity="0.96"/>
<rect x="572.1" y="199.8" width="1.4" height="1.4" fill="#a8dcff" opacity="0.93"/>
<rect x="443.7" y="196.9" width="1.2" height="1.2" fill="#cfeaff" opacity="0.85"/>
<rect x="465.6" y="172.4" width="1" height="1" fill="#e8f4ff" opacity="0.81"/>
<rect x="551.4" y="173.8" width="1.2" height="1.2" fill="#a8dcff" opacity="0.85"/>
<rect x="502.3" y="159.7" width="1" height="1" fill="#cfeaff" opacity="0.75"/>
<rect x="453.6" y="280.9" width="1.4" height="1.4" fill="#ffffff" opacity="0.93"/>
<rect x="569.8" y="229.8" width="1.4" height="1.4" fill="#e8f4ff" opacity="0.98"/>
<rect x="576.8" y="215.6" width="1.4" height="1.4" fill="#cfeaff" opacity="0.81"/>
<rect x="493.9" y="158.3" width="1" height="1" fill="#ffffff" opacity="0.62"/>
<rect x="571.6" y="241.7" width="1" height="1" fill="#a8dcff" opacity="0.77"/>
<rect x="544.5" y="174.2" width="1.4" height="1.4" fill="#e8f4ff" opacity="0.73"/>
<rect x="509.2" y="159.5" width="1.4" height="1.4" fill="#e8f4ff" opacity="0.73"/>
<rect x="578.5" y="249.9" width="1" height="1" fill="#e8f4ff" opacity="0.80"/>
<rect x="442.5" y="255.0" width="1" height="1" fill="#e8f4ff" opacity="0.92"/>
<rect x="569.4" y="268.1" width="1" height="1" fill="#e8f4ff" opacity="0.93"/>
<rect x="568.8" y="261.0" width="1" height="1" fill="#cfeaff" opacity="0.72"/>
<rect x="474.5" y="294.2" width="1" height="1" fill="#ffffff" opacity="0.88"/>
<rect x="550.7" y="175.7" width="1.2" height="1.2" fill="#e8f4ff" opacity="0.87"/>
<rect x="552.5" y="290.5" width="1" height="1" fill="#a8dcff" opacity="0.96"/>
<rect x="440.1" y="263.9" width="1" height="1" fill="#cfeaff" opacity="0.83"/>
<rect x="507.8" y="158.9" width="1.2" height="1.2" fill="#e8f4ff" opacity="0.89"/>
<rect x="560.0" y="180.1" width="1" height="1" fill="#ffffff" opacity="0.91"/>
<rect x="522.6" y="159.1" width="1" height="1" fill="#ffffff" opacity="0.98"/>
<rect x="559.8" y="182.6" width="1.4" height="1.4" fill="#e8f4ff" opacity="0.80"/>
<rect x="478.9" y="166.0" width="1.2" height="1.2" fill="#ffffff" opacity="0.82"/>
<rect x="437.1" y="214.9" width="1.4" height="1.4" fill="#e8f4ff" opacity="0.56"/>
<rect x="465.9" y="170.0" width="1.2" height="1.2" fill="#cfeaff" opacity="0.89"/>
<rect x="491.4" y="302.5" width="1" height="1" fill="#ffffff" opacity="0.85"/>
<rect x="574.3" y="239.4" width="1" height="1" fill="#cfeaff" opacity="0.78"/>
<rect x="486.1" y="301.1" width="1.2" height="1.2" fill="#ffffff" opacity="0.90"/>
<rect x="434.6" y="245.5" width="1" height="1" fill="#a8dcff" opacity="0.99"/>
<rect x="551.1" y="182.3" width="1" height="1" fill="#e8f4ff" opacity="0.99"/>
<rect x="433.9" y="241.9" width="1" height="1" fill="#ffffff" opacity="0.90"/>
<rect x="450.8" y="273.5" width="1.4" height="1.4" fill="#cfeaff" opacity="0.69"/>
<rect x="449.0" y="186.5" width="1" height="1" fill="#e8f4ff" opacity="0.91"/>
<rect x="574.5" y="208.4" width="1" height="1" fill="#ffffff" opacity="0.96"/>
<rect x="528.9" y="164.2" width="1.2" height="1.2" fill="#cfeaff" opacity="0.72"/>
<rect x="577.9" y="209.5" width="1.4" height="1.4" fill="#ffffff" opacity="0.57"/>
<rect x="497.9" y="158.4" width="1" height="1" fill="#ffffff" opacity="0.88"/>
<rect x="460.6" y="282.4" width="1.2" height="1.2" fill="#a8dcff" opacity="0.78"/>
<rect x="578.4" y="212.0" width="1.2" height="1.2" fill="#cfeaff" opacity="0.90"/>
<rect x="457.5" y="179.9" width="1.2" height="1.2" fill="#e8f4ff" opacity="0.85"/>
<rect x="574.4" y="226.4" width="1" height="1" fill="#ffffff" opacity="0.92"/>
<rect x="463.1" y="289.2" width="1.2" height="1.2" fill="#e8f4ff" opacity="0.60"/>
<rect x="471.5" y="290.1" width="1" height="1" fill="#a8dcff" opacity="0.78"/>
<rect x="545.7" y="174.1" width="1" height="1" fill="#a8dcff" opacity="0.87"/>
<rect x="570.0" y="270.9" width="1" height="1" fill="#cfeaff" opacity="0.77"/>
<rect x="457.9" y="175.5" width="1.2" height="1.2" fill="#ffffff" opacity="0.90"/>
<rect x="521.3" y="293.1" width="1.2" height="1.2" fill="#a8dcff" opacity="0.67"/>
<rect x="552.7" y="181.4" width="1.2" height="1.2" fill="#cfeaff" opacity="0.94"/>
<rect x="439.0" y="253.0" width="1" height="1" fill="#ffffff" opacity="0.70"/>
<rect x="438.8" y="247.5" width="1" height="1" fill="#a8dcff" opacity="0.97"/>
<rect x="487.4" y="159.7" width="1.2" height="1.2" fill="#ffffff" opacity="0.57"/>
<rect x="559.6" y="283.5" width="1.4" height="1.4" fill="#a8dcff" opacity="0.71"/>
<rect x="497.8" y="170.4" width="1.4" height="1.4" fill="#ffffff" opacity="0.65"/>
<rect x="566.3" y="201.0" width="1.2" height="1.2" fill="#a8dcff" opacity="0.62"/>
<rect x="564.4" y="208.6" width="1.4" height="1.4" fill="#e8f4ff" opacity="0.82"/>
<rect x="446.3" y="195.9" width="1.2" height="1.2" fill="#cfeaff" opacity="0.89"/>
<rect x="545.5" y="293.9" width="1" height="1" fill="#cfeaff" opacity="0.80"/>
<rect x="453.7" y="274.8" width="1" height="1" fill="#a8dcff" opacity="0.80"/>
<rect x="465.9" y="176.6" width="1.4" height="1.4" fill="#e8f4ff" opacity="0.68"/>
<rect x="442.3" y="263.9" width="1" height="1" fill="#a8dcff" opacity="0.93"/>
<rect x="462.8" y="288.4" width="1.4" height="1.4" fill="#e8f4ff" opacity="0.99"/>
<rect x="562.1" y="269.1" width="1" height="1" fill="#a8dcff" opacity="0.78"/>
<rect x="539.4" y="297.3" width="1.2" height="1.2" fill="#a8dcff" opacity="0.90"/>
<rect x="433.6" y="220.8" width="1.2" height="1.2" fill="#cfeaff" opacity="0.88"/>
<rect x="449.3" y="203.6" width="1.2" height="1.2" fill="#a8dcff" opacity="0.81"/>
<rect x="475.4" y="165.5" width="1" height="1" fill="#a8dcff" opacity="0.86"/>
<rect x="467.5" y="171.5" width="1.2" height="1.2" fill="#cfeaff" opacity="0.87"/>
<rect x="517.8" y="302.5" width="1.4" height="1.4" fill="#ffffff" opacity="0.80"/>
<rect x="438.6" y="210.9" width="1" height="1" fill="#ffffff" opacity="0.58"/>
<rect x="528.1" y="160.5" width="1.2" height="1.2" fill="#cfeaff" opacity="0.82"/>
<rect x="577.4" y="228.7" width="1.2" height="1.2" fill="#e8f4ff" opacity="0.90"/>
<rect x="541.0" y="176.7" width="1" height="1" fill="#cfeaff" opacity="0.68"/>
<rect x="444.4" y="190.7" width="1.4" height="1.4" fill="#e8f4ff" opacity="0.70"/>
<rect x="542.4" y="170.7" width="1.2" height="1.2" fill="#ffffff" opacity="0.66"/>
<rect x="469.2" y="291.6" width="1.2" height="1.2" fill="#ffffff" opacity="0.76"/>
<rect x="529.0" y="165.7" width="1" height="1" fill="#a8dcff" opacity="0.91"/>
<rect x="434.8" y="241.1" width="1" height="1" fill="#cfeaff" opacity="0.72"/>
<rect x="443.1" y="210.1" width="1" height="1" fill="#ffffff" opacity="0.65"/>
<rect x="487.4" y="167.3" width="1" height="1" fill="#a8dcff" opacity="0.76"/>
<rect x="538.9" y="167.5" width="1.2" height="1.2" fill="#e8f4ff" opacity="0.67"/>
<rect x="577.3" y="257.6" width="1.2" height="1.2" fill="#ffffff" opacity="0.63"/>
<rect x="435.7" y="216.9" width="1.4" height="1.4" fill="#cfeaff" opacity="0.97"/>
<rect x="470.2" y="176.0" width="1" height="1" fill="#ffffff" opacity="0.94"/>
<rect x="573.2" y="261.3" width="1.4" height="1.4" fill="#cfeaff" opacity="0.99"/>
<rect x="479.0" y="171.2" width="1" height="1" fill="#cfeaff" opacity="0.81"/>
<rect x="535.6" y="165.9" width="1" height="1" fill="#a8dcff" opacity="0.70"/>
<rect x="578.1" y="217.1" width="1.2" height="1.2" fill="#e8f4ff" opacity="0.89"/>
<rect x="436.1" y="213.1" width="1.4" height="1.4" fill="#a8dcff" opacity="0.94"/>
<rect x="489.2" y="303.8" width="1.2" height="1.2" fill="#cfeaff" opacity="0.65"/>
<rect x="554.2" y="174.4" width="1.2" height="1.2" fill="#e8f4ff" opacity="0.69"/>
<rect x="505.8" y="159.4" width="1" height="1" fill="#a8dcff" opacity="0.72"/>
<rect x="437.5" y="213.2" width="1" height="1" fill="#a8dcff" opacity="0.79"/>
<rect x="566.9" y="251.5" width="1" height="1" fill="#cfeaff" opacity="0.91"/>
<rect x="564.2" y="193.6" width="1" height="1" fill="#a8dcff" opacity="0.57"/>
<rect x="459.6" y="285.5" width="1" height="1" fill="#e8f4ff" opacity="0.64"/>
<rect x="472.5" y="289.4" width="1" height="1" fill="#ffffff" opacity="0.90"/>
<rect x="439.7" y="211.7" width="1.4" height="1.4" fill="#ffffff" opacity="0.57"/>
<rect x="450.8" y="276.3" width="1" height="1" fill="#e8f4ff" opacity="0.87"/>
<rect x="560.6" y="277.5" width="1" height="1" fill="#cfeaff" opacity="0.98"/>
<rect x="550.5" y="171.1" width="1.4" height="1.4" fill="#a8dcff" opacity="0.79"/>
<rect x="464.4" y="293.1" width="1.4" height="1.4" fill="#cfeaff" opacity="0.87"/>
<rect x="554.0" y="184.6" width="1.4" height="1.4" fill="#ffffff" opacity="0.95"/>
<rect x="572.7" y="220.2" width="1.2" height="1.2" fill="#ffffff" opacity="0.88"/>
<rect x="578.5" y="242.8" width="1" height="1" fill="#e8f4ff" opacity="0.92"/>
<rect x="479.9" y="162.2" width="1" height="1" fill="#ffffff" opacity="0.94"/>
<rect x="457.8" y="183.0" width="1.4" height="1.4" fill="#ffffff" opacity="0.86"/>
<rect x="447.1" y="271.7" width="1" height="1" fill="#ffffff" opacity="0.61"/>
<rect x="465.0" y="170.4" width="1" height="1" fill="#a8dcff" opacity="0.81"/>
<rect x="454.8" y="181.8" width="1.4" height="1.4" fill="#e8f4ff" opacity="0.86"/>
<rect x="459.9" y="176.4" width="1" height="1" fill="#e8f4ff" opacity="0.78"/>
<rect x="463.3" y="175.4" width="1.4" height="1.4" fill="#ffffff" opacity="0.77"/>
<rect x="537.4" y="296.7" width="1" height="1" fill="#ffffff" opacity="0.85"/>
<rect x="558.9" y="180.5" width="1" height="1" fill="#e8f4ff" opacity="0.69"/>
<rect x="527.4" y="167.0" width="1" height="1" fill="#e8f4ff" opacity="0.73"/>
<rect x="578.0" y="219.4" width="1" height="1" fill="#a8dcff" opacity="0.78"/>
<rect x="551.6" y="175.0" width="1.2" height="1.2" fill="#e8f4ff" opacity="0.60"/>
<rect x="441.3" y="212.1" width="1.2" height="1.2" fill="#ffffff" opacity="0.94"/>
<rect x="570.9" y="225.5" width="1" height="1" fill="#e8f4ff" opacity="0.82"/>
<rect x="565.0" y="192.3" width="1" height="1" fill="#ffffff" opacity="0.92"/>
<rect x="468.1" y="169.0" width="1.2" height="1.2" fill="#ffffff" opacity="0.92"/>
<rect x="454.2" y="182.3" width="1" height="1" fill="#ffffff" opacity="0.69"/>
<rect x="494.9" y="165.1" width="1" height="1" fill="#a8dcff" opacity="0.91"/>
<rect x="579.4" y="240.1" width="1" height="1" fill="#e8f4ff" opacity="0.69"/>
<rect x="451.1" y="189.3" width="1" height="1" fill="#ffffff" opacity="0.75"/>
<rect x="550.0" y="172.7" width="1.4" height="1.4" fill="#e8f4ff" opacity="0.65"/>
<rect x="449.6" y="271.8" width="1.4" height="1.4" fill="#ffffff" opacity="0.61"/>
<rect x="464.9" y="286.0" width="1" height="1" fill="#ffffff" opacity="0.78"/>
<rect x="572.2" y="268.3" width="1.4" height="1.4" fill="#cfeaff" opacity="0.86"/>
<rect x="571.5" y="197.2" width="1.4" height="1.4" fill="#ffffff" opacity="0.86"/>
<rect x="445.4" y="195.8" width="1" height="1" fill="#ffffff" opacity="0.94"/>
<rect x="449.1" y="188.9" width="1" height="1" fill="#ffffff" opacity="0.82"/>
<rect x="446.1" y="192.3" width="1.2" height="1.2" fill="#a8dcff" opacity="0.88"/>
<rect x="489.4" y="298.6" width="1" height="1" fill="#ffffff" opacity="0.78"/>
<rect x="576.3" y="238.3" width="1.2" height="1.2" fill="#ffffff" opacity="0.66"/>
<rect x="517.8" y="162.4" width="1.2" height="1.2" fill="#ffffff" opacity="0.80"/>
<rect x="501.3" y="300.0" width="1.4" height="1.4" fill="#a8dcff" opacity="0.95"/>
<rect x="435.9" y="222.5" width="1.2" height="1.2" fill="#a8dcff" opacity="0.68"/>
<rect x="488.8" y="172.6" width="1" height="1" fill="#cfeaff" opacity="0.86"/>
<rect x="479.4" y="168.6" width="1" height="1" fill="#ffffff" opacity="0.99"/>
<rect x="434.1" y="231.6" width="1.2" height="1.2" fill="#e8f4ff" opacity="0.57"/>
<rect x="438.2" y="261.2" width="1.4" height="1.4" fill="#cfeaff" opacity="0.63"/>
<rect x="473.9" y="296.0" width="1" height="1" fill="#cfeaff" opacity="0.77"/>
<rect x="439.4" y="252.0" width="1.4" height="1.4" fill="#ffffff" opacity="0.92"/>
<rect x="575.2" y="240.8" width="1.2" height="1.2" fill="#cfeaff" opacity="0.63"/>
<rect x="571.9" y="263.9" width="1.2" height="1.2" fill="#e8f4ff" opacity="0.82"/>
<rect x="559.6" y="284.4" width="1.4" height="1.4" fill="#e8f4ff" opacity="0.67"/>
<rect x="549.9" y="171.6" width="1.2" height="1.2" fill="#e8f4ff" opacity="0.55"/>
<rect x="454.5" y="183.2" width="1" height="1" fill="#e8f4ff" opacity="0.94"/>
<rect x="486.9" y="162.1" width="1.4" height="1.4" fill="#cfeaff" opacity="0.76"/>
<rect x="518.8" y="305.6" width="1.2" height="1.2" fill="#ffffff" opacity="0.84"/>
<rect x="450.2" y="193.7" width="1" height="1" fill="#e8f4ff" opacity="0.97"/>
<rect x="505.5" y="161.5" width="1" height="1" fill="#cfeaff" opacity="0.63"/>
<rect x="437.8" y="203.7" width="1" height="1" fill="#e8f4ff" opacity="0.65"/>
<rect x="437.9" y="245.1" width="1" height="1" fill="#e8f4ff" opacity="0.59"/>
<rect x="515.9" y="303.9" width="1" height="1" fill="#e8f4ff" opacity="0.66"/>
<rect x="453.3" y="180.6" width="1.2" height="1.2" fill="#ffffff" opacity="0.77"/>
<rect x="539.4" y="299.1" width="1.4" height="1.4" fill="#e8f4ff" opacity="0.94"/>
<rect x="566.4" y="188.7" width="1" height="1" fill="#e8f4ff" opacity="0.99"/>
<rect x="551.2" y="176.3" width="1" height="1" fill="#cfeaff" opacity="0.78"/>
<rect x="466.3" y="169.6" width="1.4" height="1.4" fill="#a8dcff" opacity="0.87"/>
<rect x="536.7" y="173.1" width="1.4" height="1.4" fill="#ffffff" opacity="0.84"/>
<rect x="580.0" y="218.2" width="1.2" height="1.2" fill="#e8f4ff" opacity="0.92"/>
<rect x="507.6" y="162.7" width="1.4" height="1.4" fill="#a8dcff" opacity="0.98"/>
<rect x="577.5" y="232.0" width="1.2" height="1.2" fill="#a8dcff" opacity="0.71"/>
<rect x="456.1" y="180.2" width="1" height="1" fill="#ffffff" opacity="0.75"/>
<rect x="489.3" y="165.7" width="1.4" height="1.4" fill="#ffffff" opacity="0.78"/>
<rect x="445.7" y="206.7" width="1.2" height="1.2" fill="#e8f4ff" opacity="0.85"/>
<rect x="513.5" y="158.0" width="1" height="1" fill="#a8dcff" opacity="0.79"/>
<rect x="433.8" y="238.5" width="1" height="1" fill="#ffffff" opacity="0.99"/>
<rect x="519.6" y="162.3" width="1" height="1" fill="#e8f4ff" opacity="0.96"/>
<rect x="524.8" y="162.4" width="1" height="1" fill="#a8dcff" opacity="0.98"/>
<rect x="559.9" y="201.7" width="1" height="1" fill="#cfeaff" opacity="0.60"/>
<rect x="436.8" y="247.3" width="1" height="1" fill="#e8f4ff" opacity="0.82"/>
<rect x="518.6" y="296.9" width="1.2" height="1.2" fill="#e8f4ff" opacity="0.64"/>
<rect x="526.9" y="294.9" width="1.2" height="1.2" fill="#e8f4ff" opacity="0.98"/>
<rect x="520.8" y="300.3" width="1" height="1" fill="#ffffff" opacity="0.62"/>
<rect x="516.9" y="161.3" width="1.4" height="1.4" fill="#a8dcff" opacity="0.74"/>
<rect x="561.2" y="185.4" width="1" height="1" fill="#cfeaff" opacity="0.71"/>
<rect x="573.1" y="197.5" width="1" height="1" fill="#ffffff" opacity="0.86"/>
<rect x="573.6" y="257.0" width="1.4" height="1.4" fill="#e8f4ff" opacity="0.92"/>
<rect x="440.2" y="250.9" width="1.4" height="1.4" fill="#cfeaff" opacity="0.63"/>
<rect x="568.9" y="270.0" width="1.4" height="1.4" fill="#ffffff" opacity="0.74"/>
<rect x="440.2" y="263.2" width="1" height="1" fill="#cfeaff" opacity="1.00"/>
<rect x="568.7" y="196.7" width="1.4" height="1.4" fill="#a8dcff" opacity="0.78"/>
<rect x="435.2" y="219.2" width="1" height="1" fill="#ffffff" opacity="0.70"/>
<rect x="577.5" y="234.6" width="1" height="1" fill="#cfeaff" opacity="0.77"/>
<rect x="458.4" y="182.8" width="1.2" height="1.2" fill="#cfeaff" opacity="0.77"/>
<rect x="505.1" y="167.4" width="1" height="1" fill="#cfeaff" opacity="0.96"/>
<rect x="463.9" y="290.7" width="1.4" height="1.4" fill="#ffffff" opacity="0.76"/>
<rect x="448.0" y="276.3" width="1.4" height="1.4" fill="#cfeaff" opacity="0.65"/>
<rect x="436.4" y="214.8" width="1" height="1" fill="#ffffff" opacity="0.84"/>
<rect x="499.2" y="303.7" width="1" height="1" fill="#e8f4ff" opacity="0.58"/>
<rect x="457.1" y="183.5" width="1" height="1" fill="#e8f4ff" opacity="0.56"/>
<rect x="439.8" y="253.2" width="1" height="1" fill="#ffffff" opacity="0.87"/>
<rect x="539.3" y="296.4" width="1" height="1" fill="#e8f4ff" opacity="0.79"/>
<rect x="484.3" y="162.0" width="1.4" height="1.4" fill="#ffffff" opacity="0.75"/>
<rect x="455.7" y="281.5" width="1" height="1" fill="#a8dcff" opacity="0.94"/>
<rect x="570.9" y="195.7" width="1" height="1" fill="#a8dcff" opacity="0.86"/>
<rect x="452.3" y="281.8" width="1" height="1" fill="#a8dcff" opacity="0.93"/>
<rect x="558.4" y="185.6" width="1" height="1" fill="#e8f4ff" opacity="0.71"/>
<rect x="439.7" y="202.4" width="1.2" height="1.2" fill="#a8dcff" opacity="0.72"/>
<rect x="518.2" y="167.8" width="1" height="1" fill="#ffffff" opacity="0.85"/>
<rect x="448.9" y="274.8" width="1" height="1" fill="#ffffff" opacity="0.95"/>
<rect x="568.8" y="265.3" width="1.2" height="1.2" fill="#cfeaff" opacity="0.74"/>
<rect x="501.3" y="162.9" width="1" height="1" fill="#cfeaff" opacity="0.80"/>
<rect x="568.3" y="251.3" width="1.2" height="1.2" fill="#cfeaff" opacity="0.97"/>
<rect x="522.8" y="161.7" width="1.4" height="1.4" fill="#cfeaff" opacity="0.81"/>
<rect x="569.1" y="249.5" width="1" height="1" fill="#cfeaff" opacity="0.98"/>
<rect x="572.8" y="206.4" width="1.2" height="1.2" fill="#e8f4ff" opacity="0.70"/>
<rect x="510.3" y="303.1" width="1.4" height="1.4" fill="#cfeaff" opacity="0.69"/>
<rect x="441.0" y="239.7" width="1" height="1" fill="#cfeaff" opacity="0.77"/>
<rect x="433.6" y="245.8" width="1" height="1" fill="#a8dcff" opacity="0.80"/>
<rect x="539.5" y="167.0" width="1.4" height="1.4" fill="#cfeaff" opacity="0.69"/>
<rect x="578.8" y="225.4" width="1" height="1" fill="#a8dcff" opacity="0.69"/>
<rect x="447.9" y="190.5" width="1.2" height="1.2" fill="#e8f4ff" opacity="0.86"/>
<rect x="451.3" y="276.4" width="1.2" height="1.2" fill="#ffffff" opacity="0.81"/>
<rect x="559.2" y="178.5" width="1" height="1" fill="#ffffff" opacity="0.71"/>
<rect x="576.4" y="210.6" width="1.2" height="1.2" fill="#a8dcff" opacity="0.59"/>
<rect x="457.6" y="178.4" width="1" height="1" fill="#e8f4ff" opacity="0.61"/>
<rect x="491.9" y="159.2" width="1.4" height="1.4" fill="#e8f4ff" opacity="0.84"/>
<rect x="559.7" y="278.4" width="1" height="1" fill="#ffffff" opacity="0.87"/>
<rect x="517.6" y="161.7" width="1.4" height="1.4" fill="#e8f4ff" opacity="0.61"/>
<rect x="440.8" y="264.7" width="1" height="1" fill="#cfeaff" opacity="0.71"/>
<rect x="462.1" y="179.5" width="1.2" height="1.2" fill="#e8f4ff" opacity="0.94"/>
<rect x="461.3" y="284.5" width="1" height="1" fill="#cfeaff" opacity="0.78"/>
<rect x="438.1" y="203.9" width="1.2" height="1.2" fill="#e8f4ff" opacity="0.63"/>
<rect x="449.3" y="186.9" width="1" height="1" fill="#e8f4ff" opacity="0.79"/>
<rect x="488.5" y="162.2" width="1" height="1" fill="#a8dcff" opacity="0.56"/>
<rect x="546.0" y="291.3" width="1.4" height="1.4" fill="#a8dcff" opacity="0.71"/>
<rect x="440.5" y="203.0" width="1.2" height="1.2" fill="#a8dcff" opacity="0.81"/>
<rect x="436.5" y="254.2" width="1" height="1" fill="#a8dcff" opacity="0.99"/>
<rect x="483.5" y="302.3" width="1" height="1" fill="#cfeaff" opacity="0.82"/>
<rect x="526.4" y="165.4" width="1" height="1" fill="#a8dcff" opacity="0.97"/>
<rect x="581.4" y="232.0" width="1.2" height="1.2" fill="#cfeaff" opacity="0.79"/>
<rect x="435.6" y="229.4" width="1.4" height="1.4" fill="#e8f4ff" opacity="0.63"/>
<rect x="457.1" y="286.1" width="1.2" height="1.2" fill="#e8f4ff" opacity="0.73"/>
<rect x="573.9" y="221.9" width="1" height="1" fill="#a8dcff" opacity="0.98"/>
<rect x="467.6" y="293.4" width="1.4" height="1.4" fill="#cfeaff" opacity="0.72"/>
<rect x="498.1" y="169.6" width="1" height="1" fill="#e8f4ff" opacity="0.65"/>
<rect x="572.5" y="262.8" width="1.4" height="1.4" fill="#e8f4ff" opacity="0.61"/>
<rect x="530.0" y="297.5" width="1.2" height="1.2" fill="#cfeaff" opacity="1.00"/>
<rect x="570.6" y="267.8" width="1.4" height="1.4" fill="#cfeaff" opacity="0.71"/>
<rect x="565.9" y="193.3" width="1" height="1" fill="#ffffff" opacity="0.89"/>
<rect x="450.6" y="280.1" width="1.4" height="1.4" fill="#a8dcff" opacity="0.70"/>
<rect x="566.1" y="275.4" width="1" height="1" fill="#ffffff" opacity="0.75"/>
<rect x="575.1" y="263.5" width="1" height="1" fill="#e8f4ff" opacity="0.57"/>
<rect x="439.7" y="203.5" width="1" height="1" fill="#e8f4ff" opacity="0.97"/>
<rect x="443.4" y="218.8" width="1.2" height="1.2" fill="#ffffff" opacity="0.93"/>
<rect x="439.2" y="211.9" width="1.4" height="1.4" fill="#ffffff" opacity="0.87"/>
<rect x="528.9" y="300.6" width="1" height="1" fill="#a8dcff" opacity="0.70"/>
<rect x="570.3" y="267.8" width="1.2" height="1.2" fill="#ffffff" opacity="0.60"/>
<rect x="545.6" y="169.2" width="1" height="1" fill="#ffffff" opacity="0.71"/>
<rect x="467.9" y="172.3" width="1" height="1" fill="#cfeaff" opacity="0.88"/>
<rect x="438.7" y="221.0" width="1.2" height="1.2" fill="#a8dcff" opacity="0.64"/>
<rect x="579.5" y="224.4" width="1" height="1" fill="#e8f4ff" opacity="0.97"/>
<rect x="535.7" y="298.0" width="1.4" height="1.4" fill="#cfeaff" opacity="0.93"/>
<rect x="564.1" y="196.8" width="1" height="1" fill="#a8dcff" opacity="0.57"/>
<rect x="444.2" y="205.8" width="1.2" height="1.2" fill="#cfeaff" opacity="0.67"/>
<rect x="480.4" y="169.6" width="1" height="1" fill="#cfeaff" opacity="0.88"/>
<rect x="490.6" y="305.0" width="1" height="1" fill="#cfeaff" opacity="0.84"/>
<rect x="442.7" y="250.1" width="1" height="1" fill="#e8f4ff" opacity="0.67"/>
<rect x="519.5" y="298.1" width="1" height="1" fill="#cfeaff" opacity="0.77"/>
<rect x="450.8" y="189.3" width="1.2" height="1.2" fill="#a8dcff" opacity="0.55"/>
<rect x="432.7" y="229.2" width="1" height="1" fill="#ffffff" opacity="0.79"/>
<rect x="513.9" y="301.4" width="1" height="1" fill="#ffffff" opacity="0.66"/>
<rect x="435.2" y="248.0" width="1.4" height="1.4" fill="#a8dcff" opacity="0.72"/>
<rect x="517.8" y="296.9" width="1.4" height="1.4" fill="#e8f4ff" opacity="0.75"/>
<rect x="503.9" y="305.2" width="1" height="1" fill="#e8f4ff" opacity="0.98"/>
<rect x="442.6" y="270.1" width="1.2" height="1.2" fill="#ffffff" opacity="0.88"/>
<rect x="458.9" y="289.3" width="1" height="1" fill="#a8dcff" opacity="0.71"/>
<rect x="466.1" y="290.4" width="1" height="1" fill="#ffffff" opacity="0.64"/>
<rect x="506.7" y="162.3" width="1" height="1" fill="#e8f4ff" opacity="0.64"/>
<rect x="581.0" y="233.3" width="1.4" height="1.4" fill="#e8f4ff" opacity="0.88"/>
<rect x="513.4" y="172.1" width="1.4" height="1.4" fill="#e8f4ff" opacity="0.70"/>
<rect x="449.0" y="276.4" width="1.4" height="1.4" fill="#cfeaff" opacity="0.57"/>
<rect x="456.5" y="177.8" width="1.4" height="1.4" fill="#a8dcff" opacity="0.74"/>
<rect x="445.1" y="264.1" width="1" height="1" fill="#cfeaff" opacity="0.91"/>
<rect x="443.1" y="195.0" width="1" height="1" fill="#e8f4ff" opacity="0.94"/>
<rect x="445.3" y="197.7" width="1" height="1" fill="#e8f4ff" opacity="0.62"/>
<rect x="560.5" y="273.8" width="1.4" height="1.4" fill="#cfeaff" opacity="0.93"/>
<rect x="531.9" y="295.9" width="1.2" height="1.2" fill="#ffffff" opacity="0.63"/>
<rect x="462.1" y="288.9" width="1.2" height="1.2" fill="#e8f4ff" opacity="0.78"/>
<rect x="574.4" y="218.6" width="1" height="1" fill="#cfeaff" opacity="0.97"/>
<rect x="565.7" y="264.5" width="1" height="1" fill="#e8f4ff" opacity="0.79"/>
<rect x="576.3" y="222.5" width="1.4" height="1.4" fill="#e8f4ff" opacity="0.88"/>
<rect x="581.2" y="240.2" width="1" height="1" fill="#e8f4ff" opacity="0.96"/>
<rect x="552.1" y="289.0" width="1" height="1" fill="#a8dcff" opacity="0.88"/>
<rect x="579.7" y="225.1" width="1" height="1" fill="#a8dcff" opacity="0.85"/>
<rect x="444.8" y="254.7" width="1.4" height="1.4" fill="#ffffff" opacity="0.93"/>
<rect x="562.2" y="184.8" width="1" height="1" fill="#a8dcff" opacity="0.57"/>
<rect x="565.5" y="274.7" width="1" height="1" fill="#a8dcff" opacity="0.55"/>
<rect x="491.9" y="303.7" width="1.2" height="1.2" fill="#e8f4ff" opacity="0.61"/>
<rect x="566.0" y="258.0" width="1.2" height="1.2" fill="#a8dcff" opacity="0.70"/>
<rect x="438.3" y="258.4" width="1" height="1" fill="#a8dcff" opacity="0.81"/>
<rect x="447.9" y="273.3" width="1.2" height="1.2" fill="#cfeaff" opacity="0.75"/>
<rect x="438.6" y="207.7" width="1.2" height="1.2" fill="#cfeaff" opacity="0.78"/>
<rect x="471.9" y="293.7" width="1" height="1" fill="#e8f4ff" opacity="0.96"/>
<rect x="562.1" y="279.9" width="1.2" height="1.2" fill="#cfeaff" opacity="0.76"/>
<rect x="464.5" y="291.2" width="1.2" height="1.2" fill="#ffffff" opacity="0.69"/>
<rect x="435.0" y="246.8" width="1" height="1" fill="#ffffff" opacity="0.62"/>
<rect x="444.4" y="260.2" width="1.2" height="1.2" fill="#a8dcff" opacity="0.93"/>
<rect x="574.5" y="201.0" width="1.4" height="1.4" fill="#e8f4ff" opacity="0.99"/>
<rect x="527.3" y="164.4" width="1" height="1" fill="#cfeaff" opacity="0.94"/>
<rect x="435.2" y="228.2" width="1" height="1" fill="#ffffff" opacity="0.73"/>
<rect x="461.7" y="287.5" width="1" height="1" fill="#ffffff" opacity="0.94"/>
<rect x="453.0" y="185.0" width="1" height="1" fill="#a8dcff" opacity="0.94"/>
<rect x="433.5" y="238.8" width="1.2" height="1.2" fill="#ffffff" opacity="0.73"/>
<rect x="440.7" y="234.3" width="1" height="1" fill="#ffffff" opacity="0.90"/>
<rect x="531.5" y="162.0" width="1.2" height="1.2" fill="#e8f4ff" opacity="0.61"/>
<rect x="444.5" y="267.4" width="1.2" height="1.2" fill="#ffffff" opacity="0.55"/>
<rect x="458.5" y="286.9" width="1" height="1" fill="#ffffff" opacity="0.63"/>
<rect x="555.2" y="179.3" width="1.4" height="1.4" fill="#cfeaff" opacity="0.90"/>
<rect x="454.6" y="187.1" width="1.4" height="1.4" fill="#e8f4ff" opacity="0.94"/>
<rect x="434.1" y="230.5" width="1" height="1" fill="#ffffff" opacity="0.81"/>
<rect x="466.7" y="289.9" width="1.4" height="1.4" fill="#cfeaff" opacity="0.96"/>
<rect x="463.2" y="176.3" width="1.2" height="1.2" fill="#e8f4ff" opacity="0.99"/>
<rect x="447.3" y="272.1" width="1" height="1" fill="#e8f4ff" opacity="0.76"/>
<rect x="454.9" y="185.4" width="1" height="1" fill="#ffffff" opacity="0.85"/>
<rect x="458.4" y="279.4" width="1" height="1" fill="#a8dcff" opacity="0.85"/>
<rect x="456.3" y="182.5" width="1.4" height="1.4" fill="#ffffff" opacity="0.74"/>
<rect x="565.9" y="277.6" width="1.4" height="1.4" fill="#e8f4ff" opacity="0.67"/>
<rect x="580.0" y="240.7" width="1" height="1" fill="#a8dcff" opacity="0.66"/>
<rect x="438.3" y="211.0" width="1.4" height="1.4" fill="#e8f4ff" opacity="0.84"/>
<rect x="548.5" y="293.2" width="1.4" height="1.4" fill="#a8dcff" opacity="0.67"/>
<rect x="442.6" y="220.1" width="1" height="1" fill="#ffffff" opacity="0.57"/>
<rect x="571.5" y="255.1" width="1.4" height="1.4" fill="#ffffff" opacity="0.57"/>
<rect x="579.2" y="237.6" width="1" height="1" fill="#e8f4ff" opacity="0.68"/>
<rect x="518.4" y="302.9" width="1.4" height="1.4" fill="#e8f4ff" opacity="0.72"/>
<rect x="435.4" y="229.7" width="1.2" height="1.2" fill="#ffffff" opacity="0.92"/>
<rect x="455.5" y="192.2" width="1" height="1" fill="#e8f4ff" opacity="0.80"/>
<rect x="482.5" y="167.5" width="1" height="1" fill="#ffffff" opacity="0.89"/>
<rect x="561.1" y="184.4" width="1.2" height="1.2" fill="#ffffff" opacity="0.56"/>
<rect x="536.4" y="165.0" width="1.2" height="1.2" fill="#ffffff" opacity="0.80"/>
<rect x="456.6" y="285.0" width="1.4" height="1.4" fill="#e8f4ff" opacity="0.77"/>
<rect x="530.2" y="294.7" width="1.2" height="1.2" fill="#e8f4ff" opacity="0.72"/>
<rect x="526.2" y="161.7" width="1.2" height="1.2" fill="#cfeaff" opacity="0.79"/>
<rect x="455.6" y="280.1" width="1" height="1" fill="#a8dcff" opacity="0.76"/>
<rect x="575.3" y="203.6" width="1" height="1" fill="#e8f4ff" opacity="0.79"/>
<rect x="534.6" y="290.3" width="1" height="1" fill="#a8dcff" opacity="0.95"/>
<rect x="475.9" y="166.0" width="1.2" height="1.2" fill="#a8dcff" opacity="0.89"/>
<rect x="433.8" y="218.7" width="1.2" height="1.2" fill="#ffffff" opacity="0.62"/>
<rect x="439.5" y="256.3" width="1.2" height="1.2" fill="#e8f4ff" opacity="0.65"/>
<rect x="525.5" y="160.1" width="1" height="1" fill="#ffffff" opacity="0.98"/>
<rect x="533.7" y="164.5" width="1.2" height="1.2" fill="#cfeaff" opacity="0.65"/>
<rect x="435.6" y="237.0" width="1" height="1" fill="#e8f4ff" opacity="0.88"/>
<rect x="445.0" y="243.5" width="1" height="1" fill="#a8dcff" opacity="0.71"/>
<rect x="433.7" y="228.7" width="1" height="1" fill="#e8f4ff" opacity="0.99"/>
<rect x="576.2" y="211.0" width="1.4" height="1.4" fill="#ffffff" opacity="0.58"/>
<rect x="577.5" y="249.2" width="1.2" height="1.2" fill="#e8f4ff" opacity="0.88"/>
<rect x="562.8" y="274.3" width="1" height="1" fill="#cfeaff" opacity="0.99"/>
<rect x="531.8" y="166.2" width="1.4" height="1.4" fill="#cfeaff" opacity="0.84"/>
<rect x="575.1" y="249.1" width="1.4" height="1.4" fill="#cfeaff" opacity="0.82"/>
<rect x="469.5" y="175.0" width="1" height="1" fill="#ffffff" opacity="0.81"/>
<rect x="532.0" y="162.2" width="1" height="1" fill="#ffffff" opacity="0.66"/>
<rect x="450.0" y="185.4" width="1" height="1" fill="#a8dcff" opacity="0.57"/>
<rect x="562.1" y="185.2" width="1.4" height="1.4" fill="#cfeaff" opacity="0.95"/>
<rect x="521.8" y="300.4" width="1.2" height="1.2" fill="#cfeaff" opacity="0.79"/>
<rect x="492.0" y="304.1" width="1" height="1" fill="#a8dcff" opacity="0.87"/>
<rect x="454.1" y="186.7" width="1.4" height="1.4" fill="#cfeaff" opacity="0.55"/>
<rect x="450.8" y="273.0" width="1.4" height="1.4" fill="#cfeaff" opacity="0.91"/>
<rect x="556.6" y="179.1" width="1" height="1" fill="#e8f4ff" opacity="0.74"/>
<rect x="505.2" y="157.1" width="1" height="1" fill="#cfeaff" opacity="0.71"/>
<rect x="439.7" y="208.9" width="1.2" height="1.2" fill="#cfeaff" opacity="0.90"/>
<rect x="434.8" y="250.7" width="1.2" height="1.2" fill="#a8dcff" opacity="0.98"/>
<rect x="572.9" y="199.0" width="1.4" height="1.4" fill="#e8f4ff" opacity="0.97"/>
<rect x="578.7" y="250.2" width="1.2" height="1.2" fill="#ffffff" opacity="0.81"/>
<rect x="449.7" y="272.9" width="1.2" height="1.2" fill="#a8dcff" opacity="0.80"/>
<rect x="437.6" y="249.7" width="1" height="1" fill="#a8dcff" opacity="0.85"/>
<rect x="477.9" y="300.0" width="1" height="1" fill="#a8dcff" opacity="0.85"/>
<rect x="567.7" y="226.9" width="1" height="1" fill="#ffffff" opacity="0.61"/>
<rect x="480.2" y="300.5" width="1" height="1" fill="#ffffff" opacity="0.79"/>
<rect x="543.5" y="170.1" width="1" height="1" fill="#e8f4ff" opacity="0.85"/>
<rect x="530.1" y="162.2" width="1" height="1" fill="#ffffff" opacity="0.61"/>
<rect x="441.3" y="246.3" width="1" height="1" fill="#e8f4ff" opacity="0.94"/>
<rect x="520.1" y="166.5" width="1.2" height="1.2" fill="#cfeaff" opacity="0.59"/>
<rect x="441.4" y="214.6" width="1.2" height="1.2" fill="#ffffff" opacity="0.58"/>
<rect x="437.3" y="214.3" width="1.4" height="1.4" fill="#cfeaff" opacity="0.85"/>
<rect x="454.3" y="181.6" width="1.2" height="1.2" fill="#ffffff" opacity="0.91"/>
<rect x="461.2" y="175.5" width="1" height="1" fill="#e8f4ff" opacity="0.90"/>
<rect x="504.4" y="305.8" width="1" height="1" fill="#ffffff" opacity="0.91"/>
<rect x="460.5" y="287.7" width="1.2" height="1.2" fill="#e8f4ff" opacity="0.60"/>
<rect x="559.5" y="183.3" width="1" height="1" fill="#cfeaff" opacity="0.78"/>
<rect x="491.6" y="302.2" width="1.2" height="1.2" fill="#ffffff" opacity="0.63"/>
<rect x="563.1" y="188.5" width="1" height="1" fill="#ffffff" opacity="0.57"/>
<rect x="438.4" y="214.7" width="1.2" height="1.2" fill="#ffffff" opacity="1.00"/>
<rect x="448.4" y="194.7" width="1.4" height="1.4" fill="#cfeaff" opacity="0.76"/>
<rect x="527.7" y="165.4" width="1" height="1" fill="#cfeaff" opacity="0.74"/>
<rect x="539.0" y="294.7" width="1" height="1" fill="#cfeaff" opacity="0.88"/>
<rect x="563.7" y="187.2" width="1" height="1" fill="#a8dcff" opacity="0.86"/>
<rect x="545.6" y="168.3" width="1.4" height="1.4" fill="#cfeaff" opacity="0.70"/>
<rect x="432.9" y="239.0" width="1.4" height="1.4" fill="#cfeaff" opacity="0.97"/>
<rect x="521.2" y="299.0" width="1" height="1" fill="#cfeaff" opacity="0.97"/>
<rect x="457.0" y="184.5" width="1" height="1" fill="#ffffff" opacity="0.72"/>
<rect x="477.3" y="288.8" width="1.4" height="1.4" fill="#cfeaff" opacity="0.80"/>
<rect x="483.4" y="294.8" width="1.2" height="1.2" fill="#a8dcff" opacity="0.74"/>
<rect x="528.0" y="303.5" width="1.2" height="1.2" fill="#cfeaff" opacity="0.78"/>
<rect x="536.3" y="298.9" width="1.4" height="1.4" fill="#e8f4ff" opacity="0.86"/>
<rect x="561.4" y="281.6" width="1" height="1" fill="#ffffff" opacity="0.96"/>
<rect x="568.5" y="206.7" width="1" height="1" fill="#ffffff" opacity="0.90"/>
<rect x="563.7" y="277.1" width="1" height="1" fill="#cfeaff" opacity="0.71"/>
<rect x="440.6" y="261.8" width="1" height="1" fill="#a8dcff" opacity="0.94"/>
<rect x="451.4" y="192.6" width="1" height="1" fill="#cfeaff" opacity="0.76"/>
<rect x="488.3" y="302.8" width="1" height="1" fill="#cfeaff" opacity="0.99"/>
<rect x="467.0" y="170.9" width="1.4" height="1.4" fill="#e8f4ff" opacity="0.67"/>
<rect x="490.7" y="173.2" width="1.4" height="1.4" fill="#e8f4ff" opacity="0.97"/>
<rect x="533.6" y="291.8" width="1.4" height="1.4" fill="#ffffff" opacity="0.71"/>
<rect x="552.6" y="282.4" width="1.2" height="1.2" fill="#ffffff" opacity="0.80"/>
<rect x="518.8" y="158.8" width="1" height="1" fill="#ffffff" opacity="0.63"/>
<rect x="443.4" y="257.3" width="1" height="1" fill="#e8f4ff" opacity="0.86"/>
<rect x="441.5" y="229.2" width="1.4" height="1.4" fill="#a8dcff" opacity="0.60"/>
<rect x="457.5" y="282.2" width="1.2" height="1.2" fill="#e8f4ff" opacity="0.62"/>
<rect x="528.2" y="300.6" width="1" height="1" fill="#a8dcff" opacity="0.73"/>
<rect x="494.9" y="166.9" width="1" height="1" fill="#a8dcff" opacity="0.94"/>
<rect x="578.7" y="242.2" width="1" height="1" fill="#e8f4ff" opacity="0.61"/>
<rect x="529.8" y="172.5" width="1" height="1" fill="#e8f4ff" opacity="0.90"/>
<rect x="455.5" y="179.3" width="1.2" height="1.2" fill="#e8f4ff" opacity="0.83"/>
<rect x="581.1" y="243.4" width="1.2" height="1.2" fill="#cfeaff" opacity="0.90"/>
<rect x="477.1" y="165.2" width="1" height="1" fill="#a8dcff" opacity="0.88"/>
<rect x="439.1" y="255.7" width="1" height="1" fill="#a8dcff" opacity="0.77"/>
<rect x="460.8" y="179.5" width="1" height="1" fill="#e8f4ff" opacity="0.68"/>
<rect x="489.8" y="304.2" width="1" height="1" fill="#cfeaff" opacity="0.70"/>
<rect x="525.6" y="301.5" width="1" height="1" fill="#cfeaff" opacity="0.83"/>
<rect x="544.3" y="168.3" width="1" height="1" fill="#cfeaff" opacity="0.76"/>
<rect x="445.0" y="198.2" width="1.4" height="1.4" fill="#ffffff" opacity="0.63"/>
<rect x="539.8" y="165.1" width="1" height="1" fill="#a8dcff" opacity="0.88"/>
<rect x="537.7" y="299.0" width="1.4" height="1.4" fill="#e8f4ff" opacity="0.78"/>
<rect x="445.7" y="194.2" width="1" height="1" fill="#ffffff" opacity="0.93"/>
<rect x="440.8" y="197.9" width="1" height="1" fill="#ffffff" opacity="0.83"/>
<rect x="437.5" y="211.1" width="1" height="1" fill="#ffffff" opacity="0.84"/>
<rect x="536.0" y="167.8" width="1.4" height="1.4" fill="#ffffff" opacity="0.87"/>
<rect x="520.4" y="167.0" width="1.2" height="1.2" fill="#a8dcff" opacity="0.86"/>
<rect x="452.0" y="184.8" width="1.4" height="1.4" fill="#e8f4ff" opacity="0.87"/>
<rect x="438.3" y="206.4" width="1" height="1" fill="#a8dcff" opacity="0.70"/>
<rect x="546.1" y="176.2" width="1" height="1" fill="#e8f4ff" opacity="0.67"/>
<rect x="454.5" y="276.2" width="1" height="1" fill="#a8dcff" opacity="0.98"/>
<rect x="434.2" y="232.6" width="1" height="1" fill="#cfeaff" opacity="0.91"/>
<rect x="508.7" y="158.3" width="1.4" height="1.4" fill="#cfeaff" opacity="0.65"/>
<rect x="475.3" y="299.2" width="1.2" height="1.2" fill="#cfeaff" opacity="0.96"/>
<rect x="514.4" y="161.6" width="1" height="1" fill="#e8f4ff" opacity="0.99"/>
<rect x="432.7" y="228.0" width="1.4" height="1.4" fill="#e8f4ff" opacity="0.68"/>
<rect x="513.0" y="304.8" width="1.2" height="1.2" fill="#ffffff" opacity="0.71"/>
<rect x="471.5" y="293.4" width="1" height="1" fill="#cfeaff" opacity="0.57"/>
<rect x="564.3" y="186.1" width="1" height="1" fill="#a8dcff" opacity="0.63"/>
<rect x="435.9" y="219.8" width="1" height="1" fill="#e8f4ff" opacity="0.79"/>
<rect x="443.5" y="193.2" width="1.4" height="1.4" fill="#cfeaff" opacity="0.62"/>
<rect x="522.1" y="231.4" width="0.8" height="0.8" fill="#9fd0ff" opacity="0.62"/>
<rect x="488.7" y="182.7" width="0.8" height="0.8" fill="#9fd0ff" opacity="0.52"/>
<rect x="498.3" y="183.2" width="0.8" height="0.8" fill="#9fd0ff" opacity="0.43"/>
<rect x="536.1" y="207.0" width="0.8" height="0.8" fill="#9fd0ff" opacity="0.63"/>
<rect x="476.7" y="172.9" width="0.8" height="0.8" fill="#9fd0ff" opacity="0.56"/>
<rect x="463.9" y="217.1" width="0.8" height="0.8" fill="#9fd0ff" opacity="0.79"/>
<rect x="442.3" y="248.2" width="0.8" height="0.8" fill="#9fd0ff" opacity="0.44"/>
<rect x="518.9" y="259.6" width="0.8" height="0.8" fill="#9fd0ff" opacity="0.31"/>
<rect x="508.8" y="287.6" width="0.8" height="0.8" fill="#9fd0ff" opacity="0.45"/>
<rect x="476.7" y="272.5" width="0.8" height="0.8" fill="#9fd0ff" opacity="0.50"/>
<rect x="511.5" y="235.7" width="0.8" height="0.8" fill="#9fd0ff" opacity="0.58"/>
<rect x="510.8" y="196.1" width="0.8" height="0.8" fill="#9fd0ff" opacity="0.57"/>
<rect x="512.6" y="278.1" width="0.8" height="0.8" fill="#9fd0ff" opacity="0.61"/>
<rect x="466.7" y="282.2" width="0.8" height="0.8" fill="#9fd0ff" opacity="0.78"/>
<rect x="555.4" y="262.3" width="0.8" height="0.8" fill="#9fd0ff" opacity="0.44"/>
<rect x="560.9" y="192.8" width="0.8" height="0.8" fill="#9fd0ff" opacity="0.69"/>
<rect x="446.6" y="260.4" width="0.8" height="0.8" fill="#9fd0ff" opacity="0.33"/>
<rect x="525.2" y="254.2" width="0.8" height="0.8" fill="#9fd0ff" opacity="0.58"/>
<rect x="482.5" y="271.0" width="0.8" height="0.8" fill="#9fd0ff" opacity="0.61"/>
<rect x="567.1" y="205.4" width="0.8" height="0.8" fill="#9fd0ff" opacity="0.49"/>
<rect x="534.4" y="181.7" width="0.8" height="0.8" fill="#9fd0ff" opacity="0.68"/>
<rect x="543.4" y="272.8" width="0.8" height="0.8" fill="#9fd0ff" opacity="0.44"/>
<rect x="561.8" y="256.4" width="0.8" height="0.8" fill="#9fd0ff" opacity="0.40"/>
<rect x="573.4" y="248.3" width="0.8" height="0.8" fill="#9fd0ff" opacity="0.55"/>
<rect x="451.9" y="243.0" width="0.8" height="0.8" fill="#9fd0ff" opacity="0.31"/>
<rect x="525.9" y="255.5" width="0.8" height="0.8" fill="#9fd0ff" opacity="0.53"/>
<rect x="529.8" y="240.6" width="0.8" height="0.8" fill="#9fd0ff" opacity="0.30"/>
<rect x="497.5" y="199.5" width="0.8" height="0.8" fill="#9fd0ff" opacity="0.30"/>
<rect x="543.3" y="279.2" width="0.8" height="0.8" fill="#9fd0ff" opacity="0.61"/>
<rect x="501.9" y="242.1" width="0.8" height="0.8" fill="#9fd0ff" opacity="0.67"/>
<rect x="521.2" y="194.7" width="0.8" height="0.8" fill="#9fd0ff" opacity="0.75"/>
<rect x="509.2" y="224.2" width="0.8" height="0.8" fill="#9fd0ff" opacity="0.56"/>
<rect x="517.8" y="200.1" width="0.8" height="0.8" fill="#9fd0ff" opacity="0.63"/>
<rect x="567.8" y="216.7" width="0.8" height="0.8" fill="#9fd0ff" opacity="0.53"/>
<rect x="534.0" y="262.2" width="0.8" height="0.8" fill="#9fd0ff" opacity="0.74"/>
<rect x="485.7" y="281.0" width="0.8" height="0.8" fill="#9fd0ff" opacity="0.73"/>
<rect x="450.6" y="237.9" width="0.8" height="0.8" fill="#9fd0ff" opacity="0.44"/>
<rect x="575.0" y="242.1" width="0.8" height="0.8" fill="#9fd0ff" opacity="0.78"/>
<rect x="468.5" y="226.7" width="0.8" height="0.8" fill="#9fd0ff" opacity="0.62"/>
<rect x="548.0" y="210.3" width="0.8" height="0.8" fill="#9fd0ff" opacity="0.43"/>
<rect x="483.9" y="204.8" width="0.8" height="0.8" fill="#9fd0ff" opacity="0.47"/>
<rect x="527.5" y="215.6" width="0.8" height="0.8" fill="#9fd0ff" opacity="0.74"/>
<rect x="510.9" y="288.6" width="0.8" height="0.8" fill="#9fd0ff" opacity="0.43"/>
<rect x="462.3" y="267.6" width="0.8" height="0.8" fill="#9fd0ff" opacity="0.37"/>
<rect x="491.6" y="231.2" width="0.8" height="0.8" fill="#9fd0ff" opacity="0.65"/>
<rect x="502.5" y="284.9" width="0.8" height="0.8" fill="#9fd0ff" opacity="0.52"/>
<rect x="444.6" y="203.3" width="0.8" height="0.8" fill="#9fd0ff" opacity="0.30"/>
<rect x="506.5" y="167.4" width="0.8" height="0.8" fill="#9fd0ff" opacity="0.70"/>
<rect x="511.6" y="246.9" width="0.8" height="0.8" fill="#9fd0ff" opacity="0.30"/>
<rect x="479.6" y="271.1" width="0.8" height="0.8" fill="#9fd0ff" opacity="0.65"/>
<rect x="536.4" y="194.0" width="0.8" height="0.8" fill="#9fd0ff" opacity="0.48"/>
<rect x="473.4" y="187.5" width="0.8" height="0.8" fill="#9fd0ff" opacity="0.59"/>
<rect x="551.4" y="249.6" width="0.8" height="0.8" fill="#9fd0ff" opacity="0.62"/>
<rect x="569.4" y="260.0" width="0.8" height="0.8" fill="#9fd0ff" opacity="0.46"/>
<rect x="462.5" y="228.4" width="0.8" height="0.8" fill="#9fd0ff" opacity="0.70"/>
<rect x="481.3" y="223.2" width="0.8" height="0.8" fill="#9fd0ff" opacity="0.32"/>
<rect x="470.3" y="209.2" width="0.8" height="0.8" fill="#9fd0ff" opacity="0.63"/>
<rect x="546.3" y="209.1" width="0.8" height="0.8" fill="#9fd0ff" opacity="0.80"/>
<rect x="480.1" y="190.4" width="0.8" height="0.8" fill="#9fd0ff" opacity="0.57"/>
<rect x="530.8" y="173.6" width="0.8" height="0.8" fill="#9fd0ff" opacity="0.45"/>
<rect x="513.1" y="267.9" width="0.8" height="0.8" fill="#9fd0ff" opacity="0.49"/>
<rect x="474.7" y="287.6" width="0.8" height="0.8" fill="#9fd0ff" opacity="0.76"/>
<rect x="485.3" y="171.7" width="0.8" height="0.8" fill="#9fd0ff" opacity="0.55"/>
<rect x="558.8" y="234.1" width="0.8" height="0.8" fill="#9fd0ff" opacity="0.35"/>
<rect x="531.2" y="294.5" width="0.8" height="0.8" fill="#9fd0ff" opacity="0.74"/>
<rect x="489.6" y="273.5" width="0.8" height="0.8" fill="#9fd0ff" opacity="0.40"/>
<rect x="533.0" y="289.8" width="0.8" height="0.8" fill="#9fd0ff" opacity="0.74"/>
<rect x="554.2" y="229.9" width="0.8" height="0.8" fill="#9fd0ff" opacity="0.62"/>
<rect x="548.6" y="237.5" width="0.8" height="0.8" fill="#9fd0ff" opacity="0.63"/>
<rect x="502.0" y="266.3" width="0.8" height="0.8" fill="#9fd0ff" opacity="0.33"/>
<rect x="461.3" y="223.3" width="0.8" height="0.8" fill="#9fd0ff" opacity="0.59"/>
<rect x="486.0" y="279.4" width="0.8" height="0.8" fill="#9fd0ff" opacity="0.61"/>
<rect x="478.8" y="178.6" width="0.8" height="0.8" fill="#9fd0ff" opacity="0.54"/>
<rect x="487.5" y="230.1" width="0.8" height="0.8" fill="#9fd0ff" opacity="0.66"/>
<rect x="446.5" y="248.4" width="0.8" height="0.8" fill="#9fd0ff" opacity="0.66"/>
<rect x="500.4" y="229.4" width="0.8" height="0.8" fill="#9fd0ff" opacity="0.56"/>
<rect x="573.9" y="227.8" width="0.8" height="0.8" fill="#9fd0ff" opacity="0.44"/>
<rect x="550.9" y="181.4" width="0.8" height="0.8" fill="#9fd0ff" opacity="0.70"/>
<rect x="523.3" y="203.3" width="0.8" height="0.8" fill="#9fd0ff" opacity="0.51"/>
<rect x="558.6" y="246.0" width="0.8" height="0.8" fill="#9fd0ff" opacity="0.53"/>
<rect x="521.8" y="287.4" width="0.8" height="0.8" fill="#9fd0ff" opacity="0.32"/>
<rect x="534.2" y="195.8" width="0.8" height="0.8" fill="#9fd0ff" opacity="0.40"/>
<rect x="510.1" y="255.5" width="0.8" height="0.8" fill="#9fd0ff" opacity="0.45"/>
<rect x="485.3" y="217.3" width="0.8" height="0.8" fill="#9fd0ff" opacity="0.77"/>
<rect x="551.3" y="187.1" width="0.8" height="0.8" fill="#9fd0ff" opacity="0.31"/>
<rect x="491.0" y="230.6" width="0.8" height="0.8" fill="#9fd0ff" opacity="0.53"/>
<rect x="469.4" y="237.1" width="0.8" height="0.8" fill="#9fd0ff" opacity="0.74"/>
<rect x="539.4" y="281.1" width="0.8" height="0.8" fill="#9fd0ff" opacity="0.69"/>
<rect x="512.5" y="164.4" width="0.8" height="0.8" fill="#9fd0ff" opacity="0.48"/>
<rect x="476.7" y="225.7" width="0.8" height="0.8" fill="#9fd0ff" opacity="0.63"/>
<rect x="548.3" y="253.1" width="0.8" height="0.8" fill="#9fd0ff" opacity="0.77"/>
<rect x="481.5" y="224.3" width="0.8" height="0.8" fill="#9fd0ff" opacity="0.55"/>
<rect x="512.7" y="275.8" width="0.8" height="0.8" fill="#9fd0ff" opacity="0.61"/>
<rect x="488.5" y="170.6" width="0.8" height="0.8" fill="#9fd0ff" opacity="0.46"/>
<rect x="452.0" y="198.8" width="0.8" height="0.8" fill="#9fd0ff" opacity="0.79"/>
<rect x="464.2" y="199.6" width="0.8" height="0.8" fill="#9fd0ff" opacity="0.39"/>
<rect x="565.4" y="203.6" width="0.8" height="0.8" fill="#9fd0ff" opacity="0.59"/>
<rect x="474.7" y="212.8" width="0.8" height="0.8" fill="#9fd0ff" opacity="0.77"/>
<rect x="481.7" y="209.5" width="0.8" height="0.8" fill="#9fd0ff" opacity="0.64"/>
<rect x="565.6" y="196.1" width="0.8" height="0.8" fill="#9fd0ff" opacity="0.46"/>
<rect x="558.5" y="275.3" width="0.8" height="0.8" fill="#9fd0ff" opacity="0.45"/>
<rect x="524.8" y="298.7" width="0.8" height="0.8" fill="#9fd0ff" opacity="0.78"/>
<rect x="449.8" y="245.2" width="0.8" height="0.8" fill="#9fd0ff" opacity="0.33"/>
<rect x="497.1" y="269.8" width="0.8" height="0.8" fill="#9fd0ff" opacity="0.61"/>
<rect x="569.0" y="261.0" width="0.8" height="0.8" fill="#9fd0ff" opacity="0.68"/>
<rect x="457.1" y="251.7" width="0.8" height="0.8" fill="#9fd0ff" opacity="0.35"/>
<rect x="452.0" y="256.1" width="0.8" height="0.8" fill="#9fd0ff" opacity="0.58"/>
<rect x="469.8" y="223.2" width="0.8" height="0.8" fill="#9fd0ff" opacity="0.75"/>
<rect x="483.4" y="187.8" width="0.8" height="0.8" fill="#9fd0ff" opacity="0.69"/>
<rect x="511.7" y="253.4" width="0.8" height="0.8" fill="#9fd0ff" opacity="0.67"/>
<rect x="547.1" y="186.8" width="0.8" height="0.8" fill="#9fd0ff" opacity="0.64"/>
<rect x="466.1" y="214.4" width="0.8" height="0.8" fill="#9fd0ff" opacity="0.36"/>
<rect x="530.8" y="183.0" width="0.8" height="0.8" fill="#9fd0ff" opacity="0.52"/>
<rect x="453.0" y="210.8" width="0.8" height="0.8" fill="#9fd0ff" opacity="0.57"/>
<rect x="494.1" y="271.6" width="0.8" height="0.8" fill="#9fd0ff" opacity="0.59"/>
<rect x="483.6" y="175.1" width="0.8" height="0.8" fill="#9fd0ff" opacity="0.65"/>
<rect x="534.3" y="174.8" width="0.8" height="0.8" fill="#9fd0ff" opacity="0.38"/>
<rect x="496.3" y="219.2" width="0.8" height="0.8" fill="#9fd0ff" opacity="0.54"/>
<rect x="548.5" y="252.3" width="0.8" height="0.8" fill="#9fd0ff" opacity="0.40"/>
<rect x="557.1" y="252.8" width="0.8" height="0.8" fill="#9fd0ff" opacity="0.43"/>
<rect x="521.1" y="218.8" width="0.8" height="0.8" fill="#9fd0ff" opacity="0.79"/>
<rect x="527.0" y="285.0" width="0.8" height="0.8" fill="#9fd0ff" opacity="0.41"/>
<rect x="482.4" y="190.4" width="0.8" height="0.8" fill="#9fd0ff" opacity="0.47"/>
<rect x="465.9" y="196.4" width="0.8" height="0.8" fill="#9fd0ff" opacity="0.71"/>
<rect x="496.7" y="256.8" width="0.8" height="0.8" fill="#9fd0ff" opacity="0.65"/>
<rect x="540.0" y="242.5" width="0.8" height="0.8" fill="#9fd0ff" opacity="0.53"/>
<rect x="491.6" y="221.9" width="0.8" height="0.8" fill="#9fd0ff" opacity="0.65"/>
<rect x="566.1" y="217.7" width="0.8" height="0.8" fill="#9fd0ff" opacity="0.34"/>
<rect x="559.0" y="212.1" width="0.8" height="0.8" fill="#9fd0ff" opacity="0.57"/>
<rect x="485.0" y="236.6" width="0.8" height="0.8" fill="#9fd0ff" opacity="0.64"/>
<rect x="474.4" y="261.9" width="0.8" height="0.8" fill="#9fd0ff" opacity="0.61"/>
<rect x="551.7" y="209.4" width="0.8" height="0.8" fill="#9fd0ff" opacity="0.33"/>
<rect x="452.3" y="210.5" width="0.8" height="0.8" fill="#9fd0ff" opacity="0.64"/>
<rect x="500.2" y="287.6" width="0.8" height="0.8" fill="#9fd0ff" opacity="0.37"/>
<rect x="457.2" y="253.2" width="0.8" height="0.8" fill="#9fd0ff" opacity="0.57"/>
<rect x="551.9" y="275.7" width="0.8" height="0.8" fill="#9fd0ff" opacity="0.68"/>
<rect x="518.0" y="217.5" width="0.8" height="0.8" fill="#9fd0ff" opacity="0.78"/>
<rect x="492.5" y="264.2" width="0.8" height="0.8" fill="#9fd0ff" opacity="0.64"/>
<rect x="476.5" y="184.4" width="0.8" height="0.8" fill="#9fd0ff" opacity="0.52"/>
<rect x="527.4" y="207.5" width="0.8" height="0.8" fill="#9fd0ff" opacity="0.60"/>
<rect x="488.9" y="188.3" width="0.8" height="0.8" fill="#9fd0ff" opacity="0.32"/>
<rect x="535.2" y="186.1" width="0.8" height="0.8" fill="#9fd0ff" opacity="0.43"/>
<rect x="505.1" y="229.2" width="0.8" height="0.8" fill="#9fd0ff" opacity="0.80"/>
<rect x="537.0" y="294.1" width="0.8" height="0.8" fill="#9fd0ff" opacity="0.59"/>
<rect x="540.9" y="197.5" width="0.8" height="0.8" fill="#9fd0ff" opacity="0.61"/>
<rect x="508.5" y="276.7" width="0.8" height="0.8" fill="#9fd0ff" opacity="0.80"/>
<rect x="559.4" y="214.1" width="0.8" height="0.8" fill="#9fd0ff" opacity="0.72"/>
<rect x="535.4" y="255.6" width="0.8" height="0.8" fill="#9fd0ff" opacity="0.64"/>
<rect x="451.9" y="207.5" width="0.8" height="0.8" fill="#9fd0ff" opacity="0.68"/>
<rect x="562.3" y="192.8" width="0.8" height="0.8" fill="#9fd0ff" opacity="0.64"/>
<rect x="545.9" y="267.4" width="0.8" height="0.8" fill="#9fd0ff" opacity="0.67"/>
<rect x="574.7" y="240.9" width="0.8" height="0.8" fill="#9fd0ff" opacity="0.55"/>
<rect x="523.9" y="277.7" width="0.8" height="0.8" fill="#9fd0ff" opacity="0.66"/>
<rect x="546.6" y="218.9" width="0.8" height="0.8" fill="#9fd0ff" opacity="0.66"/>
<rect x="571.0" y="218.7" width="0.8" height="0.8" fill="#9fd0ff" opacity="0.43"/>
<rect x="505.8" y="271.5" width="0.8" height="0.8" fill="#9fd0ff" opacity="0.68"/>
<rect x="513.1" y="198.4" width="0.8" height="0.8" fill="#9fd0ff" opacity="0.48"/>
<rect x="559.2" y="211.8" width="0.8" height="0.8" fill="#9fd0ff" opacity="0.43"/>
<rect x="513.6" y="191.3" width="0.8" height="0.8" fill="#9fd0ff" opacity="0.79"/>
<rect x="533.7" y="174.4" width="0.8" height="0.8" fill="#9fd0ff" opacity="0.73"/>
<line x1="539.0" y1="254.9" x2="541.7" y2="256.8" stroke="#5fc8ff" stroke-width="0.7" opacity="0.75"/>
<line x1="528.8" y1="280.2" x2="532.1" y2="287.5" stroke="#5fc8ff" stroke-width="0.7" opacity="0.38"/>
<line x1="444.6" y1="184.6" x2="439.7" y2="180.8" stroke="#5fc8ff" stroke-width="0.7" opacity="0.71"/>
<line x1="442.5" y1="188.4" x2="435.3" y2="183.5" stroke="#5fc8ff" stroke-width="0.7" opacity="0.77"/>
<line x1="544.4" y1="227.8" x2="549.7" y2="227.3" stroke="#5fc8ff" stroke-width="0.7" opacity="0.78"/>
<line x1="565.4" y1="225.7" x2="570.7" y2="225.1" stroke="#5fc8ff" stroke-width="0.7" opacity="0.32"/>
<line x1="450.1" y1="191.0" x2="443.8" y2="186.4" stroke="#5fc8ff" stroke-width="0.7" opacity="0.45"/>
<line x1="488.0" y1="271.3" x2="484.2" y2="279.2" stroke="#5fc8ff" stroke-width="0.7" opacity="0.33"/>
<line x1="511.9" y1="297.6" x2="512.6" y2="306.4" stroke="#5fc8ff" stroke-width="0.7" opacity="0.36"/>
<line x1="567.6" y1="217.2" x2="573.3" y2="215.8" stroke="#5fc8ff" stroke-width="0.7" opacity="0.47"/>
<line x1="500.2" y1="302.9" x2="499.5" y2="309.5" stroke="#5fc8ff" stroke-width="0.7" opacity="0.80"/>
<line x1="583.5" y1="224.9" x2="589.8" y2="224.3" stroke="#5fc8ff" stroke-width="0.7" opacity="0.60"/>
<line x1="573.0" y1="237.0" x2="581.2" y2="237.6" stroke="#5fc8ff" stroke-width="0.7" opacity="0.75"/>
<line x1="498.1" y1="195.4" x2="497.3" y2="192.1" stroke="#5fc8ff" stroke-width="0.7" opacity="0.64"/>
<line x1="525.1" y1="192.5" x2="528.8" y2="184.4" stroke="#5fc8ff" stroke-width="0.7" opacity="0.76"/>
<line x1="507.0" y1="155.9" x2="507.0" y2="149.1" stroke="#5fc8ff" stroke-width="0.7" opacity="0.43"/>
<line x1="554.7" y1="248.6" x2="557.7" y2="249.6" stroke="#5fc8ff" stroke-width="0.7" opacity="0.41"/>
<line x1="429.1" y1="239.6" x2="424.5" y2="240.0" stroke="#5fc8ff" stroke-width="0.7" opacity="0.31"/>
<line x1="534.1" y1="198.7" x2="536.2" y2="196.2" stroke="#5fc8ff" stroke-width="0.7" opacity="0.58"/>
<line x1="473.9" y1="284.8" x2="471.8" y2="288.3" stroke="#5fc8ff" stroke-width="0.7" opacity="0.66"/>
<line x1="442.8" y1="264.8" x2="439.4" y2="266.5" stroke="#5fc8ff" stroke-width="0.7" opacity="0.73"/>
<line x1="549.1" y1="193.2" x2="553.9" y2="188.8" stroke="#5fc8ff" stroke-width="0.7" opacity="0.40"/>
<line x1="474.4" y1="276.0" x2="471.9" y2="279.3" stroke="#5fc8ff" stroke-width="0.7" opacity="0.73"/>
<line x1="493.9" y1="169.9" x2="492.4" y2="162.7" stroke="#5fc8ff" stroke-width="0.7" opacity="0.33"/>
<line x1="529.2" y1="276.7" x2="531.7" y2="281.7" stroke="#5fc8ff" stroke-width="0.7" opacity="0.61"/>
<line x1="443.7" y1="241.6" x2="437.9" y2="242.5" stroke="#5fc8ff" stroke-width="0.7" opacity="0.31"/>
<line x1="579.3" y1="247.4" x2="584.8" y2="248.5" stroke="#5fc8ff" stroke-width="0.7" opacity="0.62"/>
<line x1="506.1" y1="293.2" x2="506.0" y2="298.6" stroke="#5fc8ff" stroke-width="0.7" opacity="0.75"/>
<line x1="467.2" y1="231.7" x2="460.7" y2="231.7" stroke="#5fc8ff" stroke-width="0.7" opacity="0.42"/>
<line x1="558.6" y1="245.1" x2="566.3" y2="247.0" stroke="#5fc8ff" stroke-width="0.7" opacity="0.50"/>
<line x1="524.9" y1="196.6" x2="528.6" y2="189.2" stroke="#5fc8ff" stroke-width="0.7" opacity="0.74"/>
<line x1="512.5" y1="155.8" x2="512.9" y2="149.9" stroke="#5fc8ff" stroke-width="0.7" opacity="0.39"/>
<line x1="495.3" y1="274.0" x2="494.1" y2="278.4" stroke="#5fc8ff" stroke-width="0.7" opacity="0.68"/>
<line x1="468.6" y1="287.6" x2="463.6" y2="294.9" stroke="#5fc8ff" stroke-width="0.7" opacity="0.57"/>
<line x1="486.9" y1="276.5" x2="483.5" y2="284.0" stroke="#5fc8ff" stroke-width="0.7" opacity="0.73"/>
<line x1="458.6" y1="234.7" x2="453.6" y2="235.0" stroke="#5fc8ff" stroke-width="0.7" opacity="0.37"/>
<line x1="471.5" y1="288.3" x2="469.6" y2="291.2" stroke="#5fc8ff" stroke-width="0.7" opacity="0.37"/>
<line x1="550.9" y1="237.5" x2="558.7" y2="238.5" stroke="#5fc8ff" stroke-width="0.7" opacity="0.62"/>
<line x1="524.6" y1="285.5" x2="527.1" y2="293.4" stroke="#5fc8ff" stroke-width="0.7" opacity="0.47"/>
<line x1="494.7" y1="166.1" x2="494.0" y2="162.1" stroke="#5fc8ff" stroke-width="0.7" opacity="0.65"/>
<line x1="524.7" y1="267.1" x2="528.3" y2="274.2" stroke="#5fc8ff" stroke-width="0.7" opacity="0.59"/>
<line x1="459.1" y1="182.4" x2="453.3" y2="176.4" stroke="#5fc8ff" stroke-width="0.7" opacity="0.36"/>
<line x1="538.1" y1="176.0" x2="542.1" y2="168.7" stroke="#5fc8ff" stroke-width="0.7" opacity="0.75"/>
<line x1="529.4" y1="286.9" x2="532.1" y2="293.5" stroke="#5fc8ff" stroke-width="0.7" opacity="0.63"/>
<line x1="505.0" y1="184.8" x2="504.7" y2="177.3" stroke="#5fc8ff" stroke-width="0.7" opacity="0.67"/>
<line x1="568.8" y1="227.9" x2="574.0" y2="227.6" stroke="#5fc8ff" stroke-width="0.7" opacity="0.49"/>
<line x1="552.0" y1="241.6" x2="558.9" y2="243.1" stroke="#5fc8ff" stroke-width="0.7" opacity="0.47"/>
<line x1="540.2" y1="274.8" x2="545.0" y2="281.0" stroke="#5fc8ff" stroke-width="0.7" opacity="0.76"/>
<line x1="440.3" y1="216.9" x2="433.3" y2="215.3" stroke="#5fc8ff" stroke-width="0.7" opacity="0.73"/>
<line x1="480.4" y1="263.5" x2="478.2" y2="266.1" stroke="#5fc8ff" stroke-width="0.7" opacity="0.42"/>
<line x1="554.4" y1="224.6" x2="563.0" y2="223.2" stroke="#5fc8ff" stroke-width="0.7" opacity="0.79"/>
<line x1="503.7" y1="270.0" x2="503.4" y2="273.5" stroke="#5fc8ff" stroke-width="0.7" opacity="0.42"/>
<line x1="514.2" y1="291.3" x2="515.0" y2="297.4" stroke="#5fc8ff" stroke-width="0.7" opacity="0.53"/>
<line x1="504.1" y1="275.1" x2="503.9" y2="278.1" stroke="#5fc8ff" stroke-width="0.7" opacity="0.79"/>
<line x1="540.8" y1="253.3" x2="544.2" y2="255.5" stroke="#5fc8ff" stroke-width="0.7" opacity="0.40"/>
<line x1="484.1" y1="262.3" x2="481.7" y2="265.5" stroke="#5fc8ff" stroke-width="0.7" opacity="0.62"/>
<line x1="523.9" y1="166.3" x2="525.6" y2="159.5" stroke="#5fc8ff" stroke-width="0.7" opacity="0.70"/>
<line x1="454.0" y1="221.8" x2="446.6" y2="220.4" stroke="#5fc8ff" stroke-width="0.7" opacity="0.69"/>
<line x1="486.1" y1="159.3" x2="484.9" y2="155.2" stroke="#5fc8ff" stroke-width="0.7" opacity="0.53"/>
<line x1="481.7" y1="166.4" x2="480.5" y2="163.1" stroke="#5fc8ff" stroke-width="0.7" opacity="0.71"/>
<circle cx="507" cy="232" r="80" fill="none" stroke="#2a80ff" stroke-width="10" opacity="0.28" filter="url(#blur3)"/>
<line x1="444.0" y1="269.2" x2="433.8" y2="275.3" stroke="#5ac8ff" stroke-width="0.8" opacity="0.52"/>
<line x1="581.0" y1="241.9" x2="590.3" y2="243.1" stroke="#5ac8ff" stroke-width="0.8" opacity="0.63"/>
<line x1="450.1" y1="274.5" x2="444.5" y2="278.7" stroke="#5ac8ff" stroke-width="0.8" opacity="0.65"/>
<line x1="522.1" y1="305.4" x2="524.9" y2="318.9" stroke="#5ac8ff" stroke-width="0.8" opacity="0.57"/>
<line x1="449.6" y1="188.8" x2="443.9" y2="184.5" stroke="#5ac8ff" stroke-width="0.8" opacity="0.31"/>
<line x1="580.5" y1="217.9" x2="589.1" y2="216.2" stroke="#5ac8ff" stroke-width="0.8" opacity="0.61"/>
<line x1="554.9" y1="177.8" x2="563.3" y2="168.3" stroke="#5ac8ff" stroke-width="0.8" opacity="0.48"/>
<line x1="545.4" y1="167.7" x2="548.2" y2="162.9" stroke="#5ac8ff" stroke-width="0.8" opacity="0.59"/>
<line x1="498.1" y1="157.9" x2="496.9" y2="148.1" stroke="#5ac8ff" stroke-width="0.8" opacity="0.54"/>
<line x1="536.0" y1="300.2" x2="539.1" y2="307.7" stroke="#5ac8ff" stroke-width="0.8" opacity="0.66"/>
<line x1="455.1" y1="284.7" x2="450.6" y2="289.3" stroke="#5ac8ff" stroke-width="0.8" opacity="0.65"/>
<line x1="471.3" y1="297.8" x2="467.7" y2="304.6" stroke="#5ac8ff" stroke-width="0.8" opacity="0.54"/>
<line x1="482.2" y1="161.3" x2="480.0" y2="155.1" stroke="#5ac8ff" stroke-width="0.8" opacity="0.28"/>
<line x1="558.7" y1="180.1" x2="561.7" y2="177.0" stroke="#5ac8ff" stroke-width="0.8" opacity="0.28"/>
<line x1="438.6" y1="259.1" x2="426.7" y2="263.8" stroke="#5ac8ff" stroke-width="0.8" opacity="0.68"/>
<line x1="459.8" y1="175.3" x2="451.0" y2="164.8" stroke="#5ac8ff" stroke-width="0.8" opacity="0.67"/>
<line x1="435.9" y1="212.4" x2="423.2" y2="208.9" stroke="#5ac8ff" stroke-width="0.8" opacity="0.64"/>
<line x1="554.7" y1="288.9" x2="561.9" y2="297.6" stroke="#5ac8ff" stroke-width="0.8" opacity="0.44"/>
<line x1="433.9" y1="236.5" x2="424.4" y2="237.1" stroke="#5ac8ff" stroke-width="0.8" opacity="0.53"/>
<line x1="455.8" y1="182.8" x2="449.2" y2="176.5" stroke="#5ac8ff" stroke-width="0.8" opacity="0.57"/>
<line x1="551.8" y1="172.0" x2="559.3" y2="161.9" stroke="#5ac8ff" stroke-width="0.8" opacity="0.37"/>
<line x1="476.6" y1="298.3" x2="472.8" y2="306.6" stroke="#5ac8ff" stroke-width="0.8" opacity="0.42"/>
<line x1="541.0" y1="297.0" x2="547.3" y2="309.0" stroke="#5ac8ff" stroke-width="0.8" opacity="0.33"/>
<line x1="456.3" y1="285.6" x2="446.7" y2="295.8" stroke="#5ac8ff" stroke-width="0.8" opacity="0.57"/>
<line x1="437.9" y1="209.2" x2="427.7" y2="205.9" stroke="#5ac8ff" stroke-width="0.8" opacity="0.63"/>
<line x1="571.0" y1="196.1" x2="577.7" y2="192.3" stroke="#5ac8ff" stroke-width="0.8" opacity="0.65"/>
<line x1="433.4" y1="237.3" x2="424.4" y2="238.0" stroke="#5ac8ff" stroke-width="0.8" opacity="0.34"/>
<line x1="564.1" y1="186.1" x2="573.1" y2="178.9" stroke="#5ac8ff" stroke-width="0.8" opacity="0.59"/>
<line x1="553.6" y1="287.3" x2="559.9" y2="294.8" stroke="#5ac8ff" stroke-width="0.8" opacity="0.67"/>
<line x1="579.9" y1="239.3" x2="589.9" y2="240.3" stroke="#5ac8ff" stroke-width="0.8" opacity="0.49"/>
<line x1="579.9" y1="248.8" x2="587.1" y2="250.5" stroke="#5ac8ff" stroke-width="0.8" opacity="0.51"/>
<line x1="484.0" y1="163.8" x2="481.8" y2="157.4" stroke="#5ac8ff" stroke-width="0.8" opacity="0.65"/>
<line x1="434.6" y1="225.1" x2="428.3" y2="224.5" stroke="#5ac8ff" stroke-width="0.8" opacity="0.56"/>
<line x1="559.1" y1="282.4" x2="564.5" y2="287.7" stroke="#5ac8ff" stroke-width="0.8" opacity="0.29"/>
<line x1="468.1" y1="295.4" x2="462.7" y2="304.3" stroke="#5ac8ff" stroke-width="0.8" opacity="0.48"/>
<line x1="464.3" y1="290.6" x2="460.5" y2="295.8" stroke="#5ac8ff" stroke-width="0.8" opacity="0.55"/>
<line x1="443.8" y1="198.6" x2="437.4" y2="195.2" stroke="#5ac8ff" stroke-width="0.8" opacity="0.66"/>
<line x1="483.3" y1="299.3" x2="479.9" y2="308.7" stroke="#5ac8ff" stroke-width="0.8" opacity="0.28"/>
<line x1="476.5" y1="296.9" x2="474.0" y2="302.2" stroke="#5ac8ff" stroke-width="0.8" opacity="0.29"/>
<line x1="526.6" y1="300.8" x2="529.7" y2="311.6" stroke="#5ac8ff" stroke-width="0.8" opacity="0.45"/>
<line x1="498.7" y1="158.2" x2="497.7" y2="149.7" stroke="#5ac8ff" stroke-width="0.8" opacity="0.42"/>
<line x1="449.8" y1="274.4" x2="445.1" y2="277.9" stroke="#5ac8ff" stroke-width="0.8" opacity="0.27"/>
<line x1="440.7" y1="265.1" x2="436.9" y2="267.1" stroke="#5ac8ff" stroke-width="0.8" opacity="0.29"/>
<line x1="538.3" y1="166.4" x2="543.4" y2="155.7" stroke="#5ac8ff" stroke-width="0.8" opacity="0.67"/>
<line x1="474.6" y1="165.6" x2="472.4" y2="161.1" stroke="#5ac8ff" stroke-width="0.8" opacity="0.29"/>
<line x1="472.9" y1="166.6" x2="469.3" y2="159.8" stroke="#5ac8ff" stroke-width="0.8" opacity="0.63"/>
<line x1="512.6" y1="159.9" x2="513.5" y2="148.9" stroke="#5ac8ff" stroke-width="0.8" opacity="0.52"/>
<line x1="484.1" y1="164.0" x2="481.7" y2="157.0" stroke="#5ac8ff" stroke-width="0.8" opacity="0.47"/>
<line x1="512.3" y1="159.9" x2="513.2" y2="146.4" stroke="#5ac8ff" stroke-width="0.8" opacity="0.53"/>
<line x1="438.9" y1="257.9" x2="434.0" y2="259.7" stroke="#5ac8ff" stroke-width="0.8" opacity="0.66"/>
<line x1="528.2" y1="301.5" x2="530.5" y2="308.9" stroke="#5ac8ff" stroke-width="0.8" opacity="0.32"/>
<line x1="522.6" y1="303.3" x2="524.3" y2="311.5" stroke="#5ac8ff" stroke-width="0.8" opacity="0.28"/>
<line x1="529.8" y1="302.0" x2="531.3" y2="306.8" stroke="#5ac8ff" stroke-width="0.8" opacity="0.47"/>
<line x1="577.1" y1="255.9" x2="589.4" y2="260.1" stroke="#5ac8ff" stroke-width="0.8" opacity="0.52"/>
<line x1="578.1" y1="215.9" x2="588.2" y2="213.6" stroke="#5ac8ff" stroke-width="0.8" opacity="0.66"/>
<line x1="488.2" y1="302.8" x2="486.4" y2="309.6" stroke="#5ac8ff" stroke-width="0.8" opacity="0.61"/>
<line x1="491.1" y1="301.3" x2="488.8" y2="311.2" stroke="#5ac8ff" stroke-width="0.8" opacity="0.33"/>
<line x1="569.7" y1="194.3" x2="574.2" y2="191.6" stroke="#5ac8ff" stroke-width="0.8" opacity="0.59"/>
<line x1="435.5" y1="233.5" x2="431.2" y2="233.6" stroke="#5ac8ff" stroke-width="0.8" opacity="0.45"/>
<line x1="559.6" y1="283.3" x2="563.4" y2="287.0" stroke="#5ac8ff" stroke-width="0.8" opacity="0.33"/>
<line x1="466.4" y1="291.5" x2="458.8" y2="302.7" stroke="#5ac8ff" stroke-width="0.8" opacity="0.42"/>
<line x1="539.5" y1="299.5" x2="542.0" y2="304.7" stroke="#5ac8ff" stroke-width="0.8" opacity="0.58"/>
<line x1="554.2" y1="287.2" x2="558.7" y2="292.5" stroke="#5ac8ff" stroke-width="0.8" opacity="0.66"/>
<line x1="437.7" y1="257.0" x2="431.4" y2="259.2" stroke="#5ac8ff" stroke-width="0.8" opacity="0.28"/>
<line x1="452.5" y1="281.3" x2="448.4" y2="285.1" stroke="#5ac8ff" stroke-width="0.8" opacity="0.48"/>
<line x1="522.0" y1="302.6" x2="524.2" y2="312.8" stroke="#5ac8ff" stroke-width="0.8" opacity="0.57"/>
<line x1="519.0" y1="304.1" x2="520.3" y2="311.8" stroke="#5ac8ff" stroke-width="0.8" opacity="0.69"/>
<line x1="547.7" y1="291.4" x2="551.5" y2="296.9" stroke="#5ac8ff" stroke-width="0.8" opacity="0.36"/>
<line x1="549.0" y1="170.1" x2="555.4" y2="160.6" stroke="#5ac8ff" stroke-width="0.8" opacity="0.62"/>
<line x1="503.2" y1="305.2" x2="502.7" y2="314.7" stroke="#5ac8ff" stroke-width="0.8" opacity="0.50"/>
<line x1="443.9" y1="271.0" x2="437.7" y2="274.8" stroke="#5ac8ff" stroke-width="0.8" opacity="0.54"/>
<line x1="438.7" y1="253.9" x2="430.3" y2="256.6" stroke="#5ac8ff" stroke-width="0.8" opacity="0.36"/>
<line x1="531.1" y1="301.8" x2="533.8" y2="309.7" stroke="#5ac8ff" stroke-width="0.8" opacity="0.35"/>
<line x1="564.7" y1="277.2" x2="569.4" y2="280.8" stroke="#5ac8ff" stroke-width="0.8" opacity="0.39"/>
<line x1="552.2" y1="176.6" x2="558.2" y2="169.3" stroke="#5ac8ff" stroke-width="0.8" opacity="0.34"/>
<line x1="561.3" y1="280.2" x2="571.0" y2="288.8" stroke="#5ac8ff" stroke-width="0.8" opacity="0.30"/>
<line x1="434.3" y1="227.7" x2="420.4" y2="226.8" stroke="#5ac8ff" stroke-width="0.8" opacity="0.34"/>
<line x1="468.5" y1="294.3" x2="462.2" y2="304.5" stroke="#5ac8ff" stroke-width="0.8" opacity="0.41"/>
<line x1="432.6" y1="230.6" x2="418.8" y2="230.3" stroke="#5ac8ff" stroke-width="0.8" opacity="0.36"/>
<line x1="577.9" y1="244.9" x2="583.6" y2="245.9" stroke="#5ac8ff" stroke-width="0.8" opacity="0.40"/>
<line x1="547.0" y1="172.0" x2="553.3" y2="162.6" stroke="#5ac8ff" stroke-width="0.8" opacity="0.47"/>
<line x1="537.9" y1="296.1" x2="543.0" y2="306.5" stroke="#5ac8ff" stroke-width="0.8" opacity="0.37"/>
<line x1="565.3" y1="274.4" x2="572.0" y2="279.2" stroke="#5ac8ff" stroke-width="0.8" opacity="0.30"/>
<line x1="438.3" y1="212.3" x2="430.2" y2="209.9" stroke="#5ac8ff" stroke-width="0.8" opacity="0.30"/>
<line x1="549.0" y1="170.4" x2="555.2" y2="161.3" stroke="#5ac8ff" stroke-width="0.8" opacity="0.36"/>
<line x1="537.0" y1="164.1" x2="540.6" y2="155.9" stroke="#5ac8ff" stroke-width="0.8" opacity="0.44"/>
<line x1="534.3" y1="162.2" x2="535.9" y2="158.1" stroke="#5ac8ff" stroke-width="0.8" opacity="0.63"/>
<line x1="537.3" y1="300.5" x2="540.2" y2="307.0" stroke="#5ac8ff" stroke-width="0.8" opacity="0.37"/>
<line x1="456.7" y1="286.6" x2="448.8" y2="295.2" stroke="#5ac8ff" stroke-width="0.8" opacity="0.42"/>
<line x1="467.8" y1="292.2" x2="462.1" y2="301.0" stroke="#5ac8ff" stroke-width="0.8" opacity="0.44"/>
<line x1="473.8" y1="164.9" x2="468.3" y2="153.8" stroke="#5ac8ff" stroke-width="0.8" opacity="0.58"/>
<line x1="478.4" y1="299.3" x2="474.7" y2="308.0" stroke="#5ac8ff" stroke-width="0.8" opacity="0.64"/>
<line x1="483.6" y1="161.6" x2="481.7" y2="155.8" stroke="#5ac8ff" stroke-width="0.8" opacity="0.32"/>
<line x1="433.0" y1="232.1" x2="420.7" y2="232.1" stroke="#5ac8ff" stroke-width="0.8" opacity="0.53"/>
<line x1="480.9" y1="299.0" x2="478.3" y2="305.7" stroke="#5ac8ff" stroke-width="0.8" opacity="0.64"/>
<line x1="517.2" y1="160.4" x2="517.8" y2="155.9" stroke="#5ac8ff" stroke-width="0.8" opacity="0.48"/>
<line x1="500.4" y1="303.7" x2="499.7" y2="310.8" stroke="#5ac8ff" stroke-width="0.8" opacity="0.60"/>
<line x1="446.4" y1="193.8" x2="436.0" y2="187.2" stroke="#5ac8ff" stroke-width="0.8" opacity="0.44"/>
<line x1="462.5" y1="174.3" x2="455.5" y2="165.1" stroke="#5ac8ff" stroke-width="0.8" opacity="0.50"/>
<line x1="575.3" y1="253.7" x2="587.7" y2="257.7" stroke="#5ac8ff" stroke-width="0.8" opacity="0.39"/>
<line x1="433.6" y1="228.1" x2="426.5" y2="227.7" stroke="#5ac8ff" stroke-width="0.8" opacity="0.55"/>
<line x1="532.5" y1="165.3" x2="534.6" y2="160.0" stroke="#5ac8ff" stroke-width="0.8" opacity="0.38"/>
<line x1="542.3" y1="167.4" x2="544.9" y2="162.7" stroke="#5ac8ff" stroke-width="0.8" opacity="0.36"/>
<line x1="577.4" y1="255.3" x2="589.1" y2="259.1" stroke="#5ac8ff" stroke-width="0.8" opacity="0.34"/>
<line x1="453.9" y1="183.4" x2="444.1" y2="174.5" stroke="#5ac8ff" stroke-width="0.8" opacity="0.58"/>
<line x1="472.5" y1="169.2" x2="466.5" y2="158.3" stroke="#5ac8ff" stroke-width="0.8" opacity="0.69"/>
<line x1="581.1" y1="238.5" x2="591.7" y2="239.4" stroke="#5ac8ff" stroke-width="0.8" opacity="0.65"/>
<line x1="455.5" y1="178.3" x2="447.9" y2="170.4" stroke="#5ac8ff" stroke-width="0.8" opacity="0.31"/>
<line x1="537.5" y1="166.9" x2="540.0" y2="161.5" stroke="#5ac8ff" stroke-width="0.8" opacity="0.27"/>
<line x1="552.8" y1="174.1" x2="560.6" y2="164.1" stroke="#5ac8ff" stroke-width="0.8" opacity="0.38"/>
<line x1="493.9" y1="160.3" x2="492.9" y2="154.5" stroke="#5ac8ff" stroke-width="0.8" opacity="0.70"/>
<line x1="578.3" y1="224.2" x2="591.2" y2="222.8" stroke="#5ac8ff" stroke-width="0.8" opacity="0.59"/>
<line x1="466.1" y1="291.3" x2="462.1" y2="297.1" stroke="#5ac8ff" stroke-width="0.8" opacity="0.55"/>
<line x1="459.6" y1="176.2" x2="451.2" y2="166.4" stroke="#5ac8ff" stroke-width="0.8" opacity="0.65"/>
<line x1="517.2" y1="303.4" x2="518.5" y2="312.1" stroke="#5ac8ff" stroke-width="0.8" opacity="0.31"/>
<line x1="576.0" y1="212.6" x2="585.4" y2="210.0" stroke="#5ac8ff" stroke-width="0.8" opacity="0.47"/>
<line x1="432.9" y1="222.6" x2="419.4" y2="220.9" stroke="#5ac8ff" stroke-width="0.8" opacity="0.46"/>
<line x1="575.1" y1="209.8" x2="580.7" y2="208.0" stroke="#5ac8ff" stroke-width="0.8" opacity="0.67"/>
<line x1="574.1" y1="199.7" x2="579.5" y2="197.0" stroke="#5ac8ff" stroke-width="0.8" opacity="0.62"/>
<line x1="484.4" y1="301.2" x2="481.9" y2="308.9" stroke="#5ac8ff" stroke-width="0.8" opacity="0.27"/>
<line x1="578.5" y1="232.6" x2="585.9" y2="232.7" stroke="#5ac8ff" stroke-width="0.8" opacity="0.67"/>
<line x1="511.2" y1="161.1" x2="511.6" y2="153.8" stroke="#5ac8ff" stroke-width="0.8" opacity="0.51"/>
<line x1="470.8" y1="169.7" x2="465.0" y2="159.8" stroke="#5ac8ff" stroke-width="0.8" opacity="0.25"/>
<line x1="565.4" y1="278.0" x2="574.6" y2="285.3" stroke="#5ac8ff" stroke-width="0.8" opacity="0.36"/>
<line x1="481.2" y1="165.4" x2="477.4" y2="155.7" stroke="#5ac8ff" stroke-width="0.8" opacity="0.51"/>
<line x1="450.2" y1="279.9" x2="439.6" y2="288.8" stroke="#5ac8ff" stroke-width="0.8" opacity="0.61"/>
<line x1="435.1" y1="221.7" x2="430.6" y2="221.1" stroke="#5ac8ff" stroke-width="0.8" opacity="0.32"/>
<line x1="459.2" y1="289.0" x2="453.6" y2="295.7" stroke="#5ac8ff" stroke-width="0.8" opacity="0.39"/>
<line x1="465.4" y1="291.7" x2="462.9" y2="295.4" stroke="#5ac8ff" stroke-width="0.8" opacity="0.42"/>
<line x1="526.5" y1="160.0" x2="529.5" y2="149.1" stroke="#5ac8ff" stroke-width="0.8" opacity="0.47"/>
<line x1="504.2" y1="306.7" x2="503.7" y2="320.2" stroke="#5ac8ff" stroke-width="0.8" opacity="0.68"/>
<line x1="573.9" y1="198.2" x2="582.9" y2="193.7" stroke="#5ac8ff" stroke-width="0.8" opacity="0.34"/>
<line x1="530.4" y1="161.7" x2="532.6" y2="155.2" stroke="#5ac8ff" stroke-width="0.8" opacity="0.60"/>
<line x1="490.3" y1="161.2" x2="488.1" y2="151.9" stroke="#5ac8ff" stroke-width="0.8" opacity="0.61"/>
<line x1="456.9" y1="285.4" x2="451.3" y2="291.4" stroke="#5ac8ff" stroke-width="0.8" opacity="0.43"/>
<line x1="445.4" y1="190.4" x2="440.7" y2="187.2" stroke="#5ac8ff" stroke-width="0.8" opacity="0.51"/>
<line x1="439.4" y1="203.6" x2="427.3" y2="198.5" stroke="#5ac8ff" stroke-width="0.8" opacity="0.66"/>
<line x1="574.2" y1="260.8" x2="583.5" y2="264.8" stroke="#5ac8ff" stroke-width="0.8" opacity="0.56"/>
<line x1="518.5" y1="161.0" x2="519.8" y2="153.2" stroke="#5ac8ff" stroke-width="0.8" opacity="0.25"/>
<line x1="558.7" y1="178.8" x2="562.2" y2="175.3" stroke="#5ac8ff" stroke-width="0.8" opacity="0.45"/>
<line x1="448.7" y1="278.6" x2="437.8" y2="287.3" stroke="#5ac8ff" stroke-width="0.8" opacity="0.37"/>
<line x1="566.1" y1="276.4" x2="570.9" y2="280.0" stroke="#5ac8ff" stroke-width="0.8" opacity="0.52"/>
<line x1="566.1" y1="273.7" x2="573.0" y2="278.6" stroke="#5ac8ff" stroke-width="0.8" opacity="0.31"/>
<line x1="562.0" y1="181.9" x2="566.7" y2="177.7" stroke="#5ac8ff" stroke-width="0.8" opacity="0.68"/>
<line x1="435.8" y1="212.2" x2="428.0" y2="210.1" stroke="#5ac8ff" stroke-width="0.8" opacity="0.54"/>
<line x1="554.5" y1="176.0" x2="559.6" y2="169.9" stroke="#5ac8ff" stroke-width="0.8" opacity="0.59"/>
<line x1="502.8" y1="160.1" x2="502.1" y2="146.4" stroke="#5ac8ff" stroke-width="0.8" opacity="0.48"/>
<line x1="551.7" y1="289.6" x2="554.6" y2="293.3" stroke="#5ac8ff" stroke-width="0.8" opacity="0.35"/>
<line x1="580.8" y1="239.6" x2="585.7" y2="240.1" stroke="#5ac8ff" stroke-width="0.8" opacity="0.60"/>
<line x1="581.0" y1="239.2" x2="594.8" y2="240.6" stroke="#5ac8ff" stroke-width="0.8" opacity="0.31"/>
<line x1="578.7" y1="214.9" x2="588.5" y2="212.6" stroke="#5ac8ff" stroke-width="0.8" opacity="0.34"/>
<line x1="580.6" y1="231.4" x2="587.1" y2="231.4" stroke="#5ac8ff" stroke-width="0.8" opacity="0.69"/>
<line x1="490.2" y1="159.3" x2="489.3" y2="155.3" stroke="#5ac8ff" stroke-width="0.8" opacity="0.49"/>
<line x1="435.4" y1="215.6" x2="430.7" y2="214.5" stroke="#5ac8ff" stroke-width="0.8" opacity="0.51"/>
<line x1="435.4" y1="217.4" x2="428.8" y2="216.0" stroke="#5ac8ff" stroke-width="0.8" opacity="0.47"/>
<line x1="493.2" y1="160.5" x2="491.4" y2="151.4" stroke="#5ac8ff" stroke-width="0.8" opacity="0.61"/>
<line x1="493.0" y1="159.9" x2="491.7" y2="153.2" stroke="#5ac8ff" stroke-width="0.8" opacity="0.29"/>
<line x1="506.0" y1="305.7" x2="505.9" y2="310.4" stroke="#5ac8ff" stroke-width="0.8" opacity="0.51"/>
<line x1="574.1" y1="199.6" x2="582.9" y2="195.3" stroke="#5ac8ff" stroke-width="0.8" opacity="0.64"/>
<line x1="456.1" y1="179.3" x2="451.9" y2="175.0" stroke="#5ac8ff" stroke-width="0.8" opacity="0.59"/>
<path d="M489,186 C490,178 494,168 500,161" fill="none" stroke="#e6e060" stroke-width="1" opacity="0.8"/>
<path d="M374.2,303.0 A128.8,28.5 0 0 0 631.8,303.0" fill="none" stroke="#3aa4ff" stroke-width="2.6" opacity="0.86" stroke-dasharray="88,8,84,14,69,8,56,7,63,24" stroke-dashoffset="242"/>
<path d="M367.5,304.4 A135.5,30.4 0 0 0 638.5,304.4" fill="none" stroke="#3aa4ff" stroke-width="2.2" opacity="0.90" stroke-dasharray="69,7,21,16,25,8,39,5,57,14,87,15,71,15" stroke-dashoffset="266"/>
<path d="M361.9,305.9 A141.1,32.2 0 0 0 644.1,305.9" fill="none" stroke="#3aa4ff" stroke-width="1.8" opacity="0.97" stroke-dasharray="100,22,77,11,38,10,26,21,52,23,51,25" stroke-dashoffset="354"/>
<path d="M357.6,307.3 A145.4,34.1 0 0 0 648.4,307.3" fill="none" stroke="#1a80ff" stroke-width="1.4" opacity="0.83" stroke-dasharray="98,13,26,18,82,10,27,11,97,21" stroke-dashoffset="51"/>
<path d="M350.4,308.7 A152.6,35.9 0 0 0 655.6,308.7" fill="none" stroke="#1a80ff" stroke-width="1.0" opacity="0.72" stroke-dasharray="84,8,65,14,35,20,30,18,29,13,37,10,98,22" stroke-dashoffset="138"/>
<path d="M341.7,310.1 A161.3,37.8 0 0 0 664.3,310.1" fill="none" stroke="#2a94ff" stroke-width="1.4" opacity="0.79" stroke-dasharray="88,18,28,26,37,10,82,11,44,6,27,17,39,17" stroke-dashoffset="178"/>
<path d="M337.3,311.6 A165.7,39.6 0 0 0 668.7,311.6" fill="none" stroke="#3aa4ff" stroke-width="2.6" opacity="0.88" stroke-dasharray="31,12,70,11,38,17,78,7,70,16,75,13,59,6" stroke-dashoffset="23"/>
<path d="M332.6,313.0 A170.4,41.5 0 0 0 673.4,313.0" fill="none" stroke="#1a70ea" stroke-width="2.6" opacity="0.73" stroke-dasharray="76,10,86,17,43,8,78,6,38,16,88,18" stroke-dashoffset="142"/>
<path d="M323.2,314.4 A179.8,43.4 0 0 0 682.8,314.4" fill="none" stroke="#1a80ff" stroke-width="1.4" opacity="0.68" stroke-dasharray="53,9,24,10,62,25,27,7,56,11,79,15,96,17,94,14" stroke-dashoffset="191"/>
<path d="M319.5,315.9 A183.5,45.2 0 0 0 686.5,315.9" fill="none" stroke="#1a80ff" stroke-width="1.0" opacity="0.78" stroke-dasharray="26,5,45,7,26,14,49,5,95,20,30,25,47,6,58,6,89,25" stroke-dashoffset="17"/>
<path d="M312.6,317.3 A190.4,47.1 0 0 0 693.4,317.3" fill="none" stroke="#2088ff" stroke-width="1.0" opacity="0.78" stroke-dasharray="50,4,26,6,29,10,53,11,95,19,57,14,63,15,61,11" stroke-dashoffset="50"/>
<path d="M308.3,318.7 A194.7,48.9 0 0 0 697.7,318.7" fill="none" stroke="#3aa4ff" stroke-width="1.0" opacity="0.80" stroke-dasharray="73,15,92,12,31,17,61,21,47,24,60,9,52,10,71,22" stroke-dashoffset="437"/>
<path d="M301.5,320.1 A201.5,50.8 0 0 0 704.5,320.1" fill="none" stroke="#3aa4ff" stroke-width="1.4" opacity="0.67" stroke-dasharray="94,9,31,12,92,5,25,26,86,6,58,24,86,12" stroke-dashoffset="312"/>
<path d="M293.5,321.6 A209.5,52.6 0 0 0 712.5,321.6" fill="none" stroke="#3aa4ff" stroke-width="2.6" opacity="0.68" stroke-dasharray="86,10,69,19,42,12,72,16,71,13,35,21,41,21,84,26" stroke-dashoffset="72"/>
<path d="M289.6,323.0 A213.4,54.5 0 0 0 716.4,323.0" fill="none" stroke="#1a70ea" stroke-width="2.6" opacity="0.79" stroke-dasharray="75,8,58,8,21,14,77,8,42,12,76,15,69,21,51,21,92,6" stroke-dashoffset="593"/>
<ellipse cx="438.8" cy="360.6" rx="2" ry="1" fill="#c8f4ff" opacity="0.85"/>
<ellipse cx="353.0" cy="354.1" rx="2" ry="1" fill="#c8f4ff" opacity="0.85"/>
<ellipse cx="376.8" cy="358.9" rx="2" ry="1" fill="#c8f4ff" opacity="0.85"/>
<ellipse cx="667.8" cy="322.1" rx="2" ry="1" fill="#c8f4ff" opacity="0.85"/>
<ellipse cx="329.8" cy="329.3" rx="2" ry="1" fill="#c8f4ff" opacity="0.85"/>
<ellipse cx="371.3" cy="321.0" rx="2" ry="1" fill="#c8f4ff" opacity="0.85"/>
<ellipse cx="516.5" cy="345.0" rx="2" ry="1" fill="#c8f4ff" opacity="0.85"/>
<ellipse cx="481.1" cy="356.9" rx="2" ry="1" fill="#c8f4ff" opacity="0.85"/>
<ellipse cx="652.6" cy="315.3" rx="2" ry="1" fill="#c8f4ff" opacity="0.85"/>
<ellipse cx="620.2" cy="360.4" rx="2" ry="1" fill="#c8f4ff" opacity="0.85"/>
<ellipse cx="401.6" cy="332.7" rx="2" ry="1" fill="#c8f4ff" opacity="0.85"/>
<ellipse cx="393.4" cy="329.9" rx="2" ry="1" fill="#c8f4ff" opacity="0.85"/>
<ellipse cx="455.3" cy="338.9" rx="2" ry="1" fill="#c8f4ff" opacity="0.85"/>
<ellipse cx="698.0" cy="326.9" rx="2" ry="1" fill="#c8f4ff" opacity="0.85"/>
<ellipse cx="614.6" cy="332.7" rx="2" ry="1" fill="#c8f4ff" opacity="0.85"/>
<ellipse cx="309.6" cy="329.1" rx="2" ry="1" fill="#c8f4ff" opacity="0.85"/>
<ellipse cx="503" cy="301" rx="118" ry="25" fill="url(#innerdisc)"/>
<ellipse cx="503" cy="302.0" rx="55" ry="11.5" fill="none" stroke="#2aa0ff" stroke-width="1.2" opacity="0.55" stroke-dasharray="30,10"/>
<ellipse cx="503" cy="302.5" rx="67" ry="14.1" fill="none" stroke="#2aa0ff" stroke-width="1.2" opacity="0.55" stroke-dasharray="30,10"/>
<ellipse cx="503" cy="303.0" rx="79" ry="16.6" fill="none" stroke="#2aa0ff" stroke-width="1.2" opacity="0.55" stroke-dasharray="30,10"/>
<ellipse cx="503" cy="303.5" rx="91" ry="19.1" fill="none" stroke="#2aa0ff" stroke-width="1.2" opacity="0.55" stroke-dasharray="30,10"/>
<ellipse cx="503" cy="304.0" rx="103" ry="21.6" fill="none" stroke="#2aa0ff" stroke-width="1.2" opacity="0.55" stroke-dasharray="30,10"/>
<ellipse cx="503" cy="302" rx="116" ry="25" fill="none" stroke="#10c0ff" stroke-width="18" opacity="0.55" filter="url(#blur3)"/>
<ellipse cx="503" cy="302" rx="115" ry="24" fill="none" stroke="#18c8ff" stroke-width="8"/>
<path d="M389,303 A114,24 0 0 0 617,303" fill="none" stroke="#18c8ff" stroke-width="9" transform="translate(0,3)"/>
<ellipse cx="503" cy="302" rx="116" ry="24" fill="none" stroke="#7ae8ff" stroke-width="2" opacity="0.7"/>
<ellipse cx="503" cy="299" rx="40" ry="9" fill="url(#flare)"/>
<ellipse cx="503" cy="299" rx="14" ry="5" fill="#ffffff" opacity="0.9" filter="url(#blur2)"/>
<rect x="505" y="61" width="80" height="42" fill="url(#kpibg)"/>
<circle cx="497" cy="82" r="22" fill="url(#kpiglow)"/>
<circle cx="497" cy="82" r="19.5" fill="#0e2468" stroke="#2aa6ff" stroke-width="2"/>
<circle cx="497" cy="82" r="16" fill="none" stroke="#2a6fd0" stroke-width="0.8"/>
<ellipse cx="497" cy="103" rx="7" ry="1.5" fill="#8fe0ff" opacity="0.8" filter="url(#blur1)"/>
<path d="M497,71 C500,75 504.5,80 504.5,84 C504.5,88 501,90 497,90 C493,90 489.5,88 489.5,84 C489.5,80 494,75 497,71 Z" fill="url(#goldg)"/><path d="M498,78 L494.5,83.5 L497,83.5 L496,87.5 L499.5,82 L497,82 Z" fill="#1a2a6a"/>
<text x="525" y="76.5" font-size="8.5" fill="#e6ecff" style="font-family:'Liberation Sans','Noto Sans CJK SC',sans-serif">基础成本</text>
<text x="525" y="95.5" fill="#f6d23c" style="font-family:'Liberation Sans','Noto Sans CJK SC',sans-serif;font-weight:bold"><tspan font-size="15.8">7585</tspan><tspan font-size="11">万元</tspan></text>
<rect x="376" y="116" width="80" height="42" fill="url(#kpibg)"/>
<circle cx="368" cy="137" r="22" fill="url(#kpiglow)"/>
<circle cx="368" cy="137" r="19.5" fill="#0e2468" stroke="#2aa6ff" stroke-width="2"/>
<circle cx="368" cy="137" r="16" fill="none" stroke="#2a6fd0" stroke-width="0.8"/>
<ellipse cx="368" cy="158" rx="7" ry="1.5" fill="#8fe0ff" opacity="0.8" filter="url(#blur1)"/>
<rect x="362" y="127" width="12" height="9" rx="1.5" fill="#ffe08a"/><rect x="364.5" y="129.5" width="7" height="1.6" fill="#c9962a"/><path d="M359,134 L365,134 L367,136 L377,136 L377,145 L359,145 Z" fill="url(#goldg)"/><circle cx="361" cy="139" r="1" fill="#1a2a6a"/>
<text x="396" y="131.5" font-size="8.5" fill="#e6ecff" style="font-family:'Liberation Sans','Noto Sans CJK SC',sans-serif">研发成本</text>
<text x="396" y="150.5" fill="#f6d23c" style="font-family:'Liberation Sans','Noto Sans CJK SC',sans-serif;font-weight:bold"><tspan font-size="15.8">2635</tspan><tspan font-size="11">万元</tspan></text>
<rect x="637" y="116" width="80" height="42" fill="url(#kpibg)"/>
<circle cx="629" cy="137" r="22" fill="url(#kpiglow)"/>
<circle cx="629" cy="137" r="19.5" fill="#0e2468" stroke="#2aa6ff" stroke-width="2"/>
<circle cx="629" cy="137" r="16" fill="none" stroke="#2a6fd0" stroke-width="0.8"/>
<ellipse cx="629" cy="158" rx="7" ry="1.5" fill="#8fe0ff" opacity="0.8" filter="url(#blur1)"/>
<rect x="622" y="128" width="14" height="17" rx="1.5" fill="url(#goldg)"/><text x="629" y="137.5" font-size="7" text-anchor="middle" fill="#2a2a5a" style="font-family:'Liberation Sans','Noto Sans CJK SC',sans-serif;font-weight:bold">¥</text><rect x="625.5" y="139" width="7" height="1" fill="#2a2a5a"/><rect x="625.5" y="141" width="7" height="1" fill="#2a2a5a"/>
<text x="657" y="131.5" font-size="8.5" fill="#e6ecff" style="font-family:'Liberation Sans','Noto Sans CJK SC',sans-serif">生产成本</text>
<text x="657" y="150.5" fill="#f6d23c" style="font-family:'Liberation Sans','Noto Sans CJK SC',sans-serif;font-weight:bold"><tspan font-size="15.8">2465</tspan><tspan font-size="11">万元</tspan></text>
<polygon points="102,96.5 236,96.5 236,113.5 96,113.5" fill="url(#tbg)"/>
<line x1="102" y1="97.0" x2="236" y2="97.0" stroke="url(#tln)" stroke-width="1"/>
<line x1="96" y1="113.0" x2="236" y2="113.0" stroke="url(#tln2)" stroke-width="1.5"/>
<polyline points="106,97.0 102,97.0 95,112.5 100,113.0" fill="none" stroke="#29d3ff" stroke-width="1.2" opacity="0.9"/>
<text x="109.5" y="108.2" font-size="9" fill="#eef3ff" style="font-family:'Liberation Sans','Noto Sans CJK SC',sans-serif">本月预算提报&amp;支付情况</text>
<circle cx="131" cy="167.5" r="44" fill="url(#donutbg)"/>
<circle cx="131" cy="167.5" r="40.5" fill="none" stroke="#2458b8" stroke-width="0.8" stroke-dasharray="1.5,1.5"/>
<circle cx="131" cy="167.5" r="26.5" fill="none" stroke="#5b74d2" stroke-width="17"/>
<path d="M131.00,132.50 A35.0,35.0 0 0 0 97.52,177.70 L113.78,172.75 A18.0,18.0 0 0 1 131.00,149.50 Z" fill="#fb7d06"/>
<circle cx="131" cy="167.5" r="18.5" fill="#0a1638"/>
<circle cx="131" cy="167.5" r="16" fill="url(#cenbg)" stroke="#1d5fb0" stroke-width="1.2"/>
<rect x="125" y="161.0" width="10" height="12.5" rx="1" fill="none" stroke="#6fcaff" stroke-width="1.3"/>
<line x1="127" y1="164.5" x2="133" y2="164.5" stroke="#6fcaff" stroke-width="1"/>
<line x1="127" y1="167.5" x2="133" y2="167.5" stroke="#6fcaff" stroke-width="1"/>
<line x1="127" y1="170.5" x2="133" y2="170.5" stroke="#6fcaff" stroke-width="1"/>
<line x1="127" y1="159.0" x2="127" y2="161.5" stroke="#6fcaff" stroke-width="0.9"/>
<line x1="129.5" y1="159.0" x2="129.5" y2="161.5" stroke="#6fcaff" stroke-width="0.9"/>
<line x1="132" y1="159.0" x2="132" y2="161.5" stroke="#6fcaff" stroke-width="0.9"/>
<line x1="134.5" y1="159.0" x2="134.5" y2="161.5" stroke="#6fcaff" stroke-width="0.9"/>
<circle cx="135.5" cy="171.5" r="3.3" fill="#2f9cf0" stroke="#0a1638" stroke-width="0.8"/>
<rect x="135.1" y="170.0" width="0.9" height="3.2" fill="#0a1638"/>
<rect x="177" y="157" width="6" height="6" fill="#5b74d2"/>
<text x="185.5" y="163.3" font-size="8.7" fill="#cfd4e6" style="font-family:'Liberation Sans','Noto Sans CJK SC',sans-serif">预算提报金额</text>
<text x="241" y="164.3" fill="#f2dc3c" style="font-family:'Liberation Sans','Noto Sans CJK SC',sans-serif;font-weight:bold"><tspan font-size="12.5">838.16</tspan><tspan font-size="9" dx="0.5">万元</tspan></text>
<rect x="177" y="172" width="6" height="6" fill="#fb7d06"/>
<text x="185.5" y="178.3" font-size="8.7" fill="#cfd4e6" style="font-family:'Liberation Sans','Noto Sans CJK SC',sans-serif">预算支付金额</text>
<text x="241" y="179.3" fill="#f2dc3c" style="font-family:'Liberation Sans','Noto Sans CJK SC',sans-serif;font-weight:bold"><tspan font-size="12.5">354.25</tspan><tspan font-size="9" dx="0.5">万元</tspan></text>
<polygon points="73,237.5 217,237.5 217,254.5 67,254.5" fill="url(#tbg)"/>
<line x1="73" y1="238.0" x2="217" y2="238.0" stroke="url(#tln)" stroke-width="1"/>
<line x1="67" y1="254.0" x2="217" y2="254.0" stroke="url(#tln2)" stroke-width="1.5"/>
<polyline points="77,238.0 73,238.0 66,253.5 71,254.0" fill="none" stroke="#29d3ff" stroke-width="1.2" opacity="0.9"/>
<text x="80" y="249.2" font-size="9" fill="#eef3ff" style="font-family:'Liberation Sans','Noto Sans CJK SC',sans-serif">当前预算提报&amp;支付对比趋势</text>
<text x="67.5" y="265.8" font-size="7.5" fill="#e0e4f0" style="font-family:'Liberation Sans','Noto Sans CJK SC',sans-serif">万元</text>
<text x="76.5" y="377.8" font-size="7.3" fill="#c7cde0" text-anchor="end" style="font-family:'Liberation Sans','Noto Sans CJK SC',sans-serif">0</text>
<line x1="80.7" y1="360.85714285714283" x2="294" y2="360.85714285714283" stroke="rgba(220,225,240,0.45)" stroke-width="0.8" stroke-dasharray="3,2"/>
<text x="76.5" y="363.5" font-size="7.3" fill="#c7cde0" text-anchor="end" style="font-family:'Liberation Sans','Noto Sans CJK SC',sans-serif">10</text>
<line x1="80.7" y1="346.5142857142857" x2="294" y2="346.5142857142857" stroke="rgba(220,225,240,0.45)" stroke-width="0.8" stroke-dasharray="3,2"/>
<text x="76.5" y="349.1" font-size="7.3" fill="#c7cde0" text-anchor="end" style="font-family:'Liberation Sans','Noto Sans CJK SC',sans-serif">20</text>
<line x1="80.7" y1="332.1714285714286" x2="294" y2="332.1714285714286" stroke="rgba(220,225,240,0.45)" stroke-width="0.8" stroke-dasharray="3,2"/>
<text x="76.5" y="334.8" font-size="7.3" fill="#c7cde0" text-anchor="end" style="font-family:'Liberation Sans','Noto Sans CJK SC',sans-serif">30</text>
<line x1="80.7" y1="317.8285714285714" x2="294" y2="317.8285714285714" stroke="rgba(220,225,240,0.45)" stroke-width="0.8" stroke-dasharray="3,2"/>
<text x="76.5" y="320.4" font-size="7.3" fill="#c7cde0" text-anchor="end" style="font-family:'Liberation Sans','Noto Sans CJK SC',sans-serif">40</text>
<line x1="80.7" y1="303.48571428571427" x2="294" y2="303.48571428571427" stroke="rgba(220,225,240,0.45)" stroke-width="0.8" stroke-dasharray="3,2"/>
<text x="76.5" y="306.1" font-size="7.3" fill="#c7cde0" text-anchor="end" style="font-family:'Liberation Sans','Noto Sans CJK SC',sans-serif">50</text>
<line x1="80.7" y1="289.1428571428571" x2="294" y2="289.1428571428571" stroke="rgba(220,225,240,0.45)" stroke-width="0.8" stroke-dasharray="3,2"/>
<text x="76.5" y="291.7" font-size="7.3" fill="#c7cde0" text-anchor="end" style="font-family:'Liberation Sans','Noto Sans CJK SC',sans-serif">60</text>
<line x1="80.7" y1="274.79999999999995" x2="294" y2="274.79999999999995" stroke="rgba(220,225,240,0.45)" stroke-width="0.8" stroke-dasharray="3,2"/>
<text x="76.5" y="277.4" font-size="7.3" fill="#c7cde0" text-anchor="end" style="font-family:'Liberation Sans','Noto Sans CJK SC',sans-serif">70</text>
<line x1="80.7" y1="375.2" x2="294" y2="375.2" stroke="#c8ccd8" stroke-width="1"/>
<path d="M84.0,375.2 L84.0,332.9 A2.2,2.2 0 0 1 88.4,332.9 L88.4,375.2 Z" fill="url(#gcyan)"/>
<path d="M89.8,375.2 L89.8,332.9 A2.2,2.2 0 0 1 94.2,332.9 L94.2,375.2 Z" fill="url(#gorange)"/>
<text x="89.6" y="390.5" font-size="7.3" fill="#c7cde0" text-anchor="middle" style="font-family:'Liberation Sans','Noto Sans CJK SC',sans-serif">1月</text>
<path d="M101.8,375.2 L101.8,344.4 A2.2,2.2 0 0 1 106.2,344.4 L106.2,375.2 Z" fill="url(#gcyan)"/>
<path d="M107.6,375.2 L107.6,344.4 A2.2,2.2 0 0 1 112.0,344.4 L112.0,375.2 Z" fill="url(#gorange)"/>
<path d="M119.5,375.2 L119.5,327.2 A2.2,2.2 0 0 1 123.9,327.2 L123.9,375.2 Z" fill="url(#gcyan)"/>
<path d="M125.3,375.2 L125.3,334.4 A2.2,2.2 0 0 1 129.7,334.4 L129.7,375.2 Z" fill="url(#gorange)"/>
<text x="125.1" y="390.5" font-size="7.3" fill="#c7cde0" text-anchor="middle" style="font-family:'Liberation Sans','Noto Sans CJK SC',sans-serif">3月</text>
<path d="M137.3,375.2 L137.3,299.9 A2.2,2.2 0 0 1 141.7,299.9 L141.7,375.2 Z" fill="url(#gcyan)"/>
<path d="M143.1,375.2 L143.1,285.6 A2.2,2.2 0 0 1 147.5,285.6 L147.5,375.2 Z" fill="url(#gorange)"/>
<path d="M155.1,375.2 L155.1,344.4 A2.2,2.2 0 0 1 159.5,344.4 L159.5,375.2 Z" fill="url(#gcyan)"/>
<path d="M160.9,375.2 L160.9,334.4 A2.2,2.2 0 0 1 165.3,334.4 L165.3,375.2 Z" fill="url(#gorange)"/>
<text x="160.7" y="390.5" font-size="7.3" fill="#c7cde0" text-anchor="middle" style="font-family:'Liberation Sans','Noto Sans CJK SC',sans-serif">5月</text>
<path d="M172.9,375.2 L172.9,298.5 A2.2,2.2 0 0 1 177.3,298.5 L177.3,375.2 Z" fill="url(#gcyan)"/>
<path d="M178.7,375.2 L178.7,343.0 A2.2,2.2 0 0 1 183.1,343.0 L183.1,375.2 Z" fill="url(#gorange)"/>
<path d="M190.6,375.2 L190.6,298.5 A2.2,2.2 0 0 1 195.0,298.5 L195.0,375.2 Z" fill="url(#gcyan)"/>
<path d="M196.4,375.2 L196.4,327.2 A2.2,2.2 0 0 1 200.8,327.2 L200.8,375.2 Z" fill="url(#gorange)"/>
<text x="196.2" y="390.5" font-size="7.3" fill="#c7cde0" text-anchor="middle" style="font-family:'Liberation Sans','Noto Sans CJK SC',sans-serif">7月</text>
<path d="M208.4,375.2 L208.4,298.5 A2.2,2.2 0 0 1 212.8,298.5 L212.8,375.2 Z" fill="url(#gcyan)"/>
<path d="M214.2,375.2 L214.2,285.6 A2.2,2.2 0 0 1 218.6,285.6 L218.6,375.2 Z" fill="url(#gorange)"/>
<path d="M226.2,375.2 L226.2,298.5 A2.2,2.2 0 0 1 230.6,298.5 L230.6,375.2 Z" fill="url(#gcyan)"/>
<path d="M232.0,375.2 L232.0,332.9 A2.2,2.2 0 0 1 236.4,332.9 L236.4,375.2 Z" fill="url(#gorange)"/>
<text x="231.8" y="390.5" font-size="7.3" fill="#c7cde0" text-anchor="middle" style="font-family:'Liberation Sans','Noto Sans CJK SC',sans-serif">9月</text>
<path d="M244.0,375.2 L244.0,298.5 A2.2,2.2 0 0 1 248.4,298.5 L248.4,375.2 Z" fill="url(#gcyan)"/>
<path d="M249.8,375.2 L249.8,344.4 A2.2,2.2 0 0 1 254.2,344.4 L254.2,375.2 Z" fill="url(#gorange)"/>
<path d="M261.7,375.2 L261.7,301.4 A2.2,2.2 0 0 1 266.1,301.4 L266.1,375.2 Z" fill="url(#gcyan)"/>
<path d="M267.5,375.2 L267.5,285.6 A2.2,2.2 0 0 1 271.9,285.6 L271.9,375.2 Z" fill="url(#gorange)"/>
<text x="267.3" y="390.5" font-size="7.3" fill="#c7cde0" text-anchor="middle" style="font-family:'Liberation Sans','Noto Sans CJK SC',sans-serif">11月</text>
<path d="M279.5,375.2 L279.5,327.2 A2.2,2.2 0 0 1 283.9,327.2 L283.9,375.2 Z" fill="url(#gcyan)"/>
<path d="M285.3,375.2 L285.3,310.0 A2.2,2.2 0 0 1 289.7,310.0 L289.7,375.2 Z" fill="url(#gorange)"/>
<rect x="222" y="255" width="6" height="6" rx="1" fill="#1ab0f0"/>
<text x="230" y="260.6" font-size="6.8" fill="#d8dcea" style="font-family:'Liberation Sans','Noto Sans CJK SC',sans-serif">预算提报</text>
<rect x="261" y="255" width="6" height="6" rx="1" fill="#ffb400"/>
<text x="269" y="260.6" font-size="6.8" fill="#d8dcea" style="font-family:'Liberation Sans','Noto Sans CJK SC',sans-serif">预算支付</text>
<polygon points="102,399.5 246,399.5 246,416.5 96,416.5" fill="url(#tbg)"/>
<line x1="102" y1="400.0" x2="246" y2="400.0" stroke="url(#tln)" stroke-width="1"/>
<line x1="96" y1="416.0" x2="246" y2="416.0" stroke="url(#tln2)" stroke-width="1.5"/>
<polyline points="106,400.0 102,400.0 95,415.5 100,416.0" fill="none" stroke="#29d3ff" stroke-width="1.2" opacity="0.9"/>
<text x="110.5" y="411.2" font-size="9" fill="#eef3ff" style="font-family:'Liberation Sans','Noto Sans CJK SC',sans-serif">当前各板块预算提报&amp;支付情况</text>
<text x="104" y="442.5" font-size="7.3" fill="#e0e4f0" style="font-family:'Liberation Sans','Noto Sans CJK SC',sans-serif">万元</text>
<text x="112" y="523.7" font-size="7.3" fill="#c7cde0" text-anchor="end" style="font-family:'Liberation Sans','Noto Sans CJK SC',sans-serif">0</text>
<line x1="116" y1="507.1" x2="329.6" y2="507.1" stroke="rgba(220,225,240,0.45)" stroke-width="0.8" stroke-dasharray="3,2"/>
<text x="112" y="509.7" font-size="7.3" fill="#c7cde0" text-anchor="end" style="font-family:'Liberation Sans','Noto Sans CJK SC',sans-serif">50</text>
<line x1="116" y1="493.1" x2="329.6" y2="493.1" stroke="rgba(220,225,240,0.45)" stroke-width="0.8" stroke-dasharray="3,2"/>
<text x="112" y="495.7" font-size="7.3" fill="#c7cde0" text-anchor="end" style="font-family:'Liberation Sans','Noto Sans CJK SC',sans-serif">100</text>
<line x1="116" y1="479.1" x2="329.6" y2="479.1" stroke="rgba(220,225,240,0.45)" stroke-width="0.8" stroke-dasharray="3,2"/>
<text x="112" y="481.7" font-size="7.3" fill="#c7cde0" text-anchor="end" style="font-family:'Liberation Sans','Noto Sans CJK SC',sans-serif">150</text>
<line x1="116" y1="465.1" x2="329.6" y2="465.1" stroke="rgba(220,225,240,0.45)" stroke-width="0.8" stroke-dasharray="3,2"/>
<text x="112" y="467.7" font-size="7.3" fill="#c7cde0" text-anchor="end" style="font-family:'Liberation Sans','Noto Sans CJK SC',sans-serif">200</text>
<line x1="116" y1="451.1" x2="329.6" y2="451.1" stroke="rgba(220,225,240,0.45)" stroke-width="0.8" stroke-dasharray="3,2"/>
<text x="112" y="453.7" font-size="7.3" fill="#c7cde0" text-anchor="end" style="font-family:'Liberation Sans','Noto Sans CJK SC',sans-serif">250</text>
<line x1="116" y1="521.1" x2="329.6" y2="521.1" stroke="#c8ccd8" stroke-width="1"/>
<polyline points="123.6,507.1 138.9,479.1 154.1,502.3 169.4,491.7 184.7,474.1 199.9,501.5 215.2,467.9 230.4,507.7 245.7,501.5 260.9,470.7 276.2,502.9 291.5,469.3 306.7,502.9 322.0,491.7" fill="none" stroke="#16a8e0" stroke-width="1.3"/>
<polyline points="123.6,501.5 138.9,496.5 154.1,467.1 169.4,457.3 184.7,501.5 199.9,493.1 215.2,500.7 230.4,493.1 245.7,496.5 260.9,493.7 276.2,466.5 291.5,499.3 306.7,502.1 322.0,468.5" fill="none" stroke="#d65ab0" stroke-width="1.3"/>
<circle cx="123.6" cy="507.1" r="1.3" fill="#16a8e0"/>
<circle cx="138.9" cy="479.1" r="1.3" fill="#16a8e0"/>
<circle cx="154.1" cy="502.3" r="1.3" fill="#16a8e0"/>
<circle cx="169.4" cy="491.7" r="1.3" fill="#16a8e0"/>
<circle cx="184.7" cy="474.1" r="1.3" fill="#16a8e0"/>
<circle cx="199.9" cy="501.5" r="1.3" fill="#16a8e0"/>
<circle cx="215.2" cy="467.9" r="1.3" fill="#16a8e0"/>
<circle cx="230.4" cy="507.7" r="1.3" fill="#16a8e0"/>
<circle cx="245.7" cy="501.5" r="1.3" fill="#16a8e0"/>
<circle cx="260.9" cy="470.7" r="1.3" fill="#16a8e0"/>
<circle cx="276.2" cy="502.9" r="1.3" fill="#16a8e0"/>
<circle cx="291.5" cy="469.3" r="1.3" fill="#16a8e0"/>
<circle cx="306.7" cy="502.9" r="1.3" fill="#16a8e0"/>
<circle cx="322.0" cy="491.7" r="1.3" fill="#16a8e0"/>
<circle cx="123.6" cy="501.5" r="1.3" fill="#d65ab0"/>
<circle cx="138.9" cy="496.5" r="1.3" fill="#d65ab0"/>
<circle cx="154.1" cy="467.1" r="1.3" fill="#d65ab0"/>
<circle cx="169.4" cy="457.3" r="1.3" fill="#d65ab0"/>
<circle cx="184.7" cy="501.5" r="1.3" fill="#d65ab0"/>
<circle cx="199.9" cy="493.1" r="1.3" fill="#d65ab0"/>
<circle cx="215.2" cy="500.7" r="1.3" fill="#d65ab0"/>
<circle cx="230.4" cy="493.1" r="1.3" fill="#d65ab0"/>
<circle cx="245.7" cy="496.5" r="1.3" fill="#d65ab0"/>
<circle cx="260.9" cy="493.7" r="1.3" fill="#d65ab0"/>
<circle cx="276.2" cy="466.5" r="1.3" fill="#d65ab0"/>
<circle cx="291.5" cy="499.3" r="1.3" fill="#d65ab0"/>
<circle cx="306.7" cy="502.1" r="1.3" fill="#d65ab0"/>
<circle cx="322.0" cy="468.5" r="1.3" fill="#d65ab0"/>
<text x="126.6" y="527" font-size="7.2" fill="#c7cde0" text-anchor="end" transform="rotate(-45 126.6 527)" style="font-family:'Liberation Sans','Noto Sans CJK SC',sans-serif">山东</text>
<text x="141.9" y="527" font-size="7.2" fill="#c7cde0" text-anchor="end" transform="rotate(-45 141.9 527)" style="font-family:'Liberation Sans','Noto Sans CJK SC',sans-serif">黑龙江</text>
<text x="157.1" y="527" font-size="7.2" fill="#c7cde0" text-anchor="end" transform="rotate(-45 157.1 527)" style="font-family:'Liberation Sans','Noto Sans CJK SC',sans-serif">北京</text>
<text x="172.4" y="527" font-size="7.2" fill="#c7cde0" text-anchor="end" transform="rotate(-45 172.4 527)" style="font-family:'Liberation Sans','Noto Sans CJK SC',sans-serif">上海</text>
<text x="187.7" y="527" font-size="7.2" fill="#c7cde0" text-anchor="end" transform="rotate(-45 187.7 527)" style="font-family:'Liberation Sans','Noto Sans CJK SC',sans-serif">内蒙古</text>
<text x="202.9" y="527" font-size="7.2" fill="#c7cde0" text-anchor="end" transform="rotate(-45 202.9 527)" style="font-family:'Liberation Sans','Noto Sans CJK SC',sans-serif">河南</text>
<text x="218.2" y="527" font-size="7.2" fill="#c7cde0" text-anchor="end" transform="rotate(-45 218.2 527)" style="font-family:'Liberation Sans','Noto Sans CJK SC',sans-serif">湖北</text>
<text x="233.4" y="527" font-size="7.2" fill="#c7cde0" text-anchor="end" transform="rotate(-45 233.4 527)" style="font-family:'Liberation Sans','Noto Sans CJK SC',sans-serif">内蒙</text>
<text x="248.7" y="527" font-size="7.2" fill="#c7cde0" text-anchor="end" transform="rotate(-45 248.7 527)" style="font-family:'Liberation Sans','Noto Sans CJK SC',sans-serif">河北</text>
<text x="263.9" y="527" font-size="7.2" fill="#c7cde0" text-anchor="end" transform="rotate(-45 263.9 527)" style="font-family:'Liberation Sans','Noto Sans CJK SC',sans-serif">研发中心</text>
<text x="279.2" y="527" font-size="7.2" fill="#c7cde0" text-anchor="end" transform="rotate(-45 279.2 527)" style="font-family:'Liberation Sans','Noto Sans CJK SC',sans-serif">技术中心</text>
<text x="294.5" y="527" font-size="7.2" fill="#c7cde0" text-anchor="end" transform="rotate(-45 294.5 527)" style="font-family:'Liberation Sans','Noto Sans CJK SC',sans-serif">后勤支撑</text>
<text x="309.7" y="527" font-size="7.2" fill="#c7cde0" text-anchor="end" transform="rotate(-45 309.7 527)" style="font-family:'Liberation Sans','Noto Sans CJK SC',sans-serif">运营部</text>
<text x="325.0" y="527" font-size="7.2" fill="#c7cde0" text-anchor="end" transform="rotate(-45 325.0 527)" style="font-family:'Liberation Sans','Noto Sans CJK SC',sans-serif">总部办</text>
<line x1="233" y1="437.6" x2="243" y2="437.6" stroke="#16a8e0" stroke-width="1.5"/>
<text x="246" y="440.6" font-size="8.2" fill="#d8dcea" style="font-family:'Liberation Sans','Noto Sans CJK SC',sans-serif">预算提报</text>
<line x1="281" y1="437.6" x2="292" y2="437.6" stroke="#d65ab0" stroke-width="1.5"/>
<text x="295" y="440.6" font-size="8.2" fill="#d8dcea" style="font-family:'Liberation Sans','Noto Sans CJK SC',sans-serif">预算支付</text>
<polygon points="754,96.5 878,96.5 878,113.5 748,113.5" fill="url(#tbg)"/>
<line x1="754" y1="97.0" x2="878" y2="97.0" stroke="url(#tln)" stroke-width="1"/>
<line x1="748" y1="113.0" x2="878" y2="113.0" stroke="url(#tln2)" stroke-width="1.5"/>
<polyline points="758,97.0 754,97.0 747,112.5 752,113.0" fill="none" stroke="#29d3ff" stroke-width="1.2" opacity="0.9"/>
<text x="756.6" y="108.2" font-size="9" fill="#eef3ff" style="font-family:'Liberation Sans','Noto Sans CJK SC',sans-serif">基础成本支出</text>
<rect x="876.5" y="121.5" width="28.5" height="12.5" fill="#0b3a6c" stroke="#1596d0" stroke-width="0.9"/>
<text x="890.7" y="130.4" font-size="7" fill="#9fe4ff" text-anchor="middle" style="font-family:'Liberation Sans','Noto Sans CJK SC',sans-serif">水电</text>
<rect x="907" y="121.5" width="27" height="12.5" fill="#0f2a4e"/>
<text x="920.5" y="130.4" font-size="7" fill="#d0d8ea" text-anchor="middle" style="font-family:'Liberation Sans','Noto Sans CJK SC',sans-serif">办公</text>
<text x="749" y="142.3" font-size="6.8" fill="#e0e4f0" style="font-family:'Liberation Sans','Noto Sans CJK SC',sans-serif">万元</text>
<text x="757.5" y="213.9" font-size="7" fill="#c7cde0" text-anchor="end" style="font-family:'Liberation Sans','Noto Sans CJK SC',sans-serif">0</text>
<line x1="761.6" y1="201.1" x2="948.7" y2="201.1" stroke="rgba(220,225,240,0.45)" stroke-width="0.8" stroke-dasharray="3,2"/>
<text x="757.5" y="203.6" font-size="7" fill="#c7cde0" text-anchor="end" style="font-family:'Liberation Sans','Noto Sans CJK SC',sans-serif">100</text>
<line x1="761.6" y1="190.8" x2="948.7" y2="190.8" stroke="rgba(220,225,240,0.45)" stroke-width="0.8" stroke-dasharray="3,2"/>
<text x="757.5" y="193.3" font-size="7" fill="#c7cde0" text-anchor="end" style="font-family:'Liberation Sans','Noto Sans CJK SC',sans-serif">200</text>
<line x1="761.6" y1="180.5" x2="948.7" y2="180.5" stroke="rgba(220,225,240,0.45)" stroke-width="0.8" stroke-dasharray="3,2"/>
<text x="757.5" y="183.0" font-size="7" fill="#c7cde0" text-anchor="end" style="font-family:'Liberation Sans','Noto Sans CJK SC',sans-serif">300</text>
<line x1="761.6" y1="170.20000000000002" x2="948.7" y2="170.20000000000002" stroke="rgba(220,225,240,0.45)" stroke-width="0.8" stroke-dasharray="3,2"/>
<text x="757.5" y="172.7" font-size="7" fill="#c7cde0" text-anchor="end" style="font-family:'Liberation Sans','Noto Sans CJK SC',sans-serif">400</text>
<line x1="761.6" y1="159.9" x2="948.7" y2="159.9" stroke="rgba(220,225,240,0.45)" stroke-width="0.8" stroke-dasharray="3,2"/>
<text x="757.5" y="162.4" font-size="7" fill="#c7cde0" text-anchor="end" style="font-family:'Liberation Sans','Noto Sans CJK SC',sans-serif">500</text>
<line x1="761.6" y1="149.60000000000002" x2="948.7" y2="149.60000000000002" stroke="rgba(220,225,240,0.45)" stroke-width="0.8" stroke-dasharray="3,2"/>
<text x="757.5" y="152.1" font-size="7" fill="#c7cde0" text-anchor="end" style="font-family:'Liberation Sans','Noto Sans CJK SC',sans-serif">600</text>
<line x1="761.6" y1="211.4" x2="948.7" y2="211.4" stroke="#c8ccd8" stroke-width="1"/>
<rect x="765.8" y="201.1" width="7.2" height="10.3" fill="url(#gorange2)"/>
<text x="772.4" y="219.5" font-size="7" fill="#c7cde0" text-anchor="end" transform="rotate(-45 772.4 219.5)" style="font-family:'Liberation Sans','Noto Sans CJK SC',sans-serif">1月</text>
<rect x="781.4" y="175.4" width="7.2" height="36.0" fill="url(#gorange2)"/>
<text x="788.0" y="219.5" font-size="7" fill="#c7cde0" text-anchor="end" transform="rotate(-45 788.0 219.5)" style="font-family:'Liberation Sans','Noto Sans CJK SC',sans-serif">2月</text>
<rect x="797.0" y="187.7" width="7.2" height="23.7" fill="url(#gorange2)"/>
<text x="803.6" y="219.5" font-size="7" fill="#c7cde0" text-anchor="end" transform="rotate(-45 803.6 219.5)" style="font-family:'Liberation Sans','Noto Sans CJK SC',sans-serif">3月</text>
<rect x="812.6" y="155.8" width="7.2" height="55.6" fill="url(#gorange2)"/>
<text x="819.2" y="219.5" font-size="7" fill="#c7cde0" text-anchor="end" transform="rotate(-45 819.2 219.5)" style="font-family:'Liberation Sans','Noto Sans CJK SC',sans-serif">4月</text>
<rect x="828.2" y="202.1" width="7.2" height="9.3" fill="url(#gorange2)"/>
<text x="834.8" y="219.5" font-size="7" fill="#c7cde0" text-anchor="end" transform="rotate(-45 834.8 219.5)" style="font-family:'Liberation Sans','Noto Sans CJK SC',sans-serif">5月</text>
<rect x="843.8" y="175.4" width="7.2" height="36.0" fill="url(#gorange2)"/>
<text x="850.4" y="219.5" font-size="7" fill="#c7cde0" text-anchor="end" transform="rotate(-45 850.4 219.5)" style="font-family:'Liberation Sans','Noto Sans CJK SC',sans-serif">6月</text>
<rect x="859.3" y="186.2" width="7.2" height="25.2" fill="url(#gorange2)"/>
<text x="865.9" y="219.5" font-size="7" fill="#c7cde0" text-anchor="end" transform="rotate(-45 865.9 219.5)" style="font-family:'Liberation Sans','Noto Sans CJK SC',sans-serif">7月</text>
<rect x="874.9" y="155.8" width="7.2" height="55.6" fill="url(#gorange2)"/>
<text x="881.5" y="219.5" font-size="7" fill="#c7cde0" text-anchor="end" transform="rotate(-45 881.5 219.5)" style="font-family:'Liberation Sans','Noto Sans CJK SC',sans-serif">8月</text>
<rect x="890.5" y="202.1" width="7.2" height="9.3" fill="url(#gorange2)"/>
<text x="897.1" y="219.5" font-size="7" fill="#c7cde0" text-anchor="end" transform="rotate(-45 897.1 219.5)" style="font-family:'Liberation Sans','Noto Sans CJK SC',sans-serif">9月</text>
<rect x="906.1" y="177.4" width="7.2" height="34.0" fill="url(#gorange2)"/>
<text x="912.7" y="219.5" font-size="7" fill="#c7cde0" text-anchor="end" transform="rotate(-45 912.7 219.5)" style="font-family:'Liberation Sans','Noto Sans CJK SC',sans-serif">10月</text>
<rect x="921.7" y="187.7" width="7.2" height="23.7" fill="url(#gorange2)"/>
<text x="928.3" y="219.5" font-size="7" fill="#c7cde0" text-anchor="end" transform="rotate(-45 928.3 219.5)" style="font-family:'Liberation Sans','Noto Sans CJK SC',sans-serif">11月</text>
<rect x="937.3" y="175.9" width="7.2" height="35.5" fill="url(#gorange2)"/>
<text x="943.9" y="219.5" font-size="7" fill="#c7cde0" text-anchor="end" transform="rotate(-45 943.9 219.5)" style="font-family:'Liberation Sans','Noto Sans CJK SC',sans-serif">12月</text>
<polygon points="745,240 879,240 879,257 739,257" fill="url(#tbg)"/>
<line x1="745" y1="240.5" x2="879" y2="240.5" stroke="url(#tln)" stroke-width="1"/>
<line x1="739" y1="256.5" x2="879" y2="256.5" stroke="url(#tln2)" stroke-width="1.5"/>
<polyline points="749,240.5 745,240.5 738,256 743,256.5" fill="none" stroke="#29d3ff" stroke-width="1.2" opacity="0.9"/>
<text x="748.6" y="251.7" font-size="9" fill="#eef3ff" style="font-family:'Liberation Sans','Noto Sans CJK SC',sans-serif">生产/研发成本支出</text>
<rect x="905.5" y="260.5" width="26.5" height="11.5" fill="#0b3a6c" stroke="#1596d0" stroke-width="0.9"/>
<text x="918.7" y="268.8" font-size="6.8" fill="#9fe4ff" text-anchor="middle" style="font-family:'Liberation Sans','Noto Sans CJK SC',sans-serif">生产</text>
<rect x="933" y="260.5" width="28.5" height="11.5" fill="#0f2a4e"/>
<text x="947.2" y="268.8" font-size="6.8" fill="#d0d8ea" text-anchor="middle" style="font-family:'Liberation Sans','Noto Sans CJK SC',sans-serif">研发</text>
<rect x="831" y="268.8" width="5" height="5" rx="1" fill="#f08a10"/>
<text x="838" y="274.3" font-size="8" fill="#d8dcea" style="font-family:'Liberation Sans','Noto Sans CJK SC',sans-serif">实际</text>
<rect x="860" y="268.8" width="5" height="5" rx="1" fill="#16c6d8"/>
<text x="866.5" y="274.3" font-size="8" fill="#d8dcea" style="font-family:'Liberation Sans','Noto Sans CJK SC',sans-serif">计划</text>
<text x="737.7" y="279" font-size="7.5" fill="#e0e4f0" style="font-family:'Liberation Sans','Noto Sans CJK SC',sans-serif">万元</text>
<text x="748.6" y="377.2" font-size="7.2" fill="#c7cde0" text-anchor="end" style="font-family:'Liberation Sans','Noto Sans CJK SC',sans-serif">0</text>
<line x1="752.9" y1="357.26000000000005" x2="966.6" y2="357.26000000000005" stroke="rgba(220,225,240,0.45)" stroke-width="0.8" stroke-dasharray="3,2"/>
<text x="748.6" y="359.9" font-size="7.2" fill="#c7cde0" text-anchor="end" style="font-family:'Liberation Sans','Noto Sans CJK SC',sans-serif">50</text>
<line x1="752.9" y1="339.92" x2="966.6" y2="339.92" stroke="rgba(220,225,240,0.45)" stroke-width="0.8" stroke-dasharray="3,2"/>
<text x="748.6" y="342.5" font-size="7.2" fill="#c7cde0" text-anchor="end" style="font-family:'Liberation Sans','Noto Sans CJK SC',sans-serif">100</text>
<line x1="752.9" y1="322.58000000000004" x2="966.6" y2="322.58000000000004" stroke="rgba(220,225,240,0.45)" stroke-width="0.8" stroke-dasharray="3,2"/>
<text x="748.6" y="325.2" font-size="7.2" fill="#c7cde0" text-anchor="end" style="font-family:'Liberation Sans','Noto Sans CJK SC',sans-serif">150</text>
<line x1="752.9" y1="305.24" x2="966.6" y2="305.24" stroke="rgba(220,225,240,0.45)" stroke-width="0.8" stroke-dasharray="3,2"/>
<text x="748.6" y="307.8" font-size="7.2" fill="#c7cde0" text-anchor="end" style="font-family:'Liberation Sans','Noto Sans CJK SC',sans-serif">200</text>
<line x1="752.9" y1="287.90000000000003" x2="966.6" y2="287.90000000000003" stroke="rgba(220,225,240,0.45)" stroke-width="0.8" stroke-dasharray="3,2"/>
<text x="748.6" y="290.5" font-size="7.2" fill="#c7cde0" text-anchor="end" style="font-family:'Liberation Sans','Noto Sans CJK SC',sans-serif">250</text>
<line x1="752.9" y1="374.6" x2="966.6" y2="374.6" stroke="#c8ccd8" stroke-width="1"/>
<path d="M761.80,332.98 C761.80,332.98 770.19,342.42 779.61,350.67 C788.00,358.02 791.87,364.20 797.42,364.20 C809.68,364.20 802.41,336.79 815.23,318.07 C820.22,310.79 827.67,310.79 833.04,310.79 C845.48,310.79 839.57,351.71 850.85,351.71 C857.38,351.71 861.45,332.98 868.65,332.98 C879.26,332.98 878.33,366.62 886.46,366.62 C896.14,366.62 892.28,343.34 904.27,325.01 C910.09,316.12 915.73,312.18 922.08,312.18 C933.54,312.18 928.05,347.55 939.89,347.55 C945.86,347.55 957.70,338.53 957.70,338.53" fill="none" stroke="#16c6d0" stroke-width="1.5"/>
<path d="M761.80,297.96 C761.80,297.96 768.37,351.02 779.61,351.02 C786.18,351.02 787.65,323.62 797.42,323.62 C805.46,323.62 808.60,343.73 815.23,343.73 C826.40,343.73 824.73,302.12 833.04,302.12 C842.53,302.12 837.71,337.98 850.85,350.67 C855.51,355.18 863.76,355.18 868.65,355.18 C881.57,355.18 874.07,329.77 886.46,310.10 C891.88,301.50 899.12,298.65 904.27,298.65 C916.93,298.65 909.13,347.55 922.08,347.55 C926.94,347.55 932.56,339.57 939.89,339.57 C950.37,339.57 957.70,361.07 957.70,361.07" fill="none" stroke="#f08a10" stroke-width="1.5"/>
<text x="764.8" y="380" font-size="7.2" fill="#c7cde0" text-anchor="end" transform="rotate(-45 764.8 380)" style="font-family:'Liberation Sans','Noto Sans CJK SC',sans-serif">1月</text>
<text x="782.6" y="380" font-size="7.2" fill="#c7cde0" text-anchor="end" transform="rotate(-45 782.6 380)" style="font-family:'Liberation Sans','Noto Sans CJK SC',sans-serif">2月</text>
<text x="800.4" y="380" font-size="7.2" fill="#c7cde0" text-anchor="end" transform="rotate(-45 800.4 380)" style="font-family:'Liberation Sans','Noto Sans CJK SC',sans-serif">3月</text>
<text x="818.2" y="380" font-size="7.2" fill="#c7cde0" text-anchor="end" transform="rotate(-45 818.2 380)" style="font-family:'Liberation Sans','Noto Sans CJK SC',sans-serif">4月</text>
<text x="836.0" y="380" font-size="7.2" fill="#c7cde0" text-anchor="end" transform="rotate(-45 836.0 380)" style="font-family:'Liberation Sans','Noto Sans CJK SC',sans-serif">5月</text>
<text x="853.8" y="380" font-size="7.2" fill="#c7cde0" text-anchor="end" transform="rotate(-45 853.8 380)" style="font-family:'Liberation Sans','Noto Sans CJK SC',sans-serif">6月</text>
<text x="871.7" y="380" font-size="7.2" fill="#c7cde0" text-anchor="end" transform="rotate(-45 871.7 380)" style="font-family:'Liberation Sans','Noto Sans CJK SC',sans-serif">7月</text>
<text x="889.5" y="380" font-size="7.2" fill="#c7cde0" text-anchor="end" transform="rotate(-45 889.5 380)" style="font-family:'Liberation Sans','Noto Sans CJK SC',sans-serif">8月</text>
<text x="907.3" y="380" font-size="7.2" fill="#c7cde0" text-anchor="end" transform="rotate(-45 907.3 380)" style="font-family:'Liberation Sans','Noto Sans CJK SC',sans-serif">9月</text>
<text x="925.1" y="380" font-size="7.2" fill="#c7cde0" text-anchor="end" transform="rotate(-45 925.1 380)" style="font-family:'Liberation Sans','Noto Sans CJK SC',sans-serif">10月</text>
<text x="942.9" y="380" font-size="7.2" fill="#c7cde0" text-anchor="end" transform="rotate(-45 942.9 380)" style="font-family:'Liberation Sans','Noto Sans CJK SC',sans-serif">11月</text>
<text x="960.7" y="380" font-size="7.2" fill="#c7cde0" text-anchor="end" transform="rotate(-45 960.7 380)" style="font-family:'Liberation Sans','Noto Sans CJK SC',sans-serif">12月</text>
<polygon points="728,400 852,400 852,417 722,417" fill="url(#tbg)"/>
<line x1="728" y1="400.5" x2="852" y2="400.5" stroke="url(#tln)" stroke-width="1"/>
<line x1="722" y1="416.5" x2="852" y2="416.5" stroke="url(#tln2)" stroke-width="1.5"/>
<polyline points="732,400.5 728,400.5 721,416 726,416.5" fill="none" stroke="#29d3ff" stroke-width="1.2" opacity="0.9"/>
<text x="733" y="411.7" font-size="9" fill="#eef3ff" style="font-family:'Liberation Sans','Noto Sans CJK SC',sans-serif">供应商支付统计</text>
<path d="M732,446 L792,446 L814,498 L710,498 Z" fill="url(#cone)"/>
<ellipse cx="762" cy="507" rx="72" ry="13" fill="none" stroke="#1a5ac0" stroke-width="1" opacity="0.6"/>
<ellipse cx="762" cy="505" rx="58" ry="10" fill="url(#pedbase)"/>
<ellipse cx="762" cy="505" rx="58" ry="10" fill="none" stroke="#2a80e0" stroke-width="1" opacity="0.8"/>
<ellipse cx="762" cy="499" rx="46" ry="5" fill="#3ab8ff" opacity="0.75" filter="url(#blur1)"/>
<ellipse cx="760" cy="500" rx="14" ry="2" fill="#e0f8ff" opacity="0.9" filter="url(#blur1)"/>
<text x="760" y="468.5" font-size="15" fill="#f0d84a" text-anchor="middle" style="font-family:'Liberation Sans','Noto Sans CJK SC',sans-serif">8384.16 <tspan font-size="10">万元</tspan></text>
<text x="760" y="481" font-size="8" fill="#e0e8ff" text-anchor="middle" style="font-family:'Liberation Sans','Noto Sans CJK SC',sans-serif">应付金额</text>
<rect x="843" y="432" width="113" height="46" fill="url(#supbox)"/>
<rect x="843" y="481" width="113" height="45" fill="url(#supbox)"/>
<circle cx="848" cy="454" r="13" fill="#0c2458" stroke="#1e60c0" stroke-width="1"/>
<rect x="841" y="450" width="14" height="9" rx="1.5" fill="#7fd8ff"/><rect x="841" y="452.5" width="14" height="1.6" fill="#0c2458"/><rect x="849" y="455.5" width="4" height="2" fill="#0c2458"/>
<circle cx="841" cy="502" r="13" fill="#0c2458" stroke="#1e60c0" stroke-width="1"/>
<rect x="834" y="497.5" width="11" height="2" rx="1" fill="#7fd8ff"/><rect x="834" y="501.2" width="9" height="2" rx="1" fill="#7fd8ff"/><rect x="834" y="505" width="11" height="2" rx="1" fill="#7fd8ff"/><path d="M844,499 L849,502 L844,505 Z" fill="#7fd8ff"/>
<text x="869.7" y="451.5" font-size="8" fill="#e0e8ff" style="font-family:'Liberation Sans','Noto Sans CJK SC',sans-serif">未付款金额</text>
<text x="870.5" y="469" font-size="15" fill="#f0d84a" style="font-family:'Liberation Sans','Noto Sans CJK SC',sans-serif">8384.16 <tspan font-size="10">万元</tspan></text>
<text x="859" y="500" font-size="8" fill="#e0e8ff" style="font-family:'Liberation Sans','Noto Sans CJK SC',sans-serif">已付款金额</text>
<text x="859" y="516" font-size="15" fill="#f0d84a" style="font-family:'Liberation Sans','Noto Sans CJK SC',sans-serif">8384.16 <tspan font-size="10">万元</tspan></text>
<polygon points="350,371.5 494,371.5 494,388.5 344,388.5" fill="url(#tbg)"/>
<line x1="350" y1="372.0" x2="494" y2="372.0" stroke="url(#tln)" stroke-width="1"/>
<line x1="344" y1="388.0" x2="494" y2="388.0" stroke="url(#tln2)" stroke-width="1.5"/>
<polyline points="354,372.0 350,372.0 343,387.5 348,388.0" fill="none" stroke="#29d3ff" stroke-width="1.2" opacity="0.9"/>
<text x="351" y="383.2" font-size="9" fill="#eef3ff" style="font-family:'Liberation Sans','Noto Sans CJK SC',sans-serif">年度八人行业投入产出情况</text>
<rect x="593" y="391.5" width="5.5" height="5.5" rx="1" fill="#5a6ed0"/>
<text x="600" y="397.6" font-size="7.6" fill="#e0e4f0" style="font-family:'Liberation Sans','Noto Sans CJK SC',sans-serif">合同额</text>
<rect x="631" y="391.5" width="5.5" height="5.5" rx="1" fill="#1ab0f0"/>
<text x="638" y="397.6" font-size="7.6" fill="#e0e4f0" style="font-family:'Liberation Sans','Noto Sans CJK SC',sans-serif">成本支出</text>
<rect x="674" y="391.5" width="5.5" height="5.5" rx="1" fill="#ffa800"/>
<text x="681" y="397.6" font-size="7.6" fill="#e0e4f0" style="font-family:'Liberation Sans','Noto Sans CJK SC',sans-serif">差额</text>
<line x1="378.7" y1="403.8" x2="698.6" y2="403.8" stroke="rgba(220,225,240,0.45)" stroke-width="0.8" stroke-dasharray="2.5,2"/>
<line x1="378.7" y1="420.075" x2="698.6" y2="420.075" stroke="rgba(220,225,240,0.45)" stroke-width="0.8" stroke-dasharray="2.5,2"/>
<line x1="378.7" y1="436.35" x2="698.6" y2="436.35" stroke="rgba(220,225,240,0.45)" stroke-width="0.8" stroke-dasharray="2.5,2"/>
<line x1="378.7" y1="452.625" x2="698.6" y2="452.625" stroke="rgba(220,225,240,0.45)" stroke-width="0.8" stroke-dasharray="2.5,2"/>
<line x1="378.7" y1="468.9" x2="698.6" y2="468.9" stroke="rgba(220,225,240,0.45)" stroke-width="0.8" stroke-dasharray="2.5,2"/>
<line x1="378.7" y1="485.175" x2="698.6" y2="485.175" stroke="rgba(220,225,240,0.45)" stroke-width="0.8" stroke-dasharray="2.5,2"/>
<line x1="378.7" y1="501.45" x2="698.6" y2="501.45" stroke="rgba(220,225,240,0.45)" stroke-width="0.8" stroke-dasharray="2.5,2"/>
<line x1="378.7" y1="517.725" x2="698.6" y2="517.725" stroke="rgba(220,225,240,0.45)" stroke-width="0.8" stroke-dasharray="2.5,2"/>
<line x1="377.6" y1="403.8" x2="377.6" y2="534" stroke="rgba(220,225,240,0.45)" stroke-width="0.8" stroke-dasharray="2.5,2"/>
<text x="377.6" y="543.5" font-size="6.5" fill="#c7cde0" text-anchor="middle" style="font-family:'Liberation Sans','Noto Sans CJK SC',sans-serif">-400</text>
<line x1="430.9" y1="403.8" x2="430.9" y2="534" stroke="rgba(220,225,240,0.45)" stroke-width="0.8" stroke-dasharray="2.5,2"/>
<text x="430.9" y="543.5" font-size="6.5" fill="#c7cde0" text-anchor="middle" style="font-family:'Liberation Sans','Noto Sans CJK SC',sans-serif">-200</text>
<line x1="484.2" y1="403.8" x2="484.2" y2="534" stroke="rgba(220,225,240,0.45)" stroke-width="0.8" stroke-dasharray="2.5,2"/>
<text x="484.2" y="543.5" font-size="6.5" fill="#c7cde0" text-anchor="middle" style="font-family:'Liberation Sans','Noto Sans CJK SC',sans-serif">0</text>
<line x1="537.5" y1="403.8" x2="537.5" y2="534" stroke="rgba(220,225,240,0.45)" stroke-width="0.8" stroke-dasharray="2.5,2"/>
<text x="537.5" y="543.5" font-size="6.5" fill="#c7cde0" text-anchor="middle" style="font-family:'Liberation Sans','Noto Sans CJK SC',sans-serif">200</text>
<line x1="590.8" y1="403.8" x2="590.8" y2="534" stroke="rgba(220,225,240,0.45)" stroke-width="0.8" stroke-dasharray="2.5,2"/>
<text x="590.8" y="543.5" font-size="6.5" fill="#c7cde0" text-anchor="middle" style="font-family:'Liberation Sans','Noto Sans CJK SC',sans-serif">400</text>
<line x1="644.1" y1="403.8" x2="644.1" y2="534" stroke="rgba(220,225,240,0.45)" stroke-width="0.8" stroke-dasharray="2.5,2"/>
<text x="644.1" y="543.5" font-size="6.5" fill="#c7cde0" text-anchor="middle" style="font-family:'Liberation Sans','Noto Sans CJK SC',sans-serif">600</text>
<line x1="697.5" y1="403.8" x2="697.5" y2="534" stroke="rgba(220,225,240,0.45)" stroke-width="0.8" stroke-dasharray="2.5,2"/>
<text x="697.5" y="543.5" font-size="6.5" fill="#c7cde0" text-anchor="middle" style="font-family:'Liberation Sans','Noto Sans CJK SC',sans-serif">800</text>
<line x1="378.7" y1="534" x2="698.6" y2="534" stroke="#c8ccd8" stroke-width="1"/>
<line x1="378.7" y1="403.8" x2="378.7" y2="534" stroke="#c8ccd8" stroke-width="0.8"/>
<rect x="412.2" y="405.8" width="72.0" height="4.6" fill="#1ab0ee"/>
<rect x="484.2" y="412.6" width="159.9" height="5" fill="url(#gorangeh)"/>
<text x="374" y="414.3" font-size="6.8" fill="#c7cde0" text-anchor="end" style="font-family:'Liberation Sans','Noto Sans CJK SC',sans-serif">工程机械</text>
<rect x="450.9" y="422.1" width="33.3" height="4.6" fill="#1ab0ee"/>
<rect x="484.2" y="428.9" width="109.3" height="5" fill="url(#gorangeh)"/>
<text x="374" y="430.6" font-size="6.8" fill="#c7cde0" text-anchor="end" style="font-family:'Liberation Sans','Noto Sans CJK SC',sans-serif">商用车</text>
<rect x="434.9" y="438.4" width="49.3" height="4.6" fill="#1ab0ee"/>
<rect x="484.2" y="445.2" width="144.8" height="5" fill="url(#gorangeh)"/>
<text x="374" y="446.9" font-size="6.8" fill="#c7cde0" text-anchor="end" style="font-family:'Liberation Sans','Noto Sans CJK SC',sans-serif">油田</text>
<rect x="466.3" y="454.6" width="17.9" height="4.6" fill="#1ab0ee"/>
<rect x="484.2" y="461.4" width="174.3" height="5" fill="url(#gorangeh)"/>
<text x="374" y="463.2" font-size="6.8" fill="#c7cde0" text-anchor="end" style="font-family:'Liberation Sans','Noto Sans CJK SC',sans-serif">军工</text>
<rect x="412.2" y="470.9" width="72.0" height="4.6" fill="#1ab0ee"/>
<rect x="484.2" y="477.7" width="187.9" height="5" fill="url(#gorangeh)"/>
<text x="374" y="479.4" font-size="6.8" fill="#c7cde0" text-anchor="end" style="font-family:'Liberation Sans','Noto Sans CJK SC',sans-serif">医药</text>
<rect x="447.9" y="487.2" width="36.3" height="4.6" fill="#1ab0ee"/>
<rect x="484.2" y="494.0" width="120.8" height="5" fill="url(#gorangeh)"/>
<text x="374" y="495.7" font-size="6.8" fill="#c7cde0" text-anchor="end" style="font-family:'Liberation Sans','Noto Sans CJK SC',sans-serif">光伏</text>
<rect x="434.9" y="503.4" width="49.3" height="4.6" fill="#1ab0ee"/>
<rect x="484.2" y="510.2" width="210.6" height="5" fill="url(#gorangeh)"/>
<text x="374" y="512.0" font-size="6.8" fill="#c7cde0" text-anchor="end" style="font-family:'Liberation Sans','Noto Sans CJK SC',sans-serif">锂电</text>
<rect x="471.7" y="519.7" width="12.5" height="4.6" fill="#1ab0ee"/>
<rect x="484.2" y="526.5" width="134.1" height="5" fill="url(#gorangeh)"/>
<text x="374" y="528.3" font-size="6.8" fill="#c7cde0" text-anchor="end" style="font-family:'Liberation Sans','Noto Sans CJK SC',sans-serif">芯片</text>
<rect x="0" y="566" width="1024" height="11" fill="url(#botglow)"/>
<polygon points="76.0,578.0 104.0,559.0 110.0,557.0 166.0,557.0 172.0,559.0 184.0,567.0 184,578" fill="#112765"/>
<polygon points="956.0,578.0 928.0,559.0 922.0,557.0 866.0,557.0 860.0,559.0 848.0,567.0 848,578" fill="#112765"/>
<path d="M414,571 C432,570.5 442,567 450,561 C456,555.5 460,552.5 468,552.5 L558,552.5 C566,552.5 570,555.5 576,561 C584,567 594,570.5 612,571 Z" fill="#15337e"/>
<path d="M414,571 C432,570.5 442,567 450,561 C456,555.5 460,552.5 468,552.5 L558,552.5 C566,552.5 570,555.5 576,561 C584,567 594,570.5 612,571 Z" fill="url(#dstripes)" opacity="0.6"/>
<path d="M76,578 L104,559 C106,557.5 108,557 112,557 L164,557 C168,557 170,557.5 172,559 L182,566 C184,568.5 186,569.5 190,569.5 L414,570.5 C432,570 442,567 450,561 C456,555.5 460,552.5 468,552.5 L558,552.5 C566,552.5 570,555.5 576,561 C584,567 594,570 612,570.5 L842,569.5 C846,569.5 848,568.5 850,567 L860,559 C862,557.5 864,557 868,557 L920,557 C924,557 926,557.5 928,559 L956,578" fill="none" stroke="#2f6ef2" stroke-width="3"/>
<path d="M92,578 L110,563 L168,563 L180,572 L190,573" fill="none" stroke="#1e48b8" stroke-width="1"/>
<path d="M940,578 L922,563 L864,563 L852,572 L842,573" fill="none" stroke="#1e48b8" stroke-width="1"/>
<line x1="105" y1="575" x2="110" y2="568" stroke="#2f5fd8" stroke-width="1.4"/>
<line x1="931" y1="575" x2="926" y2="568" stroke="#2f5fd8" stroke-width="1.4"/>
<line x1="109" y1="575" x2="114" y2="568" stroke="#2f5fd8" stroke-width="1.4"/>
<line x1="927" y1="575" x2="922" y2="568" stroke="#2f5fd8" stroke-width="1.4"/>
<line x1="113" y1="575" x2="118" y2="568" stroke="#2f5fd8" stroke-width="1.4"/>
<line x1="923" y1="575" x2="918" y2="568" stroke="#2f5fd8" stroke-width="1.4"/>
<line x1="117" y1="575" x2="122" y2="568" stroke="#2f5fd8" stroke-width="1.4"/>
<line x1="919" y1="575" x2="914" y2="568" stroke="#2f5fd8" stroke-width="1.4"/>
<line x1="121" y1="575" x2="126" y2="568" stroke="#2f5fd8" stroke-width="1.4"/>
<line x1="915" y1="575" x2="910" y2="568" stroke="#2f5fd8" stroke-width="1.4"/>
<circle cx="132" cy="572" r="1.6" fill="#4a7ad8"/>
<circle cx="900" cy="572" r="1.6" fill="#4a7ad8"/>
<rect x="143" y="571" width="7" height="2" rx="1" fill="#f2c53a"/>
<rect x="156" y="571" width="8" height="2" rx="1" fill="#3fd8f0"/>
<rect x="881" y="571" width="8" height="2" rx="1" fill="#f2c53a"/>
<rect x="868" y="571" width="8" height="2" rx="1" fill="#3fd8f0"/>
<path d="M506,561 L512,565 L518,561 L518,563.5 L512,567.5 L506,563.5 Z" fill="#e8b828"/>
<path d="M507,565 L512,568.5 L517,565 L517,567 L512,570.5 L507,567 Z" fill="#c89a20" opacity="0.8"/>
<rect x="0" y="575.4" width="1024" height="2" fill="#f4f5f8"/>
<rect x="202" y="575.4" width="77" height="2" fill="#8a8a8a"/>
<rect x="752" y="575.4" width="80" height="2" fill="#8a8a8a"/>
<path d="M93,62 C88.5,62 88,56 91.5,54.5 C91,50 95.5,48 98.5,50 C100,45.5 107,45 109,49.5 C110,52 110,53 109.5,54 C114,54 115.5,59.5 112,61.5 C111.5,62 110.5,62 109.5,62 Z" fill="none" stroke="#4a72e6" stroke-width="2"/>
<path d="M98.5,50 C100,45.5 107,45 109,49.5" fill="none" stroke="#95aef2" stroke-width="2"/>
<text x="119.5" y="62.5" font-size="23" fill="#eef0f6" style="font-family:'Noto Sans CJK SC',sans-serif;font-weight:300">11</text>
<text x="143" y="51" font-size="7" fill="#eef0f6" style="font-family:'Liberation Sans','Noto Sans CJK SC',sans-serif">°</text>
<text x="148.5" y="51.3" font-size="7.5" fill="#eef0f6" style="font-family:'Liberation Sans','Noto Sans CJK SC',sans-serif">多云</text>
<text x="148.5" y="62" font-size="8" fill="#dfe3ee" style="font-family:'Liberation Sans','Noto Sans CJK SC',sans-serif">03月20日</text>
<text x="849" y="65.6" font-size="11.5" fill="#e4e8f2" style="font-family:'Liberation Sans','Noto Sans CJK SC',sans-serif" textLength="81" lengthAdjust="spacingAndGlyphs">2023-03-20 18:10</text>
<text x="512" y="24.5" font-size="17" fill="#f0f4ff" text-anchor="middle" style="font-family:'Liberation Sans','Noto Sans CJK SC',sans-serif">领导驾驶舱-财务篇</text>
<g filter="url(#thickJ)">
<text x="383.4" y="494.6" transform="scale(1.73,1)" font-size="61" fill="#f08a00" style="font-family:'Noto Sans CJK SC',sans-serif;font-weight:100">J</text>
<text x="251.9 281.6 311.6 343.7" y="494.6" transform="scale(2.8,1)" font-size="61" fill="#f08a00" style="font-family:'Noto Sans CJK SC',sans-serif;font-weight:100">EREI</text>
</g>
<text x="691.5" y="529" font-size="26" fill="#707176" letter-spacing="1" style="font-family:'Liberation Sans','Noto Sans CJK SC',sans-serif">捷瑞</text>
<g filter="url(#thickD)">
<text x="272.1 285.2 290.4 302.7 308.8 319.3 330.7" y="528.3" transform="scale(2.75,1)" font-size="17.9" fill="#707176" style="font-family:'Noto Sans CJK SC',sans-serif;font-weight:100">DIGITAL</text>
</g>
<text x="935" y="529" font-size="26" fill="#707176" letter-spacing="2" style="font-family:'Liberation Sans','Noto Sans CJK SC',sans-serif">数字</text>
</svg>
</div></body></html>
